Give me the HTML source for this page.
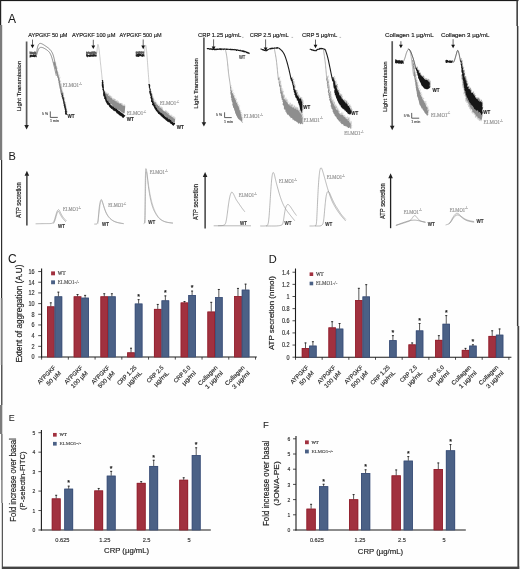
<!DOCTYPE html>
<html><head><meta charset="utf-8"><style>
html,body{margin:0;padding:0;background:#fff;overflow:hidden;}
svg{display:block;will-change:transform;}
text{font-family:"Liberation Sans", sans-serif;}
</style></head><body>
<svg width="520" height="569" viewBox="0 0 520 569">
<rect x="0" y="0" width="520" height="569" fill="#fefefe"/>
<text x="8" y="22.6" font-size="12" fill="#1a1a1a" stroke="#1a1a1a" stroke-width="0.05">A</text>
<text x="28.3" y="37" font-size="6" fill="#1a1a1a" textLength="39.2" lengthAdjust="spacingAndGlyphs" stroke="#1a1a1a" stroke-width="0.16">AYPGKF 50 µM</text>
<text x="72" y="37" font-size="6" fill="#1a1a1a" textLength="43.4" lengthAdjust="spacingAndGlyphs" stroke="#1a1a1a" stroke-width="0.16">AYPGKF 100 µM</text>
<text x="119.5" y="37" font-size="6" fill="#1a1a1a" textLength="42" lengthAdjust="spacingAndGlyphs" stroke="#1a1a1a" stroke-width="0.16">AYPGKF 500 µM</text>
<text x="198" y="37" font-size="6" fill="#1a1a1a" textLength="43.2" lengthAdjust="spacingAndGlyphs" stroke="#1a1a1a" stroke-width="0.16">CRP 1.25 µg/mL</text>
<text x="249.8" y="37" font-size="6" fill="#1a1a1a" textLength="39" lengthAdjust="spacingAndGlyphs" stroke="#1a1a1a" stroke-width="0.16">CRP 2.5 µg/mL</text>
<text x="302" y="37" font-size="6" fill="#1a1a1a" textLength="35.2" lengthAdjust="spacingAndGlyphs" stroke="#1a1a1a" stroke-width="0.16">CRP 5 µg/mL</text>
<text x="385.1" y="37" font-size="6" fill="#1a1a1a" textLength="48.5" lengthAdjust="spacingAndGlyphs" stroke="#1a1a1a" stroke-width="0.16">Collagen 1 µg/mL</text>
<text x="441" y="37" font-size="6" fill="#1a1a1a" textLength="48.5" lengthAdjust="spacingAndGlyphs" stroke="#1a1a1a" stroke-width="0.16">Collagen 3 µg/mL</text>
<line x1="242" y1="37.4" x2="243.6" y2="37.4" stroke="#777" stroke-width="0.5"/>
<line x1="291.5" y1="37.4" x2="293.1" y2="37.4" stroke="#777" stroke-width="0.5"/>
<line x1="339.5" y1="37.4" x2="341.1" y2="37.4" stroke="#777" stroke-width="0.5"/>
<text x="20.6" y="86" font-size="6" fill="#222" text-anchor="middle" textLength="50.6" lengthAdjust="spacingAndGlyphs" transform="rotate(-90 20.6 86)" stroke="#222" stroke-width="0.16">Light Transmission</text>
<line x1="26.6" y1="41.5" x2="26.6" y2="125.9" stroke="#5a5a5a" stroke-width="1.7"/>
<polygon points="24.3,125 28.9,125 26.6,129.4" fill="#222" stroke="none" stroke-width="1" stroke-linejoin="round"/>
<text x="198.2" y="83.4" font-size="6" fill="#222" text-anchor="middle" textLength="50.6" lengthAdjust="spacingAndGlyphs" transform="rotate(-90 198.2 83.4)" stroke="#222" stroke-width="0.16">Light Transmission</text>
<line x1="203.9" y1="37.4" x2="203.9" y2="123.1" stroke="#5a5a5a" stroke-width="1.7"/>
<polygon points="201.6,122.2 206.2,122.2 203.9,126.6" fill="#222" stroke="none" stroke-width="1" stroke-linejoin="round"/>
<text x="386.6" y="86.7" font-size="6" fill="#222" text-anchor="middle" textLength="50.6" lengthAdjust="spacingAndGlyphs" transform="rotate(-90 386.6 86.7)" stroke="#222" stroke-width="0.16">Light Transmission</text>
<line x1="392.2" y1="41.2" x2="392.2" y2="126.7" stroke="#5a5a5a" stroke-width="1.7"/>
<polygon points="389.9,125.8 394.5,125.8 392.2,130.2" fill="#222" stroke="none" stroke-width="1" stroke-linejoin="round"/>
<line x1="32.5" y1="39.6" x2="32.5" y2="45.2" stroke="#555" stroke-width="0.9"/>
<polygon points="30.6,44.7 34.4,44.7 32.5,48.3" fill="#111" stroke="none" stroke-width="1" stroke-linejoin="round"/>
<line x1="93.3" y1="39.8" x2="93.3" y2="45.9" stroke="#555" stroke-width="0.9"/>
<polygon points="91.4,45.4 95.2,45.4 93.3,49" fill="#111" stroke="none" stroke-width="1" stroke-linejoin="round"/>
<line x1="143.2" y1="39.5" x2="143.2" y2="46.1" stroke="#555" stroke-width="0.9"/>
<polygon points="141.3,45.6 145.1,45.6 143.2,49.2" fill="#111" stroke="none" stroke-width="1" stroke-linejoin="round"/>
<line x1="213.6" y1="39.3" x2="213.6" y2="46.9" stroke="#555" stroke-width="0.9"/>
<polygon points="211.7,46.4 215.5,46.4 213.6,50" fill="#111" stroke="none" stroke-width="1" stroke-linejoin="round"/>
<line x1="265.6" y1="39.4" x2="265.6" y2="47.9" stroke="#555" stroke-width="0.9"/>
<polygon points="263.7,47.4 267.5,47.4 265.6,51" fill="#111" stroke="none" stroke-width="1" stroke-linejoin="round"/>
<line x1="315.5" y1="39.6" x2="315.5" y2="45.2" stroke="#555" stroke-width="0.9"/>
<polygon points="313.6,44.7 317.4,44.7 315.5,48.3" fill="#111" stroke="none" stroke-width="1" stroke-linejoin="round"/>
<line x1="400.9" y1="41.2" x2="400.9" y2="45.2" stroke="#555" stroke-width="0.9"/>
<polygon points="399,44.7 402.8,44.7 400.9,48.3" fill="#111" stroke="none" stroke-width="1" stroke-linejoin="round"/>
<line x1="453.1" y1="39.2" x2="453.1" y2="45.2" stroke="#555" stroke-width="0.9"/>
<polygon points="451.2,44.7 455,44.7 453.1,48.3" fill="#111" stroke="none" stroke-width="1" stroke-linejoin="round"/>
<text x="42" y="115.4" font-size="3.4" fill="#555" textLength="6" lengthAdjust="spacingAndGlyphs" stroke="#555" stroke-width="0.16">5 %</text>
<path d="M50.3,111.8 L50.3,117.4 L57.4,117.4" fill="none" stroke="#333" stroke-width="0.8" stroke-linejoin="round" stroke-linecap="round"/>
<text x="50" y="121.9" font-size="3.2" fill="#555" textLength="9" lengthAdjust="spacingAndGlyphs" stroke="#555" stroke-width="0.16">1 min</text>
<text x="216" y="116.3" font-size="3.4" fill="#555" textLength="6" lengthAdjust="spacingAndGlyphs" stroke="#555" stroke-width="0.16">5 %</text>
<path d="M224.6,112.7 L224.6,117.6 L231.3,117.6" fill="none" stroke="#333" stroke-width="0.8" stroke-linejoin="round" stroke-linecap="round"/>
<text x="224" y="123" font-size="3.2" fill="#555" textLength="9" lengthAdjust="spacingAndGlyphs" stroke="#555" stroke-width="0.16">1 min</text>
<text x="403.7" y="116.7" font-size="3.4" fill="#555" textLength="6" lengthAdjust="spacingAndGlyphs" stroke="#555" stroke-width="0.16">5 %</text>
<path d="M411.7,113.3 L411.7,118.2 L418.8,118.2" fill="none" stroke="#333" stroke-width="0.8" stroke-linejoin="round" stroke-linecap="round"/>
<text x="411.3" y="123.1" font-size="3.2" fill="#555" textLength="9" lengthAdjust="spacingAndGlyphs" stroke="#555" stroke-width="0.16">1 min</text>
<polygon points="29.39,51.45 30.1,51.37 30.54,51.67 30.76,51.81 31.25,51.73 31.78,51.39 32.5,52.13 32.82,51.52 33.63,52.25 34.11,51.7 34.86,51.35 35.29,51.59 35.37,51.42 35.98,52.12 36.41,51.88 36.76,54.37 35.82,54.47 35.38,54.29 35.03,54.56 34.86,53.92 34.2,54.09 33.57,54.68 32.9,54.37 32.72,54.5 32.01,54.1 31.42,54.39 31.13,54.23 30.25,54.01 30.04,53.86 29.58,54.17" fill="#5c5c5c" stroke="none" stroke-width="1" stroke-linejoin="round"/>
<polygon points="29.75,54.4 30.14,54.7 30.57,54.55 31.25,55.09 31.51,54.78 31.75,54.82 32.64,55.14 33.26,54.36 33.48,54.79 33.75,54.56 34.35,54.18 34.79,54.9 35.34,54.32 36.02,55.01 36.32,54.54 36.85,57.33 36.36,57.31 35.7,56.51 35.09,57.13 34.87,57.21 33.98,57.07 33.23,56.91 33.11,56.74 32.37,56.98 31.82,56.71 31.83,56.62 30.93,57.42 30.37,56.91 30.22,57.4 29.53,57.42" fill="#1e1e1e" stroke="none" stroke-width="1" stroke-linejoin="round"/>
<polyline points="36.6,52.2 36.62,52.11 36.65,51.93 36.69,51.67 36.76,51.31 36.83,50.86 36.93,50.33 37.04,49.71 37.16,48.99 37.3,48.32 37.44,47.69 37.59,47.09 37.76,46.53 37.93,46.02 38.11,45.54 38.3,45.1 38.5,44.7 38.71,44.35 38.93,44.06 39.17,43.82 39.41,43.63 39.66,43.5 39.93,43.42 40.21,43.39 40.49,43.41 40.8,43.47 41.12,43.55 41.47,43.67 41.83,43.81 42.21,43.98 42.61,44.19 43.03,44.42 43.47,44.68 43.93,44.97 44.43,45.29 44.95,45.63 45.5,46 46.08,46.39 46.68,46.81 47.32,47.26 47.98,47.74 48.6,48.23 49.18,48.72 49.72,49.24 50.22,49.76 50.68,50.3 51.1,50.85 51.48,51.41 51.82,51.99 52.14,52.59 52.44,53.23 52.73,53.89 53,54.58 53.25,55.31 53.48,56.06 53.7,56.84 53.9,57.66 54.1,58.47 54.29,59.28 54.48,60.09 54.67,60.91 54.85,61.72 55.03,62.53 55.21,63.34 55.39,64.16 55.56,64.98 55.74,65.8 55.91,66.64 56.09,67.48 56.26,68.34 56.44,69.2 56.61,70.06 56.79,70.94 56.94,71.7 57.07,72.36 57.18,72.91 57.27,73.34 57.33,73.67 57.38,73.89 57.4,74" fill="none" stroke="#666" stroke-width="0.75" stroke-linejoin="round"/>
<polyline points="36.6,55 36.63,54.91 36.68,54.74 36.76,54.48 36.87,54.14 37,53.71 37.16,53.2 37.34,52.59 37.56,51.91 37.77,51.27 37.97,50.69 38.17,50.15 38.38,49.67 38.57,49.24 38.77,48.86 38.96,48.54 39.14,48.26 39.35,48.02 39.58,47.82 39.82,47.65 40.08,47.52 40.36,47.43 40.66,47.37 40.98,47.34 41.32,47.36 41.67,47.4 42.03,47.47 42.41,47.56 42.79,47.69 43.19,47.84 43.61,48.02 44.03,48.23 44.47,48.47 44.91,48.72 45.34,48.98 45.78,49.26 46.22,49.54 46.66,49.84 47.09,50.16 47.53,50.48 47.97,50.82 48.38,51.18 48.78,51.58 49.15,52 49.5,52.45 49.83,52.93 50.13,53.43 50.42,53.97 50.68,54.53 50.94,55.12 51.18,55.73 51.42,56.36 51.65,57.02 51.88,57.7 52.09,58.4 52.3,59.12 52.5,59.88 52.7,60.63 52.9,61.4 53.1,62.17 53.3,62.95 53.5,63.74 53.7,64.54 53.9,65.34 54.1,66.16 54.3,66.98 54.5,67.8 54.7,68.64 54.9,69.48 55.1,70.34 55.3,71.2 55.5,72.06 55.7,72.94 55.87,73.7 56.03,74.36 56.15,74.91 56.25,75.34 56.32,75.67 56.38,75.89 56.4,76" fill="none" stroke="#666" stroke-width="0.75" stroke-linejoin="round"/>
<polygon points="53.34,61.91 53.32,62.62 53.43,62.61 53.64,63.2 53.85,63.6 53.8,64.19 53.98,64.88 54.08,65.84 54.53,65.68 54.47,66.36 54.66,66.66 55.06,67.94 54.98,67.99 54.91,68.14 55.18,68.79 55.58,69.2 55.28,70.41 55.68,70.18 55.82,70.57 55.95,71.93 56.26,72.18 56.07,72.38 56.15,73.24 56.48,73.75 56.51,73.75 56.9,74.94 57.06,75.28 57.17,75.72 56.99,76.02 57.19,76.08 57.15,76.8 57.4,77.67 57.91,77.95 58.04,78.94 58.16,78.92 57.88,79.34 57.99,79.86 58.33,81.03 58.57,81.19 58.58,82.02 58.36,82.39 58.89,83 58.89,83.23 58.67,84.01 58.84,84.52 59.27,84.66 59.05,85.65 59.32,85.45 59.09,85.94 59.61,87.03 59.29,87.54 59.84,87.89 59.59,88.29 59.59,88.31 60.15,89.38 60.02,90.14 60.08,90.58 60.4,90.49 60.22,91.11 60.34,91.93 60.49,92.33 60.55,93.32 60.8,93.46 61.05,94.36 61.08,94.88 61.25,95.03 61.39,95.07 61.47,95.71 61.36,96.77 61.59,97.02 62.04,97.63 61.97,98.14 62.24,98.92 62.14,99.26 62.36,99.55 62.79,100.26 62.82,100.98 63.15,101.2 63.13,101.75 63.22,102.42 63.33,102.78 63.49,103.65 63.74,104.09 64,104.03 63.92,105.15 64.2,104.92 63.94,105.7 64.04,106.02 64.17,106.9 64.67,107.61 64.44,107.94 64.83,107.93 65.06,109.17 64.82,109.66 65.03,109.74 65.46,110.55 65.15,110.77 65.48,111.27 65.44,111.84 67.06,112.39 66.93,111.23 66.61,110.66 66.55,110.47 66.54,109.81 66.46,109.67 66.04,108.79 66.22,108.06 66.23,107.82 65.82,107.28 66,106.62 65.98,106.61 65.74,106.17 65.65,105.39 65.68,105.43 65.57,104.23 65.12,103.79 65.38,103.28 65.24,102.61 65.05,102.53 65.09,102.22 64.81,101.05 64.77,101.16 64.61,100.61 64.25,100.3 64.15,99.37 64.09,98.58 64.22,98.67 64.05,98.35 64.05,97.79 63.77,97.3 63.46,96.52 63.66,96.28 63.63,95.61 63.05,95.3 63.3,94.63 63.33,93.68 62.89,93.34 62.93,93.29 62.81,92.54 62.58,91.88 62.28,91.06 62,90.32 61.89,90.16 61.7,89.54 61.67,89.25 61.68,88.75 61.28,88.14 61.33,87.62 61.18,87.67 61.46,86.79 60.96,86.67 60.78,85.7 60.74,85.21 60.63,84.52 60.85,84.4 60.33,84.06 60.32,82.95 60.12,82.97 60.01,81.92 60.1,81.61 60.13,81.33 59.8,80.97 59.85,80.56 59.56,79.59 59.48,79.34 59.52,78.44 59.43,77.65 58.88,77.48 59.03,77.05 58.62,76.06 58.52,75.57 58.45,75.21 58.45,74.81 58.07,74.32 57.78,73.73 57.67,73.2 57.76,72.76 57.47,72.17 57.5,72.38 57.31,71.36 56.97,71.33 56.84,70.82 57.01,70.27 56.57,69.89 56.77,68.93 56.31,68.1 56.44,68.18 56.08,67.88 56.31,66.78 55.96,66.87 55.74,65.67 55.48,65.75 55.39,64.79 55.62,64.92 55.1,64.44 55.27,63.51 54.81,62.85 54.96,62.45 54.92,61.57" fill="#8a8a8a" stroke="none" stroke-width="1" stroke-linejoin="round"/>
<path d="M54.92,61.57l0.02,-0.01M54.96,62.45l0.52,-0.17M54.81,62.85l0.93,-0.3M55.27,63.51l1.1,-0.35M55.18,63.97l0.51,-0.16M55.1,64.44l0.31,-0.1M55.62,64.92l0.24,-0.08M55.39,64.79l1.08,-0.34M55.44,65.27l0.24,-0.08M55.48,65.75l0.66,-0.21M55.74,65.67l0.16,-0.05M55.85,66.27l0.6,-0.19M55.96,66.87l1.09,-0.34M56.31,66.78l0.15,-0.05M56.19,67.33l0.94,-0.3M56.08,67.88l0.58,-0.18M56.44,68.18l1.01,-0.32M56.31,68.1l0.8,-0.25M56.54,68.52l0.26,-0.08M56.77,68.93l1.02,-0.32M56.67,69.41l0.55,-0.18M56.57,69.89l0.03,-0.01M57.01,70.27l0,-0M56.84,70.82l0.56,-0.18M56.97,71.33l0.51,-0.16M57.31,71.36l0.34,-0.11M57.4,71.87l0.16,-0.05M57.5,72.38l0.39,-0.12M57.47,72.17l0.36,-0.11M57.76,72.76l0.96,-0.3M57.67,73.2l0,-0M57.78,73.73l0.86,-0.27M58.07,74.32l0.96,-0.3M58.45,74.81l0.14,-0.04M58.45,75.21l1.06,-0.33M58.52,75.57l0.81,-0.26M58.62,76.06l1.03,-0.32M58.82,76.55l0.33,-0.1M59.03,77.05l0.42,-0.13M58.88,77.48l0.45,-0.14M59.43,77.65l1.14,-0.36M59.52,78.44l0.67,-0.21M59.5,78.89l0.41,-0.13M59.48,79.34l0.49,-0.15M59.56,79.59l0.31,-0.1M59.71,80.07l0.06,-0.02M59.85,80.56l0.12,-0.04M59.8,80.97l0.95,-0.3M60.13,81.33l0.33,-0.1M60.1,81.61l1.07,-0.34M60.01,81.92l0.28,-0.09M60.06,82.44l0.3,-0.1M60.12,82.97l0.58,-0.18M60.32,82.95l0.22,-0.07M60.32,83.5l0.43,-0.13M60.33,84.06l1.09,-0.34M60.85,84.4l1.01,-0.32M60.63,84.52l0.93,-0.29M60.74,85.21l0.72,-0.23M60.78,85.7l1.04,-0.33M60.87,86.18l1.07,-0.34M60.96,86.67l0.63,-0.2M61.46,86.79l0.82,-0.26M61.32,87.23l0.06,-0.02M61.18,87.67l0.83,-0.26M61.33,87.62l0.51,-0.16M61.28,88.14l0.86,-0.27M61.68,88.75l0.73,-0.23M61.67,89.25l0.33,-0.1M61.7,89.54l0.06,-0.02M61.89,90.16l1.06,-0.33M62,90.32l0.15,-0.05M62.28,91.06l0.54,-0.17M62.58,91.88l0.39,-0.12M62.81,92.54l0.34,-0.11M62.93,93.29l0.84,-0.27M62.89,93.34l1.11,-0.35M63.33,93.68l0.3,-0.09M63.32,94.16l0.75,-0.24M63.3,94.63l0.34,-0.11M63.05,95.3l0.64,-0.2M63.63,95.61l0.45,-0.14M63.66,96.28l0.19,-0.06M63.46,96.52l0.18,-0.06M63.77,97.3l0.24,-0.07M64.05,97.79l1.03,-0.33M64.05,98.35l0.57,-0.18M64.22,98.67l0.25,-0.08M64.09,98.58l1.03,-0.33M64.15,99.37l1.14,-0.36M64.2,99.84l0.51,-0.16M64.25,100.3l0.16,-0.05M64.61,100.61l0.22,-0.07M64.77,101.16l0.1,-0.03M64.81,101.05l0.39,-0.12M64.95,101.64l0.1,-0.03M65.09,102.22l0.27,-0.09M65.05,102.53l0.29,-0.09M65.24,102.61l0.65,-0.21M65.38,103.28l1.01,-0.32M65.12,103.79l0.85,-0.27M65.57,104.23l0.47,-0.15M65.63,104.83l0.47,-0.15M65.68,105.43l0.6,-0.19M65.65,105.39l0.43,-0.14M65.74,106.17l0.39,-0.12M65.98,106.61l0.07,-0.02M66,106.62l0.32,-0.1M65.82,107.28l1.1,-0.35M66.23,107.82l0.14,-0.05M66.22,108.06l0.57,-0.18M66.04,108.79l0.72,-0.23M66.25,109.23l0.98,-0.31M66.46,109.67l0.25,-0.08M66.54,109.81l0.31,-0.1M66.55,110.47l0.28,-0.09M66.61,110.66l0.46,-0.14M66.93,111.23l0.51,-0.16M66.99,111.81l1.09,-0.34M67.06,112.39l0.97,-0.31" stroke="#8a8a8a" stroke-width="0.45" stroke-opacity="0.55" fill="none"/>
<polygon points="61.2,93.14 61.85,93.38 61.42,94.27 61.75,94.79 62,95.33 61.8,95.9 61.8,96.43 62.49,96.79 62.31,97.36 62.13,97.93 62.43,98.39 62.66,98.86 63.05,99.3 63.02,99.83 62.84,100.4 63.29,100.82 63.05,101.41 63.5,101.83 63.32,102.4 63.52,102.88 63.52,103.63 63.88,104.31 63.57,105.1 63.76,105.78 64.34,106.34 63.97,107.11 64.54,107.63 64.53,108.29 64.69,108.89 64.63,109.54 65.03,110.09 65.05,110.71 64.89,111.35 64.9,111.97 65.17,112.53 64.92,113.18 65.14,114.06 65.62,114.61 65.6,114.92 67.65,114.62 67.46,114.34 66.99,113.79 66.9,112.89 66.72,112.3 66.99,111.64 66.5,111.09 66.53,110.45 66.14,109.89 66.62,109.15 66.02,108.62 66.17,107.94 65.57,107.41 65.88,106.68 65.4,106.1 65.4,105.41 65.34,104.7 65.04,104.04 64.56,103.4 64.52,102.65 64.63,102.09 64.15,101.68 64.45,101.08 64.01,100.66 63.91,100.15 64.2,99.56 63.98,99.08 63.69,98.62 63.7,98.09 63.54,97.6 63.38,97.11 62.89,96.7 62.82,96.19 63.1,95.6 63.02,95.09 62.24,94.68 62.42,94.04 62.39,93.26 61.81,93" fill="#222" stroke="none" stroke-width="1" stroke-linejoin="round"/>
<polygon points="86.1,51.29 86.44,51.52 87.21,52.05 87.4,51.49 87.95,52.07 88.41,51.15 88.86,51.49 89.87,51.98 90.28,52.1 90.9,51.43 90.96,52.04 91.8,51.13 92.26,51.48 92.59,51.43 92.97,51.1 93.54,51.45 94.45,51.22 94.96,51.31 95.1,51.92 95.88,51.53 95.92,51.57 96.62,52.02 96.76,53.93 96.39,54.37 95.87,54.34 95.44,53.78 94.64,54.09 94.11,53.85 93.95,54.55 93.01,54.08 92.93,53.62 92.41,54.23 91.35,54.36 91.04,53.88 90.5,54.32 90.41,54.22 89.54,53.87 89.28,54.5 88.88,53.86 87.84,53.66 87.77,53.64 87.06,54.41 86.84,53.63 85.92,53.96" fill="#5c5c5c" stroke="none" stroke-width="1" stroke-linejoin="round"/>
<polygon points="85.98,54.25 86.79,53.94 86.91,54.68 87.45,53.92 87.81,54.46 88.51,54.93 89.38,54.94 89.48,53.94 89.87,54.4 90.78,54.34 90.97,54.31 91.73,54.59 92.32,54.78 92.77,53.98 93.39,54.17 93.72,54.26 94.33,54.07 94.51,54.12 94.96,54.82 95.74,54.21 96.13,54.94 96.7,54.1 96.63,56.86 95.91,56.36 95.89,56.85 95.06,56.47 94.8,56.45 93.85,56.61 93.77,56.47 93,56.91 92.43,56.47 91.97,56.66 91.72,56.93 91.44,56.37 90.48,57.11 90.38,56.74 89.92,56.66 89.44,56.89 88.37,56.46 87.82,56.57 87.84,57.26 87.09,57.15 86.93,56.36 86.3,56.97" fill="#1e1e1e" stroke="none" stroke-width="1" stroke-linejoin="round"/>
<polyline points="96.8,53 96.81,52.91 96.83,52.72 96.86,52.44 96.89,52.06 96.94,51.59 97,51.03 97.06,50.38 97.14,49.62 97.21,48.91 97.28,48.24 97.35,47.61 97.42,47.02 97.49,46.46 97.55,45.95 97.62,45.47 97.68,45.03 97.75,44.7 97.83,44.48 97.91,44.38 97.99,44.38 98.09,44.48 98.19,44.7 98.29,45.03 98.41,45.47 98.52,45.99 98.64,46.6 98.75,47.3 98.87,48.08 98.99,48.95 99.11,49.9 99.24,50.94 99.36,52.06 99.49,53.2 99.61,54.36 99.74,55.53 99.86,56.72 99.99,57.92 100.11,59.14 100.24,60.38 100.36,61.62 100.49,62.86 100.61,64.08 100.74,65.28 100.86,66.47 100.99,67.64 101.11,68.8 101.24,69.94 101.36,71.06 101.49,72.2 101.61,73.34 101.73,74.48 101.85,75.64 101.96,76.8 102.08,77.98 102.19,79.16 102.31,80.34 102.4,81.38 102.49,82.27 102.56,83.02 102.62,83.61 102.66,84.05 102.69,84.35 102.7,84.5" fill="none" stroke="#a8a8a8" stroke-width="0.6" stroke-linejoin="round"/>
<polygon points="104.52,91.43 104.35,92.44 105.02,92.18 105.63,93.61 106.09,93.39 106.59,93.51 107.53,94.73 107.63,94.03 108.31,94.37 108.09,95.68 108.82,95.9 109.22,96.38 109.68,95.76 109.72,96.7 110.69,97.65 110.68,97.7 111.37,97.98 111.63,98.08 112.39,99.39 112.49,99.19 113.52,100.22 113.46,99.41 114.53,100.97 114.59,100 115.4,100.79 115.83,101.44 116.2,101.08 116.61,101.45 116.73,102.61 117.55,101.95 117.5,102.53 118.21,102.78 118.36,102.85 119.34,104.02 119.25,103.82 120.35,103.34 120.91,103.7 121.21,104.56 121.75,104.46 122.09,105.09 122.61,105.43 123.21,105.4 123.44,105.92 124.6,105.75 125.22,106.69 124.58,113.8 124.73,113.13 123.51,113.02 123.24,113.65 122.73,112.71 121.72,112.04 121.43,111.57 121.13,112.23 120.68,112.39 120.32,111.09 119.75,110.52 119.02,110.4 118.47,110.92 118.51,110.36 117.89,109.6 117.28,109.47 116.38,109.99 116.34,109.5 116.14,108.71 115.5,108.1 114.62,107.99 114.22,108 114.21,107.8 113.33,107.49 112.78,106.07 112.72,105.9 112.03,105.43 111.82,105.97 111.64,104.5 111.26,104.28 110.69,103.72 109.66,103.59 109.85,103.99 109.55,102.5 108.77,103.2 108.14,102.8 108.22,102.14 107.94,101.96 107.68,100.32 106.96,100.21 106.62,99.31 106.5,99.87 106.11,98.44 105.7,97.92 105,97.97 104.68,97.43 104.51,96.29 104.26,96.05" fill="#8e8e8e" stroke="none" stroke-width="1" stroke-linejoin="round"/>
<path d="M104.52,91.43l0,-0.23M104.43,91.93l0,-0.79M104.35,92.44l0,-0.49M105.02,92.18l0,-1.28M105.22,92.66l0,-1.3M105.42,93.13l0,-0.45M105.63,93.61l0,-1.37M106.09,93.39l0,-1.04M106.59,93.51l0,-0.3M106.91,93.92l0,-2.06M107.22,94.32l0,-0.54M107.53,94.73l0,-0.33M107.63,94.03l0,-0.21M108.31,94.37l0,-1.4M108.2,95.02l0,-1.92M108.09,95.68l0,-1.72M108.82,95.9l0,-0.88M109.22,96.38l0,-0.58M109.68,95.76l0,-0.03M109.7,96.23l0,-1.42M109.72,96.7l0,-1.24M110.04,97.01l0,-0.77M110.37,97.33l0,-1.42M110.69,97.65l0,-0.98M110.68,97.7l0,-2.06M111.37,97.98l0,-1.61M111.63,98.08l0,-0.55M111.88,98.52l0,-1.99M112.13,98.95l0,-0.1M112.39,99.39l0,-1.17M112.49,99.19l0,-0.89M112.83,99.53l0,-0.52M113.18,99.88l0,-0.13M113.52,100.22l0,-1.71M113.46,99.41l0,-0.03M113.72,99.8l0,-1.21M113.99,100.19l0,-2.07M114.26,100.58l0,-0.31M114.53,100.97l0,-0.44M114.56,100.48l0,-1.34M114.59,100l0,-1.12M114.99,100.4l0,-1.41M115.4,100.79l0,-1.79M115.83,101.44l0,-0.38M116.2,101.08l0,-0.68M116.61,101.45l0,-0.66M116.67,102.03l0,-0.11M116.73,102.61l0,-1.96M117.14,102.28l0,-1.72M117.55,101.95l0,-1.57M117.5,102.53l0,-0.01M118.21,102.78l0,-1.86M118.36,102.85l0,-1.64M118.68,103.24l0,-1.02M119.01,103.63l0,-1.63M119.34,104.02l0,-1M119.25,103.82l0,-0.5M119.8,103.58l0,-0.23M120.35,103.34l0,-0.51M120.91,103.7l0,-0.09M121.06,104.13l0,-0.74M121.21,104.56l0,-1.65M121.75,104.46l0,-1.53M122.09,105.09l0,-1.86M122.61,105.43l0,-1.57M123.21,105.4l0,-0.59M123.44,105.92l0,-1.22M124.02,105.84l0,-0.96M124.6,105.75l0,-1.73M124.91,106.22l0,-1.15M125.22,106.69l0,-0.58" stroke="#8e8e8e" stroke-width="0.45" stroke-opacity="0.55" fill="none"/>
<polygon points="101.58,80.07 101.98,80.41 102.22,81.14 102.07,81.73 101.47,82.36 102.06,82.8 102.1,83.3 101.62,83.87 101.88,84.59 101.69,85.36 101.9,86.07 101.96,86.8 102.17,87.5 102.63,88.16 102.45,88.9 102.3,89.63 103.2,90.24 102.51,91.12 103.29,91.52 103.46,92.03 103.02,92.65 103.02,93.23 103.24,93.76 103.14,94.36 103.18,94.96 103.3,95.54 103.35,96.19 104.14,96.62 104.43,97.14 103.91,97.94 104.09,98.52 104.73,98.89 105.07,99.39 105.21,99.97 105.25,100.56 105.62,101.03 105.53,101.75 106.1,102.06 106.23,102.66 106.47,103.22 106.92,103.57 106.98,104.26 107.4,104.7 108.08,104.85 108.52,105.24 108.87,105.72 109.23,106.14 109.15,107.08 109.91,107.18 110.14,107.76 110.75,107.94 110.98,108.55 111.34,109 112.18,108.87 112.45,109.43 112.8,109.89 113.15,110.37 113.59,110.73 114.26,110.77 114.67,111.16 115.28,111.29 115.75,111.59 116.05,112.11 116.36,112.63 116.6,113.25 117.27,113.3 117.55,113.86 118.06,114.14 118.68,114.26 118.85,114.99 119.36,115.27 119.97,115.41 120.35,115.87 120.88,116.15 121.46,116.35 121.94,116.8 122.16,117.6 123.22,117.64 123.47,118.04 125.43,115.42 124.93,115.37 124.17,114.92 123.93,114.15 123.12,114.13 123.02,113.29 122.13,113.5 122.01,112.7 121.21,112.8 121.01,112.11 120.27,112.14 119.91,111.67 119.67,111.05 119.09,110.88 118.47,110.77 118.09,110.34 117.92,109.63 117.09,109.81 117.01,109 116.57,108.69 115.87,108.71 115.55,108.22 115.15,107.85 114.37,107.95 113.94,107.59 113.84,106.84 113.18,106.79 112.72,106.46 112.34,106.06 111.82,105.82 111.57,105.26 110.87,105.25 110.99,104.42 110.1,104.51 110.28,103.66 109.99,103.27 109.41,103.05 108.95,102.78 108.73,102.33 108.11,102.1 108.43,101.3 108.28,100.83 107.53,100.63 107.2,100.23 106.76,99.87 106.76,99.26 106.9,98.65 106.16,98.37 106.4,97.68 106.21,97.2 106.24,96.64 105.44,96.26 105.27,95.73 105.86,95.03 104.98,94.6 105.51,93.89 104.99,93.42 104.61,92.93 105.05,92.27 104.93,91.76 104.24,91.35 104.41,90.78 104.06,90.09 103.95,89.36 103.76,88.68 103.76,87.98 103.96,87.24 103.72,86.56 103.85,85.82 103.54,85.13 103.62,84.39 103.49,83.66 103.07,83.21 103.58,82.65 103.4,82.16 103.33,81.6 102.82,81.08 103.29,80.28 103.31,79.9" fill="#161616" stroke="none" stroke-width="1" stroke-linejoin="round"/>
<polygon points="135.4,51.23 135.93,51.88 136.76,51 137.41,51 137.58,51.88 138.34,51.63 138.63,51.1 139.27,51.01 139.52,51.29 139.93,51.3 140.89,51.59 141.23,51.53 141.72,51.04 142.32,51.3 142.91,51.81 143.23,51.47 143.94,51.32 144.14,51.62 144.34,53.94 143.8,53.5 143.45,54.34 142.79,53.56 142.54,53.44 141.67,53.89 141.32,54.18 140.98,53.58 140.15,54.08 139.67,54.02 139.03,53.82 138.8,54.03 138.11,54.18 137.72,53.5 137.11,53.71 136.73,54.04 136.23,54.25 135.83,54.17" fill="#5c5c5c" stroke="none" stroke-width="1" stroke-linejoin="round"/>
<polygon points="135.74,54.21 136.2,54.56 136.64,54.1 137.43,53.88 137.77,54.08 138.33,53.78 138.99,54.04 138.89,53.95 139.63,53.66 140.15,54.11 140.85,54.04 141.07,53.9 141.9,54.68 142.27,53.89 142.96,54.08 143.09,53.79 143.97,54.54 144.39,54.17 144.49,56.2 144,57.05 143.51,56.11 142.67,57.07 142.34,56.78 141.73,56.52 141.06,56.38 140.86,56.36 140,56.05 139.53,56.52 139.03,56.46 138.57,56.99 137.91,56.97 137.51,56.65 137.34,56.56 136.72,56.95 136.42,56.44 135.64,56.3" fill="#1e1e1e" stroke="none" stroke-width="1" stroke-linejoin="round"/>
<polyline points="144.5,53 144.51,52.91 144.52,52.72 144.55,52.44 144.58,52.06 144.62,51.59 144.66,51.03 144.72,50.38 144.78,49.62 144.84,48.93 144.91,48.28 144.97,47.69 145.03,47.16 145.09,46.67 145.16,46.24 145.22,45.86 145.28,45.54 145.35,45.29 145.42,45.13 145.5,45.05 145.58,45.05 145.66,45.13 145.75,45.29 145.85,45.54 145.95,45.86 146.05,46.32 146.15,46.91 146.26,47.63 146.37,48.47 146.47,49.46 146.58,50.57 146.69,51.81 146.81,53.19 146.92,54.61 147.04,56.08 147.15,57.59 147.27,59.16 147.39,60.77 147.51,62.42 147.64,64.12 147.76,65.88 147.89,67.61 148.01,69.33 148.14,71.03 148.26,72.72 148.39,74.39 148.51,76.05 148.64,77.69 148.76,79.31 148.89,80.84 149.01,82.28 149.14,83.62 149.26,84.88 149.39,86.03 149.51,87.09 149.64,88.06 149.76,88.94 149.87,89.7 149.97,90.36 150.04,90.91 150.11,91.34 150.15,91.67 150.18,91.89 150.2,92" fill="none" stroke="#a8a8a8" stroke-width="0.6" stroke-linejoin="round"/>
<polygon points="150.84,92.16 150.4,91.82 151.38,93.41 151.1,93.35 151.24,94.12 151.9,94.79 151.65,96.01 152.31,95.66 152.57,96.68 152.69,97.23 152.96,97.86 153.19,97.79 153.36,98.82 153.66,99.26 154.03,99.95 153.83,100.03 153.99,100.8 154.21,101.23 154.56,101.72 155.12,102.23 155.7,102.05 156.03,103.06 156.17,103.75 156.75,103.85 156.82,105 156.98,105.06 157.79,104.78 158.2,106.01 158.87,106.03 159.38,106.68 159.49,107.59 159.66,107.81 160.59,107.79 161.26,108.25 161.48,108.86 162.19,108.89 162.45,109.55 163.04,110.43 163.35,110.82 163.93,110.8 164.34,111.18 165.34,111.74 165.71,111.72 165.87,112.06 166.56,112.84 167.2,112.5 167.66,113.89 168.03,113.26 168.36,113.58 168.81,115.07 169.64,115.15 170.33,115.85 170.77,115.91 171.37,116.43 171.94,116.83 172.08,117.1 172.68,117.51 172.84,117.11 173.26,118.15 174.36,118.33 174.59,118.97 175.21,118.87 174.81,123.13 174.87,123.36 174.28,122.17 173.29,122.36 173.42,121.88 172.72,121.97 171.71,121.86 171.55,121.2 170.93,121.16 170.4,119.89 169.62,120.47 168.86,119.64 168.34,118.78 168.29,119.37 167.63,118.75 167.28,118.1 166.36,117.79 166.24,117.62 165.58,117.7 165.24,116.55 164.84,116.62 163.85,115.47 163.7,115.71 163.21,115.76 162.44,114.69 162.1,114.57 161.71,113.83 161.13,113.13 160.55,113.04 159.68,112.49 159.76,112.17 159.2,111.32 158.27,111.03 158.26,111.17 157.37,109.74 157.67,110.11 157.26,109.08 156.75,108.85 155.95,108.58 156.18,108.22 155.8,107.72 155.07,106.44 154.81,106.77 154.38,106.26 154.72,105.05 154.54,104.51 154.08,104.05 153.34,103.31 153.22,102.89 152.86,102.8 152.86,101.83 153,101.99 152.41,101.01 152.26,99.79 152.15,100.29 151.63,99.58 151.75,98.07 151.79,97.43 151.2,97.48 150.89,96.22 150.63,95.76" fill="#8e8e8e" stroke="none" stroke-width="1" stroke-linejoin="round"/>
<path d="M150.84,92.16l0,-1.36M150.4,91.82l0,-0.93M150.64,92.22l0,-0.41M150.89,92.61l0,-0.51M151.13,93.01l0,-1.5M151.38,93.41l0,-1.58M151.1,93.35l0,-0.92M151.24,94.12l0,-0.18M151.57,94.46l0,-1.61M151.9,94.79l0,-1.54M151.77,95.4l0,-0.47M151.65,96.01l0,-1.16M152.31,95.66l0,-1.79M152.44,96.17l0,-1.77M152.57,96.68l0,-1.04M152.69,97.23l0,-0.95M152.96,97.86l0,-1.18M153.19,97.79l0,-0.38M153.28,98.31l0,-0.38M153.36,98.82l0,-0.36M153.66,99.26l0,-1.4M154.03,99.95l0,-0.73M153.83,100.03l0,-1.13M153.99,100.8l0,-0.8M154.21,101.23l0,-1.03M154.56,101.72l0,-0.3M155.12,102.23l0,-0.09M155.7,102.05l0,-1.99M155.86,102.56l0,-0.75M156.03,103.06l0,-0.21M156.17,103.75l0,-1.27M156.75,103.85l0,-1.57M156.78,104.43l0,-0.31M156.82,105l0,-1.19M156.98,105.06l0,-0.69M157.79,104.78l0,-1.04M157.99,105.39l0,-0.04M158.2,106.01l0,-0.07M158.87,106.03l0,-1.98M159.38,106.68l0,-1.73M159.43,107.14l0,-0.97M159.49,107.59l0,-1.13M159.66,107.81l0,-0.52M160.13,107.8l0,-1.56M160.59,107.79l0,-0.85M161.26,108.25l0,-1.89M161.48,108.86l0,-1.53M162.19,108.89l0,-1.64M162.45,109.55l0,-1.93M162.75,109.99l0,-0.51M163.04,110.43l0,-0.08M163.35,110.82l0,-0.4M163.93,110.8l0,-0.36M164.34,111.18l0,-0.17M164.84,111.46l0,-0.1M165.34,111.74l0,-1.11M165.71,111.72l0,-1.74M165.87,112.06l0,-0.92M166.22,112.45l0,-1.89M166.56,112.84l0,-1.82M167.2,112.5l0,-0.13M167.36,112.96l0,-1.2M167.51,113.42l0,-0.79M167.66,113.89l0,-0.24M168.03,113.26l0,-1.92M168.36,113.58l0,-0.51M168.51,114.08l0,-1.13M168.66,114.58l0,-1.28M168.81,115.07l0,-1.91M169.64,115.15l0,-1.34M169.99,115.5l0,-0.79M170.33,115.85l0,-0.9M170.77,115.91l0,-0.32M171.37,116.43l0,-1.93M171.94,116.83l0,-1.98M172.08,117.1l0,-0.44M172.68,117.51l0,-0.08M172.84,117.11l0,-0.51M173.05,117.63l0,-0.7M173.26,118.15l0,-1.81M173.81,118.24l0,-1.81M174.36,118.33l0,-1.67M174.59,118.97l0,-0.09M175.21,118.87l0,-1.57" stroke="#8e8e8e" stroke-width="0.45" stroke-opacity="0.55" fill="none"/>
<polygon points="148.42,84.09 148.2,84.44 149.01,84.97 148.4,86 149.04,86.56 148.7,87.24 149.17,87.91 149.44,88.61 149.47,89.16 149.57,89.7 149.76,90.23 149.68,90.86 149.12,91.58 149.21,92.19 149.33,92.69 149.79,93.12 149.44,93.7 149.79,94.17 150.16,94.76 150.15,95.42 150.56,96.01 150.76,96.6 150.45,97.31 150.3,97.99 150.83,98.48 151.08,99.03 151.16,99.62 151.17,100.22 150.95,100.86 151.03,101.44 151.25,101.94 151.98,102.26 152.07,102.79 152.37,103.46 151.94,104.4 152.24,105.02 153.01,105.43 153.45,105.91 153.51,106.56 154.01,106.99 154.03,107.69 154.61,108.07 154.52,108.86 154.94,109.36 155.45,109.78 155.89,110.26 155.82,111.13 156.63,111.33 157.12,111.78 157.29,112.53 157.92,112.85 158.08,113.66 158.64,114.08 159.46,114.23 159.76,114.94 160.47,115.16 160.81,115.8 161,116.6 161.99,116.45 162.24,117.19 162.86,117.45 163.06,118.25 163.91,118.16 164.17,118.85 164.71,119.18 165.2,119.56 165.59,120.09 166,120.58 166.58,120.85 167.05,121.27 167.48,121.74 168.18,121.86 168.66,122.27 169.45,122.31 169.85,122.86 170.44,123.18 170.57,124.1 171.49,124.01 171.97,124.5 172.14,125.11 172.58,125.37 173.34,125.49 173.27,126.14 174.96,123.93 175.14,123.15 174.5,122.86 174.03,122.65 173.31,122.75 173.14,121.86 172.23,121.93 171.81,121.38 171.24,121.04 171.14,120.09 170.38,120.01 169.85,119.65 169.57,118.96 168.58,119.23 168.24,118.63 167.7,118.31 167.47,117.59 166.58,117.72 166.25,117.12 165.51,117.07 165.2,116.44 164.69,116.08 164.1,115.85 163.98,114.99 163.51,114.59 162.78,114.48 162.49,113.84 161.98,113.44 161.43,113.08 160.94,112.63 160.13,112.54 160.05,111.7 159.47,111.38 158.82,111.13 158.61,110.48 157.85,110.32 157.89,109.5 157.14,109.32 157.06,108.63 156.98,107.98 156.09,107.86 156.28,107.07 155.43,106.89 155.68,106.1 155.55,105.54 155.1,105.14 154.99,104.58 154.08,104.27 154.59,103.4 153.82,102.95 153.48,102.32 153.51,101.78 153.51,101.24 152.82,100.92 152.71,100.37 152.73,99.78 152.44,99.29 152.88,98.58 152.13,98.16 152.08,97.57 151.83,97 152.18,96.29 151.61,95.79 151.83,95.09 151.87,94.43 151.41,93.86 151.65,93.31 150.9,92.93 150.84,92.43 151.38,91.82 150.7,91.32 150.42,90.74 150.92,90.04 150.79,89.52 150.31,89.04 150.43,88.47 150.12,87.78 149.87,87.09 150.22,86.41 150.21,85.78 150.16,84.84 149.45,84.29 149.93,83.91" fill="#161616" stroke="none" stroke-width="1" stroke-linejoin="round"/>
<polygon points="206.74,49.07 207.14,49.35 208.02,49.22 208.66,49.3 209.24,49.81 209.83,49.71 210.43,49.53 210.95,50.06 211.55,49.8 212.11,49.9 212.66,50.2 213.25,49.87 213.8,49.89 214.35,50.3 214.91,50.26 215.45,50.23 216.01,50.04 216.56,50.27 217.09,49.94 217.62,49.89 218.19,49.7 218.77,49.95 219.34,49.72 219.96,50.1 220.58,50 221.2,50.14 221.86,49.63 222.53,49.76 223.19,49.76 223.72,50.15 224.25,49.75 224.78,49.86 225.31,49.77 225.83,50 226.36,49.98 226.89,49.94 227.41,49.92 227.94,49.75 228.47,49.77 228.99,49.95 229.52,49.88 230.03,50.09 230.55,50.16 231.07,50.22 231.59,50.29 232.11,50.23 232.64,50.23 233.18,50.14 233.68,50.34 234.17,50.44 234.69,50.35 235.21,50.34 235.68,50.55 236.28,50.93 236.94,50.89 237.64,50.55 238.22,50.88 238.84,50.95 239.41,51.25 240.05,51.07 240.58,51.49 241.21,51.36 241.71,51.69 242.25,51.93 242.84,51.86 243.32,52.14 243.89,52.13 244.36,52.41 244.95,52.24 245.47,52.34 245.84,52.83 246.21,53.22 246.8,53.1 247.16,53.53 247.8,53.47 248.3,53.72 249.04,53.9 249.33,54.18 249.83,52.91 249.48,52.77 248.85,52.31 248.27,52.26 247.78,51.96 247.35,51.68 246.84,51.62 246.34,51.47 245.87,51.14 245.4,50.92 244.89,50.72 244.31,50.64 243.78,50.5 243.23,50.36 242.66,50.17 242.08,50.16 241.47,50.18 240.84,50.17 240.34,49.58 239.65,49.97 239.05,49.67 238.4,49.79 237.84,49.21 237.13,49.54 236.49,49.37 235.84,49.29 235.34,49.07 234.86,48.84 234.3,49.29 233.81,49.01 233.27,49.06 232.75,48.97 232.24,48.74 231.7,48.79 231.16,48.91 230.64,48.66 230.13,48.46 229.57,48.88 229.04,48.74 228.51,48.71 227.98,48.79 227.45,48.52 226.91,48.67 226.39,48.25 225.85,48.74 225.32,48.62 224.78,48.23 224.25,48.49 223.72,48.43 223.18,48.47 222.52,48.4 221.85,48.42 221.18,48.28 220.56,48.34 219.94,48.27 219.31,48.26 218.75,48.84 218.16,48.6 217.58,48.56 217.04,48.51 216.52,48.76 215.99,48.35 215.46,48.89 214.92,48.43 214.4,48.43 213.86,48.63 213.3,48.72 212.78,48.37 212.22,48.56 211.68,48.25 211.11,48.47 210.59,48.14 210.02,48.12 209.41,48.42 208.8,48.08 208.15,48.11 207.29,48.09 206.88,47.91" fill="#1a1a1a" stroke="none" stroke-width="1" stroke-linejoin="round"/>
<polyline points="225.4,49.5 225.42,49.59 225.46,49.76 225.51,50.02 225.59,50.36 225.68,50.79 225.79,51.3 225.92,51.91 226.08,52.59 226.22,53.32 226.37,54.09 226.51,54.89 226.64,55.73 226.78,56.62 226.91,57.54 227.04,58.5 227.16,59.5 227.29,60.53 227.41,61.6 227.53,62.71 227.65,63.84 227.76,65.02 227.88,66.22 227.99,67.46 228.11,68.74 228.22,69.97 228.34,71.15 228.46,72.29 228.59,73.38 228.72,74.43 228.85,75.44 228.98,76.39 229.12,77.31 229.25,78.21 229.39,79.11 229.52,80 229.65,80.88 229.78,81.75 229.91,82.62 230.04,83.48 230.16,84.32 230.27,85.07 230.37,85.71 230.44,86.24 230.51,86.66 230.55,86.98 230.58,87.19 230.6,87.3" fill="none" stroke="#9a9a9a" stroke-width="0.8" stroke-linejoin="round"/>
<polygon points="230.29,86.29 230.74,86.44 230.76,87 230.87,87.61 231.23,88.71 231.12,89.63 231.43,90.14 231.92,90.83 231.73,90.88 232.35,91.05 232.02,92.19 232.5,93.13 232.88,93.33 233.23,93.89 233.17,94.64 233.33,94.9 233.68,95.48 234.14,96.38 234.14,96.39 234.3,97.28 234.65,98 235.08,98.94 235.09,98.97 235.4,100.05 235.46,100.1 235.97,100.26 235.89,101.56 236.41,101.59 236.2,102.46 236.76,102.84 237.15,103.37 237.02,103.09 237.23,104.11 237.65,104.44 237.72,105.51 238.24,105.85 238.72,106.73 238.4,107.1 239.07,107.56 239.24,107.82 239.23,109.26 239.63,109.7 239.62,110.19 240.06,110.61 240.34,111.58 240.77,112.32 240.57,112.37 240.57,113.51 240.69,113.35 240.86,114.28 241.38,114.87 241.5,114.82 241.13,116.04 241.42,116.49 241.55,116.46 241.58,116.9 242.05,117.89 241.81,118.27 241.9,118.4 242.27,119.44 242.38,119.81 242.25,120.21 241.98,121.47 242.56,121.63 242.64,122.52 242.01,122.74 241.95,122.42 241.72,121.58 241.19,121.49 240.55,120.87 240.34,120.18 239.79,120.2 238.98,119.19 238.71,119.32 238.25,119.1 238.1,118.51 237.53,117.68 237.35,117.38 236.74,116.09 236.73,115.54 236.45,115.78 236,115.29 235.96,114.16 235.44,113.42 235.13,113.02 235.18,112.42 235.02,111.96 234.89,111.17 234.81,110.85 234.18,110.23 234.15,109.96 234.19,109.66 234.05,108.84 233.7,108.08 233.27,107.76 233.15,107.56 233,106.7 233.03,105.87 232.67,105.77 232.42,104.96 232.31,104.05 232.58,103.44 232.43,102.46 232.12,101.94 231.64,101.24 231.9,101.02 231.35,100.01 231.31,99.74 231.47,98.36 231.14,97.78 230.87,97.66 230.93,96.61 230.82,95.88 231.08,95.35 230.57,94.62 230.7,94.4 230.48,94.03 230.53,93.52 230.41,93.39 230.34,92.23 230.65,91.54 230.65,91.19 230.2,90.43 230.23,90.19 230.5,89.06 230.42,88.43 229.98,88.1" fill="#8e8e8e" stroke="none" stroke-width="1" stroke-linejoin="round"/>
<path d="M230.29,86.29l0.62,-0.82M230.74,86.44l0.77,-1.03M230.76,87l0.28,-0.37M230.87,87.61l0.47,-0.63M231.05,88.16l0.74,-0.99M231.23,88.71l0.38,-0.5M231.17,89.17l0,-0M231.12,89.63l0.9,-1.2M231.43,90.14l0.84,-1.12M231.92,90.83l0.31,-0.41M231.73,90.88l0.05,-0.06M232.35,91.05l0.92,-1.23M232.18,91.62l0.66,-0.87M232.02,92.19l0.05,-0.07M232.26,92.66l0.26,-0.35M232.5,93.13l0.12,-0.16M232.88,93.33l0.85,-1.14M233.23,93.89l0.23,-0.3M233.17,94.64l0.99,-1.32M233.33,94.9l0.81,-1.08M233.68,95.48l0.09,-0.12M233.91,95.93l0.75,-1M234.14,96.38l0.43,-0.57M234.14,96.39l0.81,-1.08M234.3,97.28l0.9,-1.19M234.65,98l0.3,-0.4M234.87,98.47l0.1,-0.13M235.08,98.94l1.02,-1.36M235.09,98.97l0.46,-0.61M235.24,99.51l1,-1.34M235.4,100.05l0.75,-1M235.46,100.1l0.8,-1.06M235.97,100.26l0.9,-1.2M235.93,100.91l0.68,-0.9M235.89,101.56l0.49,-0.65M236.41,101.59l0.06,-0.08M236.2,102.46l0.75,-1.01M236.76,102.84l0.46,-0.62M237.15,103.37l0.55,-0.74M237.02,103.09l1,-1.34M237.12,103.6l0.14,-0.18M237.23,104.11l0.82,-1.1M237.65,104.44l0.05,-0.06M237.68,104.97l0.76,-1.01M237.72,105.51l0.87,-1.16M238.24,105.85l0.28,-0.38M238.48,106.29l0.59,-0.79M238.72,106.73l1.05,-1.4M238.4,107.1l0.69,-0.92M239.07,107.56l0.59,-0.78M239.24,107.82l0.27,-0.36M239.24,108.3l0.06,-0.09M239.23,108.78l0.39,-0.52M239.23,109.26l0.44,-0.59M239.63,109.7l0.22,-0.29M239.62,110.19l0.34,-0.45M240.06,110.61l0.15,-0.2M240.2,111.09l0.76,-1.02M240.34,111.58l0.72,-0.97M240.77,112.32l0.26,-0.34M240.57,112.37l0.26,-0.35M240.57,112.94l0.56,-0.74M240.57,113.51l0.48,-0.64M240.69,113.35l1.01,-1.35M240.77,113.81l0.38,-0.51M240.86,114.28l0.32,-0.43M241.38,114.87l0.96,-1.27M241.5,114.82l0.15,-0.2M241.31,115.43l0.61,-0.81M241.13,116.04l0.36,-0.48M241.42,116.49l0.88,-1.17M241.55,116.46l0.59,-0.79M241.58,116.9l0.82,-1.1M241.82,117.4l0.18,-0.24M242.05,117.89l0.72,-0.96M241.81,118.27l0.65,-0.86M241.9,118.4l0.5,-0.66M242.08,118.92l0.83,-1.1M242.27,119.44l0.9,-1.2M242.38,119.81l0.12,-0.16M242.25,120.21l0.31,-0.42M242.11,120.84l0.39,-0.52M241.98,121.47l0.22,-0.3M242.56,121.63l0.07,-0.09M242.64,122.52l0.3,-0.4" stroke="#8e8e8e" stroke-width="0.45" stroke-opacity="0.55" fill="none"/>
<polygon points="260.42,49.23 260.51,49.43 260.84,49.49 261.28,49.7 261.95,49.79 262.34,50.55 263.17,50.33 263.59,51.1 264.49,50.94 265.23,51.28 266.03,51.28 266.91,51.2 267.47,50.63 268.12,50.3 268.78,49.76 269.61,49.34 270.23,49.67 270.61,49.16 271.25,49.43 271.73,48.92 272.44,49.21 273.04,48.82 273.8,49.03 274.49,48.68 275.02,48.64 275.56,48.52 276.12,48.68 276.74,48.78 277.35,48.78 278.14,48.48 278.53,48.24 278.46,47.27 278.04,47.18 277.21,46.98 276.61,47.17 276.01,47.26 275.49,47.66 274.91,47.22 274.37,47.43 273.64,47.65 272.91,47.82 272.19,47.59 271.51,47.67 270.9,47.71 270.33,48 269.86,48.34 269.25,48.21 268.45,48.89 267.59,49.18 266.64,49.22 266.16,49.75 265.81,50.28 265.29,50.21 264.83,49.94 264.26,49.62 263.66,49.25 263.03,48.95 262.24,49.1 261.67,48.76 261.29,48.4 260.91,48.48 260.9,48.09" fill="#1a1a1a" stroke="none" stroke-width="1" stroke-linejoin="round"/>
<polyline points="278.5,47.8 278.58,47.87 278.73,48 278.96,48.19 279.27,48.46 279.65,48.78 280.11,49.18 280.64,49.64 281.26,50.16 281.84,50.73 282.38,51.35 282.9,52.01 283.38,52.72 283.83,53.47 284.24,54.26 284.62,55.11 284.97,55.99 285.32,56.91 285.66,57.85 285.99,58.83 286.31,59.83 286.63,60.85 286.94,61.91 287.25,62.99 287.55,64.11 287.84,65.2 288.12,66.29 288.39,67.36 288.66,68.42 288.91,69.46 289.15,70.49 289.39,71.5 289.61,72.5 289.83,73.45 290.03,74.36 290.23,75.22 290.42,76.03 290.6,76.8 290.77,77.52 290.93,78.19 291.07,78.81 291.21,79.36 291.32,79.83 291.41,80.22 291.49,80.53 291.54,80.77 291.58,80.92 291.6,81" fill="none" stroke="#1a1a1a" stroke-width="1.1" stroke-linejoin="round"/>
<polyline points="274.4,49 274.43,49.16 274.49,49.47 274.58,49.95 274.7,50.58 274.85,51.37 275.02,52.31 275.23,53.42 275.47,54.68 275.69,55.96 275.91,57.24 276.11,58.54 276.29,59.86 276.47,61.18 276.63,62.52 276.78,63.87 276.92,65.23 277.05,66.58 277.19,67.91 277.32,69.23 277.45,70.54 277.58,71.83 277.71,73.11 277.84,74.38 277.96,75.62 278.07,76.72 278.17,77.66 278.24,78.44 278.31,79.06 278.35,79.53 278.38,79.84 278.4,80" fill="none" stroke="#9a9a9a" stroke-width="0.8" stroke-linejoin="round"/>
<polygon points="278.08,77.33 278.26,77.96 278.11,79.75 277.86,78.76 278.28,79.51 278.63,79.7 278.83,81.57 278.86,81.38 278.46,82.26 278.76,82.37 278.68,82.9 279.08,84.02 279.39,83.46 278.89,84.41 279.23,84.76 278.96,84.84 279.16,85.94 279.87,87.15 279.85,87.76 280.04,87.72 279.98,87.35 279.94,88.76 279.67,89.22 280.39,89.61 280.19,89.85 279.99,91.31 279.78,90.72 280.5,91.67 280.02,92.51 280.39,92.88 280.52,93.3 280.76,93.58 280.42,93.74 281.26,94.83 280.6,95.83 280.84,95.1 281.21,95.85 281.28,96.84 281.13,97.37 281.12,97.77 281.68,97.58 281.63,98.07 281.78,99.83 282.01,100.09 282.33,99.63 282.67,101.1 281.94,101.84 282.35,101.35 283.02,102.54 282.96,102.42 283.07,102.79 282.65,103.8 282.53,104.65 282.82,104.68 283.45,105.38 283.77,106.19 283.91,106.6 284.1,107.59 283.58,107.89 283.95,108.42 284.47,109.02 284.14,108.8 284.98,110.22 285.21,109.27 285.35,109.86 285.55,111.48 285.43,112.18 286.27,111.61 286.11,112.41 287.02,113.13 286.63,112.63 286.94,114.28 287.31,114.29 287.72,114.9 288.11,114.43 288.96,115.46 289.15,116.29 289.77,115.42 289.55,116.04 290.08,117.6 290.75,116.61 290.54,118.21 291.4,117.88 291.59,117.85 292.33,118.58 292.76,119.23 292.39,119.08 292.93,120.28 293.69,119.22 293.68,120.03 294.42,120.67 294.79,120.62 294.88,121.28 295.64,120.68 296.21,122.53 296.31,121.48 297.41,121.99 297.53,122.65 298.02,123.06 298.78,123.98 299.82,122.72 300.01,124.12 300.91,124.34 301.23,124.02 301.52,123.35 302.48,124.2 302.75,124.19 302.72,122.22 302.22,122.5 302.05,122.12 302.39,121.58 302.38,120.35 301.95,120.18 302.24,119.98 302,118.56 302.4,118.83 302.47,117.42 301.74,117.85 301.75,116.86 301.76,117.04 302.13,115.98 301.56,114.78 301.52,114.64 301.41,113.85 301.8,113.95 300.99,113.92 300.35,112.85 300.38,112.83 299.65,112.18 299.28,112.02 299.08,112 299.12,110.99 298.56,110.5 298.42,110.46 297.75,109.75 296.69,109.12 296.77,110.26 295.73,108.78 296.02,108.78 295.2,108.24 294.28,108.5 293.8,107.66 294.05,107.34 293.82,107.32 293.16,107.28 292.43,107.5 291.65,106.21 291.55,107.37 291.01,105.98 290.85,106.76 290.38,105.36 289.85,105.75 289.41,104.61 288.86,104.33 288.41,104.45 287.98,103.94 287.84,103.28 287.38,102.34 286.45,101.98 286.27,101.45 286.2,102.01 286.21,100.49 285.81,100.85 285.08,99.47 284.93,99.36 284.4,99.24 283.84,98.95 283.58,98.11 283.97,97.49 283.74,97.1 283.23,97.15 283.61,95.79 283.36,95.97 282.5,95.31 282.5,94.17 282.81,94.85 282.47,93.08 282.45,93.99 282.23,92.26 282.04,92.83 281.7,91.27 281.87,90.77 281.23,90.32 281.19,89.4 281.68,89.28 280.76,89.09 280.98,89.17 280.79,88.49 280.88,88.31 280.27,86.49 280.98,86.63 280.89,85.74 280.58,85.58 280.07,84.69 279.84,83.81 280.12,83.68 279.9,83.41 279.37,83.59 279.59,81.92 279.39,81.58 279.51,81.29 279.26,81.78 278.9,80.24 279.27,79.85 279.24,79.26 279.24,79.01 278.72,78.92 279.22,78.29" fill="#8e8e8e" stroke="none" stroke-width="1" stroke-linejoin="round"/>
<path d="M279.22,78.29l0.27,-0.85M278.72,78.92l0.02,-0.07M279.24,79.01l0.1,-0.32M279.24,79.26l0.88,-2.78M279.27,79.85l0.01,-0.03M278.9,80.24l0.82,-2.6M279.02,80.75l0.14,-0.43M279.14,81.27l0.66,-2.1M279.26,81.78l0.09,-0.28M279.51,81.29l0.15,-0.48M279.39,81.58l0.61,-1.95M279.59,81.92l0.08,-0.26M279.52,82.48l0.31,-0.97M279.44,83.03l0.83,-2.62M279.37,83.59l0.64,-2.04M279.9,83.41l0.79,-2.51M280.12,83.68l0.88,-2.79M279.84,83.81l0.03,-0.09M279.95,84.25l0.21,-0.67M280.07,84.69l0.71,-2.26M280.32,85.14l0.62,-1.96M280.58,85.58l0.03,-0.11M280.89,85.74l0.45,-1.44M280.98,86.63l0.21,-0.66M280.27,86.49l0.39,-1.23M280.42,86.94l0.09,-0.3M280.57,87.4l0.02,-0.06M280.73,87.85l0.89,-2.82M280.88,88.31l0.28,-0.9M280.79,88.49l0.79,-2.5M280.98,89.17l0.11,-0.34M280.76,89.09l0.44,-1.39M281.22,89.18l0.12,-0.39M281.68,89.28l0.39,-1.22M281.19,89.4l0.16,-0.51M281.21,89.86l0.62,-1.95M281.23,90.32l0.13,-0.42M281.87,90.77l0.66,-2.1M281.7,91.27l0.45,-1.43M281.82,91.79l0.1,-0.32M281.93,92.31l0.32,-1.01M282.04,92.83l0.45,-1.41M282.23,92.26l0.83,-2.62M282.3,92.84l0.31,-1M282.38,93.42l0.19,-0.61M282.45,93.99l0.87,-2.76M282.46,93.53l0.79,-2.52M282.47,93.08l0.66,-2.08M282.55,93.52l0.25,-0.78M282.64,93.96l0.16,-0.51M282.73,94.41l0.24,-0.75M282.81,94.85l0.06,-0.2M282.5,94.17l0.04,-0.12M282.5,94.74l0.46,-1.45M282.5,95.31l0.37,-1.16M282.93,95.64l0.5,-1.59M283.36,95.97l0.33,-1.03M283.61,95.79l0.01,-0.03M283.48,96.24l0.62,-1.96M283.36,96.7l0.59,-1.86M283.23,97.15l0.49,-1.55M283.74,97.1l0.49,-1.56M283.97,97.49l0.62,-1.97M283.58,98.11l0.88,-2.8M283.84,98.95l0.79,-2.49M284.4,99.24l0.65,-2.05M284.93,99.36l0.36,-1.14M285.08,99.47l0.29,-0.91M285.33,99.93l0.38,-1.19M285.57,100.39l0.88,-2.77M285.81,100.85l0.35,-1.1M286.21,100.49l0.35,-1.1M286.21,101l0.37,-1.17M286.2,101.5l0.13,-0.41M286.2,102.01l0.9,-2.85M286.27,101.45l0,-0.01M286.45,101.98l0.55,-1.73M286.92,102.16l0.83,-2.64M287.38,102.34l0.23,-0.73M287.61,102.81l0.55,-1.74M287.84,103.28l0.34,-1.07M287.98,103.94l0.22,-0.69M288.41,104.45l0.18,-0.57M288.86,104.33l0.1,-0.33M289.41,104.61l0.76,-2.4M289.63,105.18l0.71,-2.23M289.85,105.75l0.82,-2.59M290.38,105.36l0.04,-0.14M290.54,105.83l0.62,-1.98M290.69,106.3l0.29,-0.92M290.85,106.76l0.58,-1.84M291.01,105.98l0.49,-1.56M291.19,106.44l0.28,-0.9M291.37,106.91l0.87,-2.77M291.55,107.37l0,-0M291.6,106.79l0.67,-2.13M291.65,106.21l0.77,-2.43M291.91,106.64l0.46,-1.45M292.17,107.07l0.53,-1.69M292.43,107.5l0.9,-2.84M293.16,107.28l0.21,-0.67M293.82,107.32l0.57,-1.79M294.05,107.34l0.67,-2.12M293.8,107.66l0.34,-1.08M294.04,108.08l0.64,-2.03M294.28,108.5l0.35,-1.12M294.74,108.37l0.47,-1.5M295.2,108.24l0.55,-1.75M295.61,108.51l0.61,-1.93M296.02,108.78l0.29,-0.92M295.73,108.78l0.57,-1.79M295.99,109.15l0.49,-1.55M296.25,109.52l0.2,-0.64M296.51,109.89l0.55,-1.75M296.77,110.26l0.24,-0.76M296.73,109.69l0.82,-2.59M296.69,109.12l0.43,-1.35M297.22,109.44l0.65,-2.06M297.75,109.75l0.47,-1.49M298.08,110.11l0.43,-1.36M298.42,110.46l0.2,-0.63M298.56,110.5l0.13,-0.4M299.12,110.99l0.83,-2.64M299.1,111.49l0.48,-1.51M299.08,112l0.47,-1.49M299.28,112.02l0.47,-1.5M299.65,112.18l0.73,-2.32M300.01,112.51l0.21,-0.68M300.38,112.83l0.16,-0.49M300.35,112.85l0.74,-2.34M300.67,113.39l0.41,-1.31M300.99,113.92l0.58,-1.83M301.8,113.95l0.74,-2.36M301.41,113.85l0.8,-2.55M301.52,114.64l0.78,-2.47M301.56,114.78l0.04,-0.12M301.85,115.38l0.34,-1.09M302.13,115.98l0.75,-2.37M301.95,116.51l0.74,-2.33M301.76,117.04l0.11,-0.35M301.75,116.86l0.14,-0.44M301.75,117.36l0.23,-0.72M301.74,117.85l0.09,-0.29M302.47,117.42l0.32,-1.02M302.45,117.89l0.72,-2.29M302.42,118.36l0.47,-1.49M302.4,118.83l0.41,-1.29M302,118.56l0.08,-0.25M302.08,119.03l0.36,-1.13M302.16,119.5l0.9,-2.84M302.24,119.98l0.63,-1.98M301.95,120.18l0.4,-1.28M302.38,120.35l0.43,-1.36M302.38,120.97l0.72,-2.28M302.39,121.58l0.68,-2.16M302.05,122.12l0.13,-0.43M302.22,122.5l0.61,-1.94M302.72,122.22l0.33,-1.05M302.73,122.71l0.47,-1.48M302.74,123.2l0.21,-0.68M302.74,123.7l0.33,-1.06M302.75,124.19l0.31,-0.97" stroke="#8e8e8e" stroke-width="0.45" stroke-opacity="0.55" fill="none"/>
<polygon points="290.71,77.42 290.73,78.71 290.78,78.86 291.38,79.48 291.21,79.94 291.7,80.26 291.68,81.68 291.49,81.66 292.02,82.39 291.82,82.2 291.98,83.09 292.29,83.5 292.18,84.43 292.57,84.57 292.37,85.34 292.86,85.38 292.99,86.5 292.66,86.95 292.73,86.73 293.13,87.61 293.07,88.25 293.46,89.06 292.95,89.36 293.39,89.7 293.78,90.15 293.64,91.22 293.74,91.24 293.91,92.14 294.17,92.54 294.11,92.2 294.46,93.31 294.67,94.07 294.34,93.91 294.45,95.13 294.61,94.76 295.28,95.83 294.98,96.47 295.65,96.73 295.38,97.48 295.84,97.85 296.59,98.63 296.83,98.32 296.78,99.27 296.81,100.42 297.27,100.13 297.57,100.71 298.11,101.57 298.01,101.9 297.83,102.27 298.56,103.36 298.71,103.21 298.4,103.46 298.8,104.35 298.9,104.99 299.15,105.34 299.47,105.64 299.71,106.57 299.25,106.78 299.76,107.47 299.95,107.94 299.9,109.08 300.07,109.55 300.57,109.93 300.45,110.86 300.58,111.31 300.43,111.3 300.98,111.36 301.3,112.04 301.27,112.82 301.81,112.95 301.55,112.42 301.73,111.62 301.85,111.68 302.17,111.09 302.18,110.69 301.91,110.35 302.33,109.77 302.17,109.17 302.17,107.7 302.2,107.46 302.45,106.84 302.18,106.54 302.12,105.96 302.37,105.54 302.62,104.54 302.06,104.01 302.54,103.98 302.12,103.91 301.96,103.53 302.27,102.1 301.99,101.85 301.79,101.59 301.71,101.18 301.41,100.58 301.56,100.08 301.27,100.03 301.02,98.76 300.37,98.36 299.82,98.85 299.41,98.42 299,97.69 298.95,96.79 298.44,97.45 298.33,97.06 298.28,95.52 297.94,95.34 297.24,95.72 296.88,94.32 297.01,94.3 296.7,94.19 296.8,92.76 296.44,92.75 295.88,92.07 296.12,91.78 295.93,91.85 295.69,90.3 295.41,89.79 295.28,89.67 294.65,89.21 294.57,88.8 294.51,88.42 294.41,87.19 294.59,87.83 294.5,86.33 294.44,86.04 294.07,85.33 293.97,85.03 293.65,84.43 293.34,84.65 293.21,83.98 293.53,82.84 293.09,83.24 293.07,82.44 293.2,82.29 292.55,80.76 292.98,80.4 292.76,79.82 292.21,79.4 292.33,79.46 292.22,78.62 292.1,78.07" fill="#161616" stroke="none" stroke-width="1" stroke-linejoin="round"/>
<path d="M292.1,78.07l0.96,-1.28M292.22,78.62l0.09,-0.12M292.33,79.46l0.62,-0.83M292.21,79.4l0.25,-0.34M292.76,79.82l0.64,-0.86M292.98,80.4l0.85,-1.13M292.55,80.76l0.77,-1.02M292.77,81.27l0.07,-0.09M292.99,81.78l0.27,-0.35M293.2,82.29l0.65,-0.86M293.07,82.44l1.06,-1.42M293.09,83.24l0.04,-0.06M293.53,82.84l0.67,-0.89M293.37,83.41l0.75,-1M293.21,83.98l0.88,-1.17M293.34,84.65l0.37,-0.49M293.65,84.43l0.88,-1.17M293.97,85.03l0.5,-0.66M294.07,85.33l0.99,-1.33M294.44,86.04l0.01,-0.02M294.5,86.33l1.02,-1.35M294.53,86.83l0.44,-0.59M294.56,87.33l0.44,-0.59M294.59,87.83l0.1,-0.13M294.41,87.19l0.26,-0.35M294.46,87.8l0.79,-1.06M294.51,88.42l0.73,-0.98M294.57,88.8l0.16,-0.22M294.65,89.21l0.37,-0.5M295.28,89.67l0.15,-0.2M295.41,89.79l0.21,-0.29M295.69,90.3l0.24,-0.32M295.77,90.81l0.36,-0.48M295.85,91.33l1.05,-1.41M295.93,91.85l1.08,-1.44M296.12,91.78l0.85,-1.14M295.88,92.07l0.52,-0.69M296.44,92.75l0.54,-0.72M296.8,92.76l0.84,-1.12M296.76,93.24l0.98,-1.31M296.73,93.71l0.81,-1.08M296.7,94.19l0.69,-0.92M297.01,94.3l0.21,-0.29M296.88,94.32l0.68,-0.9M297,94.79l0.91,-1.22M297.12,95.25l0.85,-1.13M297.24,95.72l0.1,-0.13M297.94,95.34l0.77,-1.03M298.28,95.52l0.38,-0.5M298.3,96.04l0.18,-0.23M298.32,96.55l1.04,-1.39M298.33,97.06l0.73,-0.97M298.44,97.45l0.81,-1.07M298.95,96.79l0.15,-0.19M299,97.69l0.89,-1.19M299.41,98.42l1.01,-1.35M299.82,98.85l0.98,-1.3M300.37,98.36l0.8,-1.07M301.02,98.76l0.9,-1.2M301.14,99.4l0.87,-1.16M301.27,100.03l0.64,-0.85M301.56,100.08l0.47,-0.63M301.41,100.58l0.89,-1.19M301.71,101.18l0.85,-1.13M301.79,101.59l0.94,-1.25M301.99,101.85l0.32,-0.43M302.27,102.1l1.04,-1.38M302.17,102.57l0.57,-0.77M302.06,103.05l1.02,-1.36M301.96,103.53l0.13,-0.17M302.12,103.91l1.05,-1.39M302.54,103.98l0.85,-1.13M302.06,104.01l0.27,-0.36M302.62,104.54l0.91,-1.21M302.5,105.04l0.25,-0.33M302.37,105.54l0.21,-0.29M302.12,105.96l0.49,-0.66M302.18,106.54l0.26,-0.34M302.45,106.84l0.53,-0.71M302.2,107.46l0.98,-1.31M302.17,107.7l0.74,-0.99M302.17,108.19l0.77,-1.02M302.17,108.68l0.42,-0.56M302.17,109.17l0.85,-1.13M302.33,109.77l0.86,-1.14M301.91,110.35l0.74,-0.98M302.18,110.69l1.02,-1.36M302.17,111.09l0.89,-1.19M301.85,111.68l0.44,-0.58M301.73,111.62l0.09,-0.13M301.55,112.42l0.7,-0.94M301.81,112.95l0.9,-1.2" stroke="#161616" stroke-width="0.4" stroke-opacity="0.55" fill="none"/>
<polygon points="309.64,49.73 309.73,50.07 310.21,49.69 310.71,49.84 311.25,50.5 311.97,50.59 312.73,50.66 313.45,50.91 314.21,51.33 315.09,51.12 315.96,51.39 316.77,51.07 317.27,50.37 317.97,49.95 318.86,49.66 319.5,49.93 319.84,49.33 320.46,49.38 320.94,49.1 321.44,49.38 321.82,49.34 322.58,49.33 323.3,49.41 324.11,49.74 324.57,50.29 325.02,50.47 325.26,50.53 325.9,49.65 325.64,49.61 325.43,49.11 324.92,48.64 323.79,48.52 322.89,48.06 321.86,47.94 321.25,47.81 320.67,47.89 319.99,47.85 319.41,48.04 318.99,48.52 318.5,48.76 317.45,48.85 316.68,49.34 316.07,49.65 315.64,50.04 315.1,50.2 314.49,50.11 313.89,49.56 313.04,49.68 312.37,49.32 311.66,49.12 310.93,49.1 310.49,48.73 310.2,48.46 310,48.52" fill="#1a1a1a" stroke="none" stroke-width="1" stroke-linejoin="round"/>
<polyline points="325.5,50.2 325.53,50.3 325.6,50.51 325.71,50.83 325.84,51.25 326.02,51.77 326.22,52.4 326.46,53.13 326.74,53.97 327.01,54.87 327.29,55.82 327.56,56.84 327.84,57.91 328.11,59.05 328.39,60.24 328.66,61.49 328.94,62.81 329.2,64.09 329.46,65.34 329.72,66.57 329.96,67.76 330.2,68.92 330.42,70.06 330.64,71.16 330.86,72.24 331.06,73.26 331.26,74.22 331.45,75.12 331.63,75.97 331.8,76.77 331.97,77.51 332.12,78.19 332.28,78.81 332.41,79.36 332.52,79.83 332.61,80.22 332.69,80.53 332.74,80.77 332.78,80.92 332.8,81" fill="none" stroke="#1a1a1a" stroke-width="1.1" stroke-linejoin="round"/>
<polyline points="323.4,49.5 323.42,49.66 323.48,49.99 323.55,50.48 323.65,51.14 323.77,51.96 323.92,52.95 324.1,54.09 324.3,55.41 324.49,56.71 324.67,58.01 324.84,59.3 325.01,60.58 325.16,61.85 325.3,63.12 325.44,64.38 325.56,65.62 325.68,66.88 325.8,68.12 325.92,69.38 326.03,70.62 326.14,71.88 326.25,73.12 326.35,74.38 326.45,75.62 326.54,76.72 326.61,77.66 326.68,78.44 326.73,79.06 326.76,79.53 326.79,79.84 326.8,80" fill="none" stroke="#9a9a9a" stroke-width="0.8" stroke-linejoin="round"/>
<polygon points="326.75,78.02 326.34,79.19 326.89,79.27 326.16,79.7 326.56,80.73 326.54,80.76 326.85,80.8 326.8,81.78 327.22,82 326.76,83.26 326.52,83.54 327.17,83.59 327,84.4 327.48,84.87 327.4,84.26 327.04,84.92 327.7,86.63 326.98,86.64 327.45,86.27 327.34,87.9 327.65,87.65 327.84,88.17 327.7,88.87 328.19,89.74 328.09,90.28 327.75,91.24 328.14,91.31 327.8,90.96 328.15,92.52 328.43,92.26 327.89,93.03 328.69,92.96 328.65,93.47 328.33,93.79 328.41,94.81 329.14,96.24 328.48,95.7 329.3,96.02 328.79,96.9 328.67,97.12 329.06,97.85 329.71,98.19 329.09,99.75 329.44,100.16 329.73,100.6 329.53,100.13 330.06,101.17 329.98,102.02 330.29,101.89 330.04,103.42 330.32,102.91 330.54,103.37 330.79,103.52 330.97,104.86 330.63,105.95 330.7,105.34 330.65,106.33 331.46,107.03 331.27,107.74 331.13,107.44 331.79,109 331.96,109.06 332.27,109.08 332.61,110.14 332.22,110.08 332.84,110.51 332.49,111.84 333.06,111.78 333.43,112.89 333.16,112.49 333.33,113.11 334.05,114.31 334.51,114.37 334.56,114.87 334.73,115.8 335.53,116.29 335.25,116.52 336.15,116.75 336.62,117.89 336.8,118.26 337.04,118.86 336.85,118.99 337.7,119.26 337.58,118.81 338.2,120.44 338.18,119.87 338.43,120.1 339.24,121.88 339.73,121.28 340,121.19 340.51,121.97 340.08,122.83 340.58,122.64 340.94,123.25 341.86,124.16 341.81,124.52 342.32,123.89 343.26,124.41 343.41,125.11 343.76,125.74 344.2,126.08 345.23,125.86 344.94,126.51 345.39,126.34 346.23,125.9 346.89,127.16 347.31,126.84 347.71,127.34 347.9,127.99 349.11,128.09 349.54,127.53 350.03,127.31 350.01,127.61 350.46,128.69 351.46,128.25 350.61,127.41 350.85,126.72 350.76,126.18 350.87,126.33 350.54,126.21 350.71,125.61 350.84,125.06 350.76,123.25 350.83,124.04 350.55,123.47 350.12,123.22 349.54,122.28 349.29,121.58 349.11,121.36 348.17,120.13 348.4,119.6 347.81,120.8 347.52,119.12 346.71,119.01 346.73,118.33 346.18,119.17 345.38,117.6 345.56,117.97 344.61,116.91 344.4,116.71 343.8,116.22 343.73,116.96 343.23,115.35 342.48,114.96 342.21,115.06 341.36,114.32 341.44,115.16 340.95,114.51 340.59,114.48 339.65,114.17 340.1,113.92 338.98,113.29 338.67,112.44 338.32,112.49 338.71,111.92 338.14,110.53 337.19,109.98 337.62,109.87 337.32,109.97 336.33,109.53 336.04,109.44 335.53,107.53 336.14,108.23 334.94,106.6 335.22,107.14 335.07,106.77 334.24,105.58 333.95,106.03 334.05,104.11 333.36,105.03 333.63,103.89 332.95,103.74 333.12,103.4 332.67,102.47 332.67,101.47 332.14,101.06 332.16,101.61 331.81,100.94 331.32,99.85 331.13,100.01 331.73,99.2 330.88,98.51 330.98,98.67 330.94,98.59 330.24,97.22 330.91,97.05 330.4,95.77 330.64,96.46 330.09,94.71 329.83,95.14 329.64,93.72 330.18,94.55 329.99,93.31 330.12,92.9 329.75,93.21 329,92.65 329.09,91.1 329.34,91.01 328.84,89.87 329.08,90.52 329.41,89.97 328.9,89.78 328.51,88.94 328.37,87.37 328.96,87.43 328.44,87.64 328.07,85.98 328.91,85.69 328.04,85.71 328.06,84.77 328.43,84.71 327.68,84.58 327.66,83.03 328.22,83.35 328.37,83.17 328.32,82.4 327.85,81.82 327.43,80.62 327.36,80.83 327.6,79.9 327.22,79.88 327.35,78.65 327.22,78 327.5,77.93" fill="#8e8e8e" stroke="none" stroke-width="1" stroke-linejoin="round"/>
<path d="M327.5,77.93l0.84,-2.66M327.22,78l0.69,-2.17M327.35,78.65l0.75,-2.38M327.28,79.26l0.89,-2.83M327.22,79.88l0.68,-2.15M327.6,79.9l0.25,-0.78M327.48,80.36l0.22,-0.71M327.36,80.83l0.37,-1.18M327.43,80.62l0.02,-0.06M327.64,81.22l0.21,-0.66M327.85,81.82l0.8,-2.53M328.32,82.4l0.83,-2.62M328.37,83.17l0.3,-0.94M328.22,83.35l0.69,-2.2M327.66,83.03l0.7,-2.21M327.67,83.55l0.8,-2.54M327.67,84.06l0.72,-2.26M327.68,84.58l0.48,-1.52M328.43,84.71l0.09,-0.3M328.06,84.77l0.74,-2.35M328.05,85.24l0.28,-0.89M328.04,85.71l0.56,-1.79M328.91,85.69l0.33,-1.05M328.07,85.98l0.48,-1.53M328.19,86.53l0.87,-2.75M328.31,87.09l0.15,-0.46M328.44,87.64l0.48,-1.51M328.96,87.43l0.58,-1.85M328.37,87.37l0.48,-1.53M328.42,87.9l0.84,-2.67M328.46,88.42l0.37,-1.16M328.51,88.94l0.82,-2.6M328.71,89.36l0.62,-1.97M328.9,89.78l0.87,-2.76M329.41,89.97l0.08,-0.26M329.08,90.52l0.19,-0.61M328.84,89.87l0.26,-0.82M329.09,90.44l0.82,-2.58M329.34,91.01l0.01,-0.04M329.09,91.1l0.23,-0.74M329.06,91.62l0.64,-2.04M329.03,92.14l0.89,-2.82M329,92.65l0.16,-0.5M329.38,92.93l0.39,-1.25M329.75,93.21l0.62,-1.96M330.12,92.9l0.62,-1.97M329.99,93.31l0.67,-2.13M330.09,93.93l0.68,-2.15M330.18,94.55l0.22,-0.71M329.91,94.13l0.23,-0.73M329.64,93.72l0.02,-0.08M329.7,94.19l0.62,-1.97M329.76,94.66l0.19,-0.6M329.83,95.14l0.23,-0.74M330.09,94.71l0.87,-2.75M330.23,95.15l0.58,-1.83M330.37,95.59l0.53,-1.68M330.5,96.02l0.59,-1.87M330.64,96.46l0.54,-1.7M330.4,95.77l0.63,-1.98M330.57,96.2l0.27,-0.87M330.74,96.63l0.06,-0.18M330.91,97.05l0.06,-0.19M330.24,97.22l0.01,-0.04M330.47,97.67l0.33,-1.03M330.71,98.13l0.13,-0.41M330.94,98.59l0.1,-0.32M330.98,98.67l0.44,-1.41M330.88,98.51l0.87,-2.76M331.31,98.85l0.62,-1.96M331.73,99.2l0.25,-0.78M331.43,99.6l0.69,-2.19M331.13,100.01l0.16,-0.51M331.32,99.85l0.09,-0.29M331.57,100.4l0.27,-0.86M331.81,100.94l0.37,-1.17M332.16,101.61l0.62,-1.97M332.14,101.06l0.4,-1.27M332.67,101.47l0.66,-2.08M332.67,101.97l0.09,-0.27M332.67,102.47l0.84,-2.66M332.89,102.93l0.31,-0.98M333.12,103.4l0.75,-2.37M332.95,103.74l0.03,-0.09M333.63,103.89l0.75,-2.36M333.5,104.46l0.2,-0.64M333.36,105.03l0.77,-2.44M333.7,104.57l0.72,-2.29M334.05,104.11l0.6,-1.91M334.02,104.59l0.25,-0.79M334,105.07l0.01,-0.03M333.97,105.55l0.17,-0.54M333.95,106.03l0.81,-2.58M334.24,105.58l0.14,-0.45M334.51,105.97l0.59,-1.88M334.79,106.37l0.53,-1.67M335.07,106.77l0.6,-1.88M335.22,107.14l0.16,-0.51M334.94,106.6l0.13,-0.41M335.24,107.01l0.09,-0.28M335.54,107.42l0.88,-2.8M335.84,107.83l0.34,-1.09M336.14,108.23l0.59,-1.86M335.83,107.88l0.51,-1.62M335.53,107.53l0.2,-0.64M335.66,108.01l0.06,-0.18M335.78,108.48l0.01,-0.04M335.91,108.96l0.77,-2.43M336.04,109.44l0.12,-0.37M336.33,109.53l0.87,-2.74M336.82,109.75l0.33,-1.04M337.32,109.97l0.65,-2.06M337.62,109.87l0.12,-0.39M337.19,109.98l0.71,-2.25M337.67,110.26l0.23,-0.72M338.14,110.53l0.33,-1.04M338.33,110.99l0.47,-1.49M338.52,111.46l0.1,-0.32M338.71,111.92l0.22,-0.71M338.32,112.49l0.72,-2.27M338.67,112.44l0.26,-0.81M338.82,112.86l0.34,-1.09M338.98,113.29l0.69,-2.18M339.54,113.6l0.2,-0.64M340.1,113.92l0.17,-0.55M339.65,114.17l0.2,-0.62M340.12,114.32l0.35,-1.09M340.59,114.48l0.33,-1.04M340.95,114.51l0.58,-1.83M341.44,115.16l0.42,-1.34M341.36,114.32l0.78,-2.48M341.78,114.69l0.05,-0.14M342.21,115.06l0.6,-1.89M342.48,114.96l0.75,-2.38M343.23,115.35l0.21,-0.67M343.4,115.88l0.03,-0.08M343.57,116.42l0.39,-1.25M343.73,116.96l0.1,-0.33M343.8,116.22l0.41,-1.31M344.4,116.71l0.64,-2.03M344.61,116.91l0.08,-0.27M344.93,117.26l0.11,-0.34M345.25,117.62l0.43,-1.37M345.56,117.97l0.16,-0.5M345.38,117.6l0.21,-0.66M345.65,118.12l0.4,-1.25M345.92,118.64l0.11,-0.34M346.18,119.17l0.06,-0.19M346.46,118.75l0.33,-1.03M346.73,118.33l0.42,-1.34M346.71,119.01l0.84,-2.67M347.52,119.12l0.5,-1.58M347.62,119.68l0.06,-0.2M347.71,120.24l0.2,-0.63M347.81,120.8l0.67,-2.12M348.1,120.2l0.51,-1.6M348.4,119.6l0.78,-2.48M348.17,120.13l0.87,-2.74M348.48,120.54l0.77,-2.45M348.8,120.95l0.1,-0.31M349.11,121.36l0.85,-2.69M349.29,121.58l0.47,-1.5M349.54,122.28l0.22,-0.68M349.83,122.75l0.15,-0.49M350.12,123.22l0.78,-2.46M350.55,123.47l0.19,-0.61M350.83,124.04l0.07,-0.24M350.76,123.25l0.24,-0.76M350.78,123.7l0.83,-2.63M350.8,124.15l0.41,-1.31M350.82,124.61l0.66,-2.08M350.84,125.06l0.07,-0.21M350.71,125.61l0.41,-1.29M350.54,126.21l0.29,-0.91M350.87,126.33l0.18,-0.59M350.76,126.18l0.6,-1.89M350.85,126.72l0.33,-1.03M350.61,127.41l0.11,-0.34M351.04,127.83l0.89,-2.8M351.46,128.25l0.43,-1.37" stroke="#8e8e8e" stroke-width="0.45" stroke-opacity="0.55" fill="none"/>
<polygon points="332.03,77.32 332.51,78.52 332.07,78.96 332.75,79.55 332.41,80 332.8,80.71 332.5,81.43 333.26,81.84 333.27,81.81 333.39,82.05 332.9,83.14 333.55,82.91 333.06,83.35 333.33,84 333.21,85.35 333.62,86.12 333.55,86.25 333.31,87.13 333.58,86.97 333.9,88.16 333.97,88.75 334.17,88.2 334.44,88.71 334.67,89.6 334.11,90.83 334.28,90.59 334.39,91.49 334.21,91.57 334.42,92.71 334.38,92.9 334.68,93.19 335.03,94.05 334.81,93.89 334.93,95.39 335.09,94.74 335.53,95.86 335.97,95.63 335.61,96.28 336.08,97.18 336.11,98.29 336.51,98.75 336.93,98.43 337.14,99.12 336.61,100.33 336.88,99.57 337.25,100.45 338.04,101.77 337.84,101.79 338.46,102.68 338.56,102.77 338.37,102.89 339.08,103.87 339.49,104.72 339.92,104.15 339.47,105.56 340.18,104.97 340.57,105.49 340.48,106.06 341.09,106.92 341.08,107.42 341.9,107.46 342.31,108.34 342.12,108.3 343.05,109.04 343.4,108.67 344.03,109.88 343.79,109.75 344.77,109.8 344.68,111.22 345.46,110.56 345.7,111.1 346.07,112.05 346.04,111.65 346.55,112.09 346.82,112.28 347.56,113.05 347.72,113.64 348.87,114.01 348.88,114.62 349.45,114.31 349.98,114.52 350.64,114.35 351.1,113.22 350.69,112.95 351.4,113.07 350.81,111.35 350.96,111.69 351.1,110.45 351.17,111.04 350.5,109.8 350.6,109.69 350.07,108.72 350.06,107.86 349.59,107.4 348.93,107.09 349.22,106.2 348.86,106.29 348.36,105.64 347.7,105.43 347.66,104.58 347.72,105.11 347.04,103.68 346.35,103.12 345.93,103.49 345.74,103.23 345.75,102.23 345.28,102.73 344.93,102.12 344.01,100.87 344.09,100.5 343.36,100.15 343.36,100.56 343.03,99.85 342.34,98.87 341.83,99.06 341.96,98.65 341.44,97.81 341.46,97.14 341.13,96.53 340.46,96.24 340.61,96.34 339.96,95.18 340.16,95.66 339.36,95.04 338.99,94.37 339.3,94.17 339.01,92.87 338.77,92.59 338.01,91.77 338.53,91.83 337.94,90.81 337.98,90.56 337.42,90.71 337.55,90.11 337,88.79 336.74,88.31 336.93,88.08 336.63,87.83 336.48,87.5 336.84,86.51 335.97,87.11 336.54,85.33 335.78,85.8 335.4,84.62 335.38,84.77 335.14,83.31 335.53,83.18 334.78,83.05 335.1,82.08 335.16,82.53 334.98,81.64 334.38,80.66 334.14,80.87 334.41,80.65 334.19,79.69 334.14,79.47 333.65,79.15 333.75,77.53" fill="#161616" stroke="none" stroke-width="1" stroke-linejoin="round"/>
<path d="M333.75,77.53l0.85,-1.44M333.71,78.07l0.48,-0.82M333.68,78.61l0.09,-0.16M333.65,79.15l0.43,-0.74M334.14,79.47l0.1,-0.18M334.19,79.69l1.06,-1.8M334.3,80.17l0.06,-0.1M334.41,80.65l0.32,-0.54M334.14,80.87l0.84,-1.44M334.38,80.66l0.15,-0.25M334.68,81.15l0.12,-0.2M334.98,81.64l0.08,-0.13M335.07,82.08l0.18,-0.31M335.16,82.53l0.59,-0.99M335.1,82.08l0.92,-1.56M334.94,82.56l0.19,-0.32M334.78,83.05l0.19,-0.32M335.53,83.18l0.84,-1.43M335.14,83.31l0.47,-0.8M335.22,83.8l0.37,-0.63M335.3,84.29l0.14,-0.23M335.38,84.77l0.27,-0.45M335.4,84.62l1.07,-1.82M335.59,85.21l0.13,-0.22M335.78,85.8l0.29,-0.49M336.54,85.33l0.81,-1.39M336.4,85.77l0.98,-1.67M336.26,86.22l0.99,-1.69M336.11,86.66l0.52,-0.88M335.97,87.11l1.05,-1.79M336.41,86.81l0.66,-1.13M336.84,86.51l0.32,-0.54M336.66,87.01l0.51,-0.87M336.48,87.5l0.79,-1.34M336.63,87.83l0.81,-1.37M336.93,88.08l0.14,-0.24M336.74,88.31l0.21,-0.36M337,88.79l1.05,-1.79M337.18,89.23l0.12,-0.2M337.37,89.67l0.89,-1.52M337.55,90.11l0.37,-0.63M337.42,90.71l0.27,-0.46M337.98,90.56l0.28,-0.48M337.94,90.81l0.52,-0.88M338.24,91.32l1.09,-1.85M338.53,91.83l0.16,-0.28M338.01,91.77l0.94,-1.6M338.39,92.18l0.35,-0.6M338.77,92.59l0.19,-0.32M339.01,92.87l0.82,-1.39M339.16,93.52l0.38,-0.64M339.3,94.17l0.21,-0.35M338.99,94.37l0.46,-0.78M339.36,95.04l0.9,-1.54M339.76,95.35l0.95,-1.61M340.16,95.66l0.63,-1.08M339.96,95.18l0.01,-0.02M340.29,95.76l0.84,-1.43M340.61,96.34l0.67,-1.13M340.46,96.24l0.99,-1.68M341.13,96.53l1.05,-1.78M341.46,97.14l0.36,-0.61M341.44,97.81l0.93,-1.59M341.7,98.23l0.9,-1.53M341.96,98.65l0.29,-0.5M341.83,99.06l0.4,-0.68M342.34,98.87l0.41,-0.7M342.69,99.36l0.39,-0.66M343.03,99.85l0.42,-0.71M343.36,100.56l0.12,-0.21M343.36,100.15l0.25,-0.42M344.09,100.5l1,-1.7M344.01,100.87l0.45,-0.77M344.32,101.29l0.7,-1.19M344.62,101.71l0.98,-1.66M344.93,102.12l0.83,-1.41M345.28,102.73l0.27,-0.46M345.75,102.23l1.01,-1.72M345.75,102.73l0.88,-1.5M345.74,103.23l1.09,-1.85M345.93,103.49l0.8,-1.36M346.35,103.12l0.83,-1.41M347.04,103.68l0.89,-1.52M347.27,104.16l0.28,-0.47M347.49,104.63l0.72,-1.23M347.72,105.11l0.42,-0.71M347.66,104.58l0.92,-1.57M347.7,105.43l0.15,-0.25M348.36,105.64l0.59,-1.01M348.86,106.29l0.37,-0.63M349.22,106.2l0.9,-1.53M349.08,106.65l0.38,-0.65M348.93,107.09l0.93,-1.58M349.59,107.4l0.93,-1.59M350.06,107.86l0.97,-1.64M350.07,108.72l0.15,-0.26M350.33,109.2l1.03,-1.75M350.6,109.69l0.82,-1.39M350.5,109.8l0.74,-1.27M350.72,110.22l0.72,-1.22M350.95,110.63l0.05,-0.09M351.17,111.04l0.96,-1.63M351.1,110.45l0.6,-1.02M351.03,111.07l0.5,-0.85M350.96,111.69l0.37,-0.63M350.81,111.35l0.86,-1.46M350.96,111.78l0.86,-1.46M351.11,112.21l0.96,-1.63M351.26,112.64l0.24,-0.4M351.4,113.07l0.37,-0.64M350.69,112.95l0.27,-0.47M351.1,113.22l0.11,-0.19M350.87,113.79l0.36,-0.61M350.64,114.35l0.03,-0.05" stroke="#161616" stroke-width="0.4" stroke-opacity="0.55" fill="none"/>
<polygon points="395.21,59.47 395.2,59.33 396.2,59.53 396.51,59.82 397.26,60.53 397.42,60.19 398.35,60.05 398.87,60.41 398.96,60.63 399.66,59.75 400.18,60.67 400.64,60.3 401.08,60.82 401.77,60.06 402.07,60.29 403.01,60.74 402.92,61.05 403.37,60.71 403.89,64.04 403.48,63.64 402.89,63.17 402.52,63.6 401.4,64.05 401.14,63.68 400.4,63.52 399.99,63.71 399.39,63.17 399.25,63.9 398.53,63.22 398.35,63.93 397.78,62.98 396.85,63.59 396.74,63.1 396.04,63.63 395.46,62.73 394.95,63.46" fill="#1a1a1a" stroke="none" stroke-width="1" stroke-linejoin="round"/>
<polyline points="403.5,61.6 403.52,61.54 403.57,61.43 403.64,61.26 403.73,61.04 403.85,60.76 403.99,60.42 404.16,60.03 404.34,59.57 404.53,59.1 404.71,58.6 404.9,58.07 405.08,57.51 405.26,56.93 405.44,56.32 405.61,55.68 405.79,55.02 405.97,54.38 406.17,53.75 406.37,53.15 406.58,52.57 406.8,52.01 407.03,51.47 407.27,50.95 407.52,50.45 407.76,50.03 407.99,49.69 408.21,49.43 408.42,49.25 408.61,49.15 408.8,49.12 408.97,49.18 409.13,49.32 409.27,49.44 409.4,49.54 409.5,49.63 409.58,49.7 409.64,49.75 409.68,49.78 409.7,49.8" fill="none" stroke="#8a8a8a" stroke-width="1" stroke-linejoin="round"/>
<polyline points="408.4,48.7 408.42,48.72 408.46,48.77 408.52,48.84 408.6,48.93 408.7,49.05 408.83,49.19 408.97,49.36 409.13,49.54 409.29,49.77 409.45,50.03 409.6,50.32 409.75,50.65 409.9,51.02 410.04,51.42 410.18,51.86 410.32,52.34 410.45,52.85 410.58,53.39 410.7,53.97 410.82,54.58 410.94,55.23 411.05,55.91 411.15,56.62 411.25,57.38 411.35,58.16 411.46,58.97 411.57,59.81 411.68,60.69 411.8,61.59 411.92,62.53 412.04,63.5 412.16,64.5 412.29,65.5 412.41,66.5 412.54,67.5 412.66,68.5 412.79,69.5 412.91,70.5 413.04,71.5 413.16,72.5 413.27,73.38 413.37,74.12 413.44,74.75 413.51,75.25 413.55,75.62 413.58,75.88 413.6,76" fill="none" stroke="#9a9a9a" stroke-width="0.8" stroke-linejoin="round"/>
<polyline points="408.6,48.9 408.63,48.93 408.69,49 408.79,49.1 408.91,49.23 409.07,49.39 409.26,49.59 409.48,49.82 409.73,50.08 409.97,50.38 410.21,50.72 410.44,51.09 410.66,51.51 410.88,51.96 411.09,52.44 411.3,52.97 411.5,53.53 411.7,54.09 411.9,54.66 412.09,55.22 412.28,55.78 412.48,56.34 412.67,56.91 412.86,57.47 413.04,58.03 413.23,58.6 413.41,59.18 413.59,59.77 413.76,60.36 413.93,60.96 414.1,61.57 414.27,62.19 414.43,62.81 414.59,63.42 414.74,64.02 414.89,64.59 415.03,65.16 415.17,65.7 415.31,66.23 415.44,66.75 415.56,67.25 415.67,67.69 415.77,68.06 415.84,68.38 415.91,68.62 415.95,68.81 415.98,68.94 416,69" fill="none" stroke="#2a2a2a" stroke-width="0.9" stroke-linejoin="round"/>
<polygon points="412,60.51 411.95,59.93 412.23,61.48 412.58,62.05 412.37,62.52 412.47,62.07 412.58,63.36 412.5,63.62 412.45,63.73 412.63,64.52 412.73,64.51 412.46,65.31 413.04,66.3 412.76,66.21 413.02,66.61 413.15,67.98 412.93,68.1 413.36,68.8 413.42,69.25 413.17,69.91 413.71,69.46 413.78,70.43 413.23,70.48 413.81,71.71 413.4,71.95 413.82,73.1 413.67,73.32 413.67,73.14 413.68,73.89 414.07,74.26 413.81,74.66 413.82,75.13 414.05,76.01 414.02,76.48 414.27,77.57 414.37,78.03 414.42,77.64 414.58,78.07 414.35,78.49 414.8,80.06 414.66,79.82 414.74,80.32 415,80.87 414.68,81.94 415.06,81.41 415.33,82.77 415.05,83.16 415.53,83.38 415.25,83.76 415.41,84.7 415.62,85.54 415.27,85.34 415.85,86.35 415.74,86.71 415.63,87.53 415.86,87.38 415.69,87.54 416.29,88.86 415.75,88.79 416.17,89.49 416.18,90.47 416.26,90.54 416.76,91.17 416.53,91.3 416.55,92.13 416.93,92.21 416.74,92.87 416.84,94 417.07,93.73 417.02,94.89 417.01,95.23 417.01,95.13 417.14,96.37 417.31,96.17 417.35,96.72 417.94,97.76 418.2,98.54 418.07,99.01 417.86,99.51 418.24,99.13 418.59,100.43 418.46,100.01 418.94,101.3 418.87,102.07 418.63,101.47 418.86,101.93 419.45,103.16 419.19,103.09 419.4,104.13 419.92,105.06 419.95,105.57 420.26,105.37 420.38,105.68 421.16,107.09 421.22,106.61 421.09,107.08 421.51,108.21 421.59,108.39 422.33,108.23 422.45,109.56 422.84,109.58 423.36,110.19 423.26,110.38 423.99,111.33 424.27,111.37 424.02,111.31 424.49,112.33 424.52,112.86 425.38,112.92 425.21,113.71 425.89,114 426.39,114.52 426.66,115.25 427.44,115.66 427.58,115.38 427.76,115.2 428.06,114.76 427.75,113.45 427.82,112.9 427.9,113.28 428.09,112.29 427.97,111.24 428.15,111.22 428.05,111.09 427.54,110.19 427.38,109.08 427.17,109.3 427.6,109.08 427.41,107.48 427.51,107.39 426.97,106.79 426.58,106.96 426.25,106.52 426.09,105.9 425.76,104.64 425.96,104.89 425.55,104.55 425.38,103.05 425.38,102.99 424.43,102.7 424.62,101.76 424.54,102.14 424.03,102.01 423.89,101.2 423.4,100.04 423.18,99.65 422.57,98.91 422.45,99.57 422.24,99.06 422.03,98.13 422.14,97.7 421.77,97.05 421.37,97.04 421.58,96.22 421.15,95.58 420.58,94.74 420.31,94.15 420.47,93.78 420.57,93.36 419.77,93.1 420.16,93.08 419.94,91.84 419.55,91.09 419.36,91.31 418.99,90.34 418.97,89.99 418.58,89.06 418.69,88.89 418.24,88.72 418.65,88.51 418.12,87.89 418.2,86.68 418.11,86.72 417.47,86.5 417.89,85.43 417.59,85.04 417.71,84.83 417.53,84.14 417.41,83.17 417.19,82.7 417.16,82.47 416.63,81.6 416.41,81.5 416.76,80.54 416.2,80.06 416.21,80.52 416.38,79.77 416.09,78.96 416.29,77.94 415.61,78.42 415.46,77.47 415.54,77.38 415.74,76.35 415.73,75.56 415.83,75.55 415.53,74.46 415.5,74.07 415.22,73.54 415.09,74.04 415.05,73.44 415.22,72.81 414.87,72.09 415.16,72.1 414.67,71.5 414.79,70.23 414.76,69.66 414.23,69.49 414.61,69.18 414.52,68.21 414.55,67.93 414.04,67.04 414.32,66.52 414.35,66 414.02,65.91 413.93,65.99 413.55,65.31 414.03,64.81 413.94,63.5 413.55,63.23 413.23,63.43 413.23,62.63 413.19,62.31 413.59,61.73 413.37,61.39 413.37,60.85 412.91,59.72" fill="#8e8e8e" stroke="none" stroke-width="1" stroke-linejoin="round"/>
<path d="M412.91,59.72l0.57,-0.98M413.14,60.29l0.56,-0.95M413.37,60.85l0.41,-0.7M413.37,61.39l0.54,-0.92M413.59,61.73l0.02,-0.03M413.19,62.31l0.06,-0.1M413.23,62.63l0.42,-0.72M413.23,63.43l0.24,-0.4M413.55,63.23l0.76,-1.29M413.94,63.5l0.24,-0.41M413.99,64.15l0.82,-1.4M414.03,64.81l0.24,-0.41M413.55,65.31l0.09,-0.16M413.93,65.99l0.48,-0.81M414.02,65.91l0.39,-0.66M414.35,66l0.34,-0.57M414.32,66.52l0.77,-1.3M414.04,67.04l0.22,-0.38M414.29,67.48l0.67,-1.14M414.55,67.93l0.83,-1.42M414.52,68.21l0.45,-0.77M414.56,68.69l0.5,-0.86M414.61,69.18l0.92,-1.57M414.23,69.49l0.6,-1.03M414.76,69.66l0.18,-0.31M414.79,70.23l0.07,-0.12M414.73,70.87l0.08,-0.14M414.67,71.5l0.33,-0.56M415.16,72.1l0.09,-0.15M414.87,72.09l0.65,-1.1M415.22,72.81l0.42,-0.72M415.05,73.44l0.31,-0.52M415.09,74.04l0.51,-0.87M415.22,73.54l0.94,-1.59M415.5,74.07l0.24,-0.42M415.53,74.46l0.15,-0.26M415.68,75.01l0.31,-0.52M415.83,75.55l0.32,-0.55M415.73,75.56l0.91,-1.55M415.74,76.35l0.71,-1.2M415.64,76.86l0.43,-0.73M415.54,77.38l0.17,-0.28M415.46,77.47l0.05,-0.08M415.54,77.95l0.12,-0.21M415.61,78.42l0.85,-1.44M416.29,77.94l0.65,-1.1M416.19,78.45l0.16,-0.27M416.09,78.96l0.63,-1.06M416.38,79.77l0.06,-0.1M416.21,80.52l0.51,-0.86M416.2,80.06l0.34,-0.57M416.76,80.54l0.1,-0.17M416.59,81.02l0.74,-1.26M416.41,81.5l0.72,-1.22M416.63,81.6l0.51,-0.87M416.89,82.03l0.17,-0.29M417.16,82.47l0.67,-1.14M417.19,82.7l0.43,-0.74M417.41,83.17l0.66,-1.12M417.47,83.65l0.09,-0.16M417.53,84.14l0.9,-1.53M417.71,84.83l0,-0.01M417.59,85.04l0.22,-0.38M417.89,85.43l0.4,-0.68M417.68,85.96l0.2,-0.34M417.47,86.5l0.09,-0.15M418.11,86.72l0.69,-1.17M418.2,86.68l0.99,-1.69M418.16,87.28l0.33,-0.57M418.12,87.89l0.27,-0.45M418.65,88.51l0.67,-1.14M418.24,88.72l0.22,-0.38M418.69,88.89l0.4,-0.68M418.58,89.06l0.69,-1.17M418.77,89.53l0.43,-0.73M418.97,89.99l0.16,-0.26M418.99,90.34l0.07,-0.12M419.17,90.83l0.54,-0.92M419.36,91.31l0.99,-1.68M419.55,91.09l0.92,-1.56M419.94,91.84l0.1,-0.17M420.05,92.46l0.5,-0.85M420.16,93.08l0.49,-0.83M419.77,93.1l0.19,-0.33M420.57,93.36l0.67,-1.14M420.47,93.78l0.5,-0.84M420.31,94.15l0.81,-1.37M420.58,94.74l0.29,-0.5M420.86,95.16l0.93,-1.59M421.15,95.58l0.81,-1.38M421.58,96.22l0.47,-0.8M421.37,97.04l0.14,-0.24M421.77,97.05l0.48,-0.82M422.14,97.7l0.13,-0.22M422.03,98.13l0.69,-1.17M422.13,98.59l0.7,-1.19M422.24,99.06l0.58,-0.98M422.45,99.57l0.98,-1.66M422.57,98.91l0.05,-0.08M422.88,99.28l0.72,-1.22M423.18,99.65l0.8,-1.36M423.4,100.04l0.11,-0.19M423.64,100.62l0.32,-0.55M423.89,101.2l0.05,-0.09M424.03,102.01l0.58,-0.99M424.54,102.14l0.72,-1.23M424.62,101.76l0.35,-0.59M424.53,102.23l0.7,-1.18M424.43,102.7l0.37,-0.62M424.91,102.84l0.71,-1.21M425.38,102.99l0.28,-0.47M425.38,103.05l0.98,-1.66M425.44,103.55l0.44,-0.74M425.5,104.05l0,-0.01M425.55,104.55l0.09,-0.16M425.96,104.89l0.73,-1.23M425.76,104.64l0.86,-1.47M425.93,105.27l0.64,-1.08M426.09,105.9l0.16,-0.26M426.25,106.52l0.87,-1.48M426.58,106.96l0.72,-1.22M426.97,106.79l0.12,-0.2M427.51,107.39l0.38,-0.65M427.41,107.48l0.67,-1.14M427.47,108.01l0,-0.01M427.53,108.55l0.04,-0.07M427.6,109.08l0.35,-0.6M427.17,109.3l0.87,-1.49M427.38,109.08l1,-1.69M427.46,109.64l0.32,-0.54M427.54,110.19l0.91,-1.55M427.79,110.64l0.79,-1.34M428.05,111.09l0.87,-1.47M428.15,111.22l0.59,-1M427.97,111.24l0.97,-1.65M428.03,111.76l0.64,-1.09M428.09,112.29l0.95,-1.61M428,112.78l0.57,-0.96M427.9,113.28l0.2,-0.33M427.82,112.9l0.52,-0.88M427.75,113.45l0.48,-0.82M427.86,113.88l0.34,-0.57M427.96,114.32l0.37,-0.64M428.06,114.76l0.51,-0.87M427.76,115.2l0.59,-1" stroke="#8e8e8e" stroke-width="0.45" stroke-opacity="0.55" fill="none"/>
<polygon points="415.5,67.73 415.83,68.5 415.89,69.2 415.85,69.54 416.04,70.32 416.47,70.84 416.46,70.7 416.89,71.51 416.62,71.75 416.77,72.75 417.2,72.98 417.28,73.16 417.22,73.83 417.25,74.33 417.71,75.28 417.48,75.18 418.05,76.19 418.14,76.66 418.31,76.73 418.05,77.33 418.21,78.55 418.76,78.7 419.26,79.37 418.92,79.3 419.02,80.35 419.66,80.49 419.58,80.72 419.85,81.75 420.33,82.42 420.5,82.43 420.37,82.78 421.02,83.12 420.69,83.74 421.5,84.92 421.33,85.42 422.06,85.41 421.88,86.33 422.33,86.04 423.04,86.93 423.11,87.58 423.44,87.36 423.97,88.26 424.13,88.51 425.1,88.73 425.48,89.35 425.83,88.72 426.88,89.53 427.1,88.91 428.01,89.62 428.06,89.1 429.05,88.59 429.67,87.93 429.84,87.72 429.91,87.2 429.73,86.3 429.92,85.98 429.56,85.65 429.7,84.76 429.69,84.86 429.95,83.56 429.53,82.98 429.71,82.66 429.13,81.62 428.55,82.09 428.52,80.74 427.84,80.89 427.72,80.33 427.2,79.9 426.42,79.85 425.67,79.67 425.41,79.89 424.74,79.21 424.33,78.63 423.67,78.12 423.2,77.44 423.12,77.23 423.09,76.73 422.51,76.8 421.63,76.12 421.42,76.3 421.33,75.53 420.76,75.33 420.28,74.17 420.4,73.47 419.94,73.47 419.65,72.72 418.79,72.86 418.89,71.85 418.78,71.19 418.58,70.69 418.23,70.04 417.59,69.84 417.16,69.27 417.08,68.55 416.89,68.62 416.17,67.79" fill="#161616" stroke="none" stroke-width="1" stroke-linejoin="round"/>
<path d="M416.17,67.79l0.15,-0.46M416.53,68.21l0.63,-2.01M416.89,68.62l0.45,-1.43M417.08,68.55l0.45,-1.41M417.16,69.27l0.33,-1.04M417.59,69.84l0.31,-0.99M418.23,70.04l0.13,-0.41M418.58,70.69l0.11,-0.36M418.78,71.19l0.43,-1.35M418.89,71.85l0.46,-1.45M418.84,72.35l0.17,-0.54M418.79,72.86l0.43,-1.35M419.65,72.72l0.09,-0.28M419.94,73.47l0.4,-1.28M420.4,73.47l0.11,-0.36M420.28,74.17l0.34,-1.06M420.52,74.75l0.21,-0.66M420.76,75.33l0.36,-1.15M421.33,75.53l0.09,-0.28M421.42,76.3l0.32,-1.01M421.63,76.12l0.41,-1.29M422.07,76.46l0.09,-0.28M422.51,76.8l0.2,-0.65M423.09,76.73l0.45,-1.42M423.12,77.23l0.36,-1.14M423.2,77.44l0.41,-1.29M423.67,78.12l0.51,-1.63M424.33,78.63l0.38,-1.19M424.74,79.21l0.15,-0.46M425.07,79.55l0.29,-0.92M425.41,79.89l0.55,-1.74M425.67,79.67l0.37,-1.18M426.42,79.85l0.5,-1.57M427.2,79.9l0.24,-0.76M427.72,80.33l0.3,-0.94M427.84,80.89l0.64,-2.03M428.52,80.74l0.54,-1.72M428.54,81.41l0.43,-1.36M428.55,82.09l0.07,-0.22M429.13,81.62l0.4,-1.28M429.42,82.14l0.02,-0.07M429.71,82.66l0.62,-1.95M429.53,82.98l0.64,-2.03M429.95,83.56l0.48,-1.52M429.82,84.21l0.18,-0.56M429.69,84.86l0.56,-1.77M429.7,84.76l0.12,-0.37M429.63,85.21l0.55,-1.73M429.56,85.65l0.34,-1.09M429.92,85.98l0.01,-0.03M429.73,86.3l0.59,-1.86M429.82,86.75l0.29,-0.92M429.91,87.2l0.55,-1.74M429.84,87.72l0.45,-1.44M429.67,87.93l0.35,-1.11" stroke="#161616" stroke-width="0.4" stroke-opacity="0.55" fill="none"/>
<polygon points="445.52,59.9 446.05,60.06 446.04,60.08 446.58,59.84 447.43,59.91 447.67,60.1 448.25,60.75 449.14,60.72 449.71,60.31 450.11,60.17 450.7,60.72 451.1,60.16 451.23,60.88 452.02,60.59 452.72,60.14 452.51,62.45 452.08,62.69 451.38,63 450.87,62.47 450.59,63.12 449.64,62.98 449.42,62.72 449.17,62.57 448.22,62.4 447.99,62.57 447.56,62.4 446.71,62.89 446.15,63.08 445.99,62.57 445.42,62.56" fill="#1a1a1a" stroke="none" stroke-width="1" stroke-linejoin="round"/>
<polyline points="452.5,61.6 452.52,61.62 452.55,61.65 452.6,61.69 452.67,61.76 452.76,61.83 452.86,61.93 452.98,62.04 453.12,62.16 453.26,62.21 453.41,62.18 453.57,62.07 453.73,61.88 453.9,61.62 454.08,61.27 454.26,60.85 454.44,60.35 454.63,59.84 454.8,59.33 454.98,58.8 455.15,58.27 455.31,57.73 455.47,57.19 455.62,56.63 455.78,56.07 455.93,55.5 456.08,54.93 456.24,54.35 456.41,53.77 456.57,53.19 456.74,52.6 456.91,52 457.09,51.4 457.26,50.94 457.43,50.62 457.6,50.44 457.77,50.41 457.94,50.51 458.1,50.75 458.27,51.14 458.43,51.66 458.59,52.2 458.74,52.75 458.89,53.31 459.03,53.89 459.17,54.47 459.31,55.08 459.44,55.69 459.56,56.31 459.68,56.91 459.79,57.49 459.9,58.05 460,58.58 460.09,59.09 460.18,59.57 460.26,60.03 460.34,60.47 460.4,60.85 460.46,61.18 460.51,61.45 460.54,61.67 460.57,61.84 460.59,61.95 460.6,62" fill="none" stroke="#4a4a4a" stroke-width="1" stroke-linejoin="round"/>
<polygon points="461.95,73.96 461.68,74.9 461.5,75.31 461.7,75.94 461.56,75.69 462.09,76.48 461.95,77.11 461.89,77.41 461.78,78.42 462.07,78.96 462.39,79.14 462.53,78.98 462.73,79.71 462.88,80.9 462.8,81.44 462.67,81.74 463.18,81.56 462.54,82.38 462.96,82.51 462.79,84.01 463.01,83.51 462.91,84.61 462.99,84.97 463.36,85.42 463.4,86.47 463.07,87.1 463.3,86.35 463.85,87.6 463.75,87.6 464.06,88.23 464.11,88.62 464.08,89.71 464,89.97 463.84,90.7 464.47,90.51 464.45,91.83 464.16,92.47 464.94,91.87 464.54,92.42 464.67,92.92 464.99,93.65 464.96,94.45 465.14,95.4 465.56,94.96 465.27,95.31 465.54,95.99 466.02,97.46 466.45,97.2 465.83,98.5 466.32,99.28 466.48,98.95 466.39,100.38 466.97,100.17 467.13,101.13 467.67,101.22 467.34,101.62 468.15,102.12 468.17,102.83 468.22,103.35 468.29,103.83 469.06,103.66 468.89,105.28 469.65,104.57 469.61,105.93 470.04,106.21 469.69,106.47 470.43,107.51 470.25,107.82 470.88,108.28 470.6,108.42 471.1,109.07 471.36,108.85 471.89,109.51 472.24,109.98 472.32,111.11 472.25,111.43 472.49,112.15 472.74,112.28 473.32,111.94 473.63,112.82 473.93,112.72 474.35,113.39 475.06,113.92 474.95,114.12 475.73,114.67 475.79,115.8 475.91,116.11 476.19,115.58 476.37,116.43 477.44,116.46 477.45,117.62 477.69,117.14 478.27,117.9 479.04,118.89 478.86,118.75 479.43,118.35 479.87,119.92 480.17,119.79 480.93,119.39 481.52,119.79 481.42,120.97 481.6,120.83 482.57,114.89 481.85,114.35 481.42,114.35 480.44,113.14 480.73,112.87 480.02,112.49 479.91,112.85 479.25,112.23 478.8,112.16 478.07,111.74 477.73,110.98 477.22,110.78 477.13,110.77 476.94,110.21 475.86,109.84 475.53,109.63 475.84,109.29 475.46,108.15 474.5,107.62 474.42,107.51 473.66,107.38 473.43,106 473.66,105.87 472.87,105.13 472.27,105.92 472.32,104.83 471.99,103.9 471.61,103.84 471.33,104.24 470.95,103.74 470.61,103.05 470.47,101.69 470.37,101.35 469.75,100.77 470.05,100.99 469.76,100.73 469.09,99.57 469.23,99.22 469.04,98.42 468.86,98.72 468.47,98.05 468.32,96.89 468.22,96.7 467.97,96.64 467.15,96.38 467.32,95.27 467.23,94.61 467.11,94.59 466.72,93.57 467.01,93.1 466.13,92.32 466.54,92.51 465.97,91.72 465.86,91.47 466.06,91.05 466.08,89.82 465.6,89.41 465.43,89.72 465.94,88.76 466,88.35 465.58,87.19 465.19,87.51 465.71,87.16 465.6,86.55 465.45,85.18 464.94,84.88 464.98,84.81 464.58,84.01 464.82,83.12 464.4,83.42 464.49,82.7 464.67,81.72 464.46,81.19 464.42,80.56 464.52,80.19 464.41,80.12 463.82,78.89 464.15,79.51 464.35,78.37 464.07,77.44 464.04,76.87 463.44,76.64 463.81,76.38 463.45,75.49 462.98,75.07 462.98,74.41 462.7,74.01 462.69,73.96" fill="#8e8e8e" stroke="none" stroke-width="1" stroke-linejoin="round"/>
<path d="M461.95,73.96l-0.27,0.85M461.82,74.43l-0.28,0.88M461.68,74.9l-0.46,1.44M461.5,75.31l-0.19,0.6M461.7,75.94l-0.07,0.21M461.56,75.69l-0.37,1.18M461.82,76.08l-0.49,1.54M462.09,76.48l-0.15,0.47M461.95,77.11l-0.41,1.3M461.89,77.41l-0.54,1.7M461.83,77.92l-0.08,0.24M461.78,78.42l-0.08,0.26M462.07,78.96l-0.3,0.94M462.39,79.14l-0.2,0.64M462.53,78.98l-0.57,1.8M462.73,79.71l-0.6,1.89M462.81,80.3l-0.27,0.85M462.88,80.9l-0.48,1.51M462.8,81.44l-0.38,1.2M462.67,81.74l-0.1,0.33M463.18,81.56l-0.58,1.85M462.86,81.97l-0.1,0.33M462.54,82.38l-0.05,0.14M462.96,82.51l-0.27,0.86M462.9,83.01l-0.01,0.03M462.85,83.51l-0.29,0.91M462.79,84.01l-0.25,0.78M463.01,83.51l-0.57,1.81M462.96,84.06l-0.25,0.79M462.91,84.61l-0.51,1.61M462.99,84.97l-0.47,1.48M463.36,85.42l-0.35,1.11M463.38,85.94l-0.14,0.45M463.4,86.47l-0.18,0.58M463.07,87.1l-0.29,0.93M463.3,86.35l-0.24,0.75M463.48,86.77l-0.39,1.23M463.67,87.18l-0.3,0.96M463.85,87.6l-0.19,0.61M463.75,87.6l-0.36,1.15M464.06,88.23l-0.6,1.89M464.11,88.62l-0.12,0.38M464.09,89.16l-0.2,0.64M464.08,89.71l-0.01,0.02M464,89.97l-0.06,0.18M463.84,90.7l-0.03,0.11M464.47,90.51l-0.25,0.8M464.46,91.17l-0.5,1.59M464.45,91.83l-0.42,1.33M464.16,92.47l-0.58,1.84M464.55,92.17l-0.5,1.59M464.94,91.87l-0.35,1.11M464.54,92.42l-0.35,1.1M464.67,92.92l-0.01,0.02M464.99,93.65l-0.23,0.73M464.96,94.45l-0.16,0.5M465.05,94.92l-0.37,1.18M465.14,95.4l-0.04,0.12M465.56,94.96l-0.33,1.03M465.27,95.31l-0.23,0.71M465.54,95.99l-0.3,0.93M465.7,96.48l-0.24,0.77M465.86,96.97l-0.06,0.19M466.02,97.46l-0.44,1.39M466.45,97.2l-0.48,1.52M466.24,97.63l-0.36,1.14M466.03,98.07l-0.07,0.22M465.83,98.5l-0.36,1.14M466.07,98.89l-0.52,1.65M466.32,99.28l-0.59,1.87M466.48,98.95l-0.46,1.44M466.45,99.43l-0.03,0.09M466.42,99.9l-0.53,1.67M466.39,100.38l-0.4,1.26M466.97,100.17l-0.17,0.53M467.05,100.65l-0.55,1.75M467.13,101.13l-0.5,1.57M467.67,101.22l-0.54,1.7M467.34,101.62l-0.15,0.47M467.74,101.87l-0.35,1.1M468.15,102.12l-0.23,0.72M468.17,102.83l-0.18,0.56M468.22,103.35l-0.46,1.45M468.29,103.83l-0.37,1.17M469.06,103.66l-0.2,0.63M469,104.2l-0.33,1.03M468.95,104.74l-0.56,1.76M468.89,105.28l-0.34,1.08M469.27,104.93l-0.55,1.74M469.65,104.57l-0.34,1.08M469.64,105.02l-0.6,1.89M469.62,105.48l-0.02,0.06M469.61,105.93l-0.28,0.87M470.04,106.21l-0.33,1.05M469.69,106.47l-0.44,1.38M470.06,106.99l-0.58,1.84M470.43,107.51l-0.37,1.18M470.25,107.82l-0.29,0.91M470.88,108.28l-0.38,1.21M470.6,108.42l-0.32,1.01M471.1,109.07l-0.42,1.34M471.36,108.85l-0.57,1.8M471.89,109.51l-0.01,0.03M472.24,109.98l-0.19,0.61M472.28,110.54l-0.53,1.67M472.32,111.11l-0.04,0.11M472.25,111.43l-0.47,1.5M472.49,112.15l-0.02,0.06M472.74,112.28l-0.39,1.23M473.32,111.94l-0.48,1.52M473.47,112.38l-0.14,0.45M473.63,112.82l-0.23,0.72M473.93,112.72l-0.14,0.43M474.35,113.39l-0.42,1.34M475.06,113.92l-0.32,1M474.95,114.12l-0.36,1.15M475.34,114.39l-0.2,0.62M475.73,114.67l-0.35,1.11M475.76,115.23l-0.57,1.81M475.79,115.8l-0.47,1.48M475.91,116.11l-0.57,1.81M476.19,115.58l-0.15,0.47M476.37,116.43l-0.31,0.98M476.9,116.44l-0.23,0.73M477.44,116.46l-0.21,0.66M477.44,117.04l-0.48,1.53M477.45,117.62l-0.1,0.33M477.69,117.14l-0.34,1.06M477.98,117.52l-0.46,1.47M478.27,117.9l-0.56,1.78M478.65,118.39l-0.01,0.04M479.04,118.89l-0.16,0.51M478.86,118.75l-0.3,0.94M479.43,118.35l-0.56,1.78M479.58,118.87l-0.1,0.31M479.72,119.39l-0.5,1.6M479.87,119.92l-0.24,0.75M480.17,119.79l-0.33,1.04M480.93,119.39l-0.56,1.76M481.52,119.79l-0.04,0.12M481.47,120.38l-0.2,0.63M481.42,120.97l-0.09,0.3M481.6,120.83l-0.08,0.25" stroke="#8e8e8e" stroke-width="0.45" stroke-opacity="0.55" fill="none"/>
<polygon points="460.04,60.28 460.33,59.97 460.57,61.01 460.08,61.95 460.71,61.6 460.87,62.93 460.33,62.3 460.93,63.96 460.34,64.37 460.97,64.69 461.08,65.68 460.72,65.97 461.27,65.74 461.13,66.76 461.33,67.09 460.91,67.15 461.21,67.49 461.55,69.04 461.1,69.28 461.54,68.97 461.7,70.37 461.37,69.94 461.42,71.38 461.65,71.94 461.47,71.45 461.7,73.03 461.63,72.4 462.21,72.93 462.22,73.42 461.95,74.73 462.56,74.87 462.29,74.84 462.29,75.64 462.75,76.8 462.83,77.04 462.84,76.98 462.66,77.71 462.65,78.83 462.68,78.76 462.81,80.01 463.19,79.97 463.06,81.09 463.61,80.93 463.38,82.01 463.2,81.66 463.14,82.5 463.78,82.52 463.57,84.19 463.68,83.84 464.06,85.05 463.75,84.47 464.04,85.84 464.36,86.22 463.94,86.56 464.03,87 464.28,88.18 464.76,88.74 464.5,89.33 464.32,89.8 464.84,90.27 464.77,90.94 464.57,91.24 465.36,91.07 465.49,91.35 465.54,92.21 465.38,92.33 465.83,93.57 465.4,94.42 465.67,94.08 466,94.86 466.57,95.87 466.52,95.56 466.25,95.65 466.82,96.87 466.99,97.93 467.19,97.54 467.43,97.79 468.09,98.88 468.02,99.15 468.04,99.49 468.5,100.17 469.17,100.84 468.78,100.63 469.03,101.53 469.84,102.79 469.67,103.14 470.14,103.3 470.5,103.11 470.43,104.4 471.27,104.42 471.78,105.45 471.58,104.81 472.1,106.05 472.14,105.61 472.76,106.01 473.36,107.26 473.36,107.42 473.72,107.48 474.07,108.78 474.69,109.05 474.98,109.52 475.58,109.64 475.79,109.85 476.01,110.77 476.8,110.49 477.16,110.23 477.29,110.75 478.15,110.76 478.25,112.28 478.97,112.4 479,112.04 479.78,112.45 480.23,112.84 480.69,113.48 481.25,114.43 481.39,114.81 481.59,115.03 482.07,114.65 482.46,113.21 482.3,113.28 482.47,112.21 482.52,111.82 482.49,111.9 482.34,111.58 481.96,111.08 482.03,109.82 482.21,109.11 482.11,108.13 482.36,108.93 482.66,107.77 482.45,107.35 482.09,106.69 482.23,105.92 481.97,106.28 482.27,105.67 482.24,104.25 482.2,104.24 482.02,103.11 482,103.73 481.83,102.2 481.13,101.63 481.18,101.25 480.09,101.53 480.14,101.47 479.3,101.61 479.4,100.34 478.46,101.04 478.15,99.31 477.51,100.14 477.74,98.84 477,98.88 476.26,98.93 476.47,98.06 475.55,97.79 475.89,97.72 475.07,97.33 475.05,96.5 474.39,95.23 474.08,94.73 473.95,94.69 473.59,94.5 473.35,93.95 472.84,93.04 472.43,93.12 472.13,92.56 471.28,92.77 470.95,92.58 471.16,91.64 470.91,91.45 470.66,90.09 469.7,90.25 470.02,90.3 469.75,89.06 468.98,88.67 468.83,88.95 468.36,88.25 468.65,86.88 467.75,87.11 467.56,86.88 467.28,86.04 467.2,84.96 467.39,84.36 467.44,84.06 466.96,83.9 466.81,83.07 466.36,83 466.34,82.97 466.29,81.63 466.31,80.85 465.5,81.6 466.02,80.65 465.4,79.49 465.45,79.47 465.61,79.41 465.3,78.28 464.99,78.38 464.78,77.23 464.5,77.11 464.28,76.05 464.16,75.81 464.17,75.1 463.84,75.56 464.42,74.23 464.35,73.33 463.65,73.4 463.65,72.75 464.06,71.82 463.36,72.63 463.62,71.59 463.16,71.35 463.56,71.11 463.14,69.68 462.68,69.15 463.12,68.51 462.99,67.96 462.75,67.54 462.45,67.82 462.34,66.43 462.11,66.24 462.34,66.32 461.91,65.55 462.25,65.24 462.06,64.42 461.98,64.37 461.32,63.16 461.39,62.96 461.14,62.88 461.63,61.99 461.55,61.57 461.05,60.59 461.01,60.88 460.61,60.06" fill="#161616" stroke="none" stroke-width="1" stroke-linejoin="round"/>
<path d="M460.61,60.06l0.58,-1.83M460.81,60.47l0.7,-2.23M461.01,60.88l0.09,-0.27M461.05,60.59l0.15,-0.48M461.3,61.08l0.08,-0.24M461.55,61.57l0.52,-1.65M461.63,61.99l0.54,-1.7M461.39,62.43l0.47,-1.48M461.14,62.88l0.56,-1.78M461.39,62.96l0.37,-1.18M461.32,63.16l0.4,-1.28M461.54,63.57l0.66,-2.1M461.76,63.97l0.47,-1.48M461.98,64.37l0.47,-1.5M462.06,64.42l0.42,-1.34M462.25,65.24l0.36,-1.13M461.91,65.55l0.54,-1.73M462.34,66.32l0.41,-1.31M462.11,66.24l0.09,-0.29M462.34,66.43l0.31,-0.97M462.37,66.9l0.3,-0.96M462.41,67.36l0.31,-0.99M462.45,67.82l0.4,-1.28M462.75,67.54l0.26,-0.82M462.99,67.96l0.28,-0.89M463.12,68.51l0.31,-0.97M462.68,69.15l0.27,-0.85M463.14,69.68l0.7,-2.22M463.28,70.16l0.07,-0.21M463.42,70.64l0.01,-0.04M463.56,71.11l0.52,-1.64M463.16,71.35l0.28,-0.9M463.62,71.59l0.32,-1.02M463.49,72.11l0.43,-1.35M463.36,72.63l0.26,-0.84M463.71,72.22l0.17,-0.55M464.06,71.82l0.01,-0.04M463.85,72.28l0.63,-1.99M463.65,72.75l0.68,-2.14M463.65,73.4l0.21,-0.65M464.35,73.33l0.33,-1.06M464.39,73.78l0.23,-0.74M464.42,74.23l0.04,-0.13M464.23,74.67l0.64,-2.04M464.03,75.12l0.6,-1.91M463.84,75.56l0.17,-0.55M464.17,75.1l0.18,-0.58M464.16,75.81l0.5,-1.59M464.28,76.05l0.57,-1.82M464.39,76.58l0.34,-1.07M464.5,77.11l0.28,-0.88M464.78,77.23l0.17,-0.53M464.89,77.81l0.57,-1.82M464.99,78.38l0.62,-1.97M465.3,78.28l0.62,-1.96M465.46,78.84l0.08,-0.26M465.61,79.41l0.43,-1.35M465.45,79.47l0.71,-2.25M465.4,79.49l0.51,-1.63M465.71,80.07l0.33,-1.05M466.02,80.65l0.1,-0.33M465.76,81.12l0.04,-0.14M465.5,81.6l0.53,-1.67M465.9,81.22l0.05,-0.16M466.31,80.85l0.58,-1.84M466.29,81.63l0.48,-1.52M466.31,82.3l0.34,-1.08M466.34,82.97l0.64,-2.03M466.36,83l0.67,-2.13M466.81,83.07l0.44,-1.41M466.96,83.9l0.07,-0.23M467.44,84.06l0.42,-1.34M467.39,84.36l0.3,-0.96M467.2,84.96l0.18,-0.57M467.24,85.5l0.67,-2.12M467.28,86.04l0.53,-1.67M467.56,86.88l0.09,-0.28M467.75,87.11l0.16,-0.52M468.2,87l0.25,-0.78M468.65,86.88l0.41,-1.31M468.55,87.34l0.23,-0.74M468.46,87.79l0.32,-1M468.36,88.25l0.59,-1.85M468.83,88.95l0.13,-0.41M468.98,88.67l0.52,-1.64M469.75,89.06l0.24,-0.75M469.88,89.68l0.68,-2.15M470.02,90.3l0.69,-2.17M469.7,90.25l0.24,-0.75M470.18,90.17l0.44,-1.38M470.66,90.09l0.08,-0.25M470.74,90.54l0.3,-0.94M470.83,90.99l0.45,-1.42M470.91,91.45l0.46,-1.46M471.16,91.64l0.25,-0.78M471.05,92.11l0.02,-0.08M470.95,92.58l0.09,-0.28M471.28,92.77l0.4,-1.28M472.13,92.56l0.12,-0.39M472.43,93.12l0.22,-0.7M472.84,93.04l0.45,-1.41M473.09,93.49l0.65,-2.05M473.35,93.95l0.37,-1.17M473.59,94.5l0.18,-0.58M473.95,94.69l0.42,-1.34M474.08,94.73l0.2,-0.63M474.39,95.23l0.56,-1.78M474.61,95.65l0.11,-0.36M474.83,96.08l0.19,-0.6M475.05,96.5l0.32,-1M475.07,97.33l0.65,-2.07M475.48,97.53l0.12,-0.38M475.89,97.72l0.14,-0.44M475.55,97.79l0.09,-0.3M476.01,97.93l0.15,-0.49M476.47,98.06l0.24,-0.76M476.26,98.93l0.28,-0.9M477,98.88l0.55,-1.73M477.74,98.84l0.29,-0.92M477.63,99.49l0.34,-1.08M477.51,100.14l0.29,-0.9M477.83,99.73l0.56,-1.77M478.15,99.31l0.65,-2.06M478.25,99.89l0.31,-0.97M478.36,100.46l0.66,-2.1M478.46,101.04l0.18,-0.57M478.93,100.69l0.7,-2.23M479.4,100.34l0.38,-1.2M479.35,100.98l0.49,-1.55M479.3,101.61l0.27,-0.87M480.14,101.47l0.2,-0.62M480.09,101.53l0.1,-0.31M480.63,101.39l0.64,-2.02M481.18,101.25l0.26,-0.82M481.13,101.63l0.5,-1.59M481.83,102.2l0.33,-1.05M481.89,102.71l0.38,-1.2M481.94,103.22l0.15,-0.47M482,103.73l0.13,-0.4M482.02,103.11l0.24,-0.77M482.11,103.67l0.49,-1.55M482.2,104.24l0.39,-1.24M482.24,104.25l0,-0.01M482.25,104.73l0.51,-1.62M482.26,105.2l0.31,-0.99M482.27,105.67l0.05,-0.16M481.97,106.28l0.19,-0.59M482.23,105.92l0.15,-0.48M482.09,106.69l0.59,-1.88M482.45,107.35l0.4,-1.25M482.66,107.77l0.24,-0.75M482.51,108.35l0.18,-0.57M482.36,108.93l0.21,-0.66M482.11,108.13l0.2,-0.64M482.16,108.62l0.25,-0.79M482.21,109.11l0.57,-1.8M482.03,109.82l0.57,-1.8M482,110.45l0.5,-1.59M481.96,111.08l0.64,-2.02M482.34,111.58l0.47,-1.49M482.49,111.9l0.08,-0.26M482.52,111.82l0.03,-0.1M482.47,112.21l0.12,-0.37M482.38,112.75l0.19,-0.59M482.3,113.28l0.38,-1.2M482.46,113.21l0.59,-1.87M482.33,113.69l0.42,-1.34M482.2,114.17l0.31,-0.98M482.07,114.65l0.17,-0.55" stroke="#161616" stroke-width="0.4" stroke-opacity="0.55" fill="none"/>
<text x="62.7" y="86.85" font-size="5.6" fill="#8f8f8f" textLength="16.4" lengthAdjust="spacingAndGlyphs" stroke="#8f8f8f" stroke-width="0.16" style="font-family:'Liberation Serif',serif">ELMO1</text>
<text x="79.3" y="84.5" font-size="2.8" fill="#8f8f8f" textLength="2.52" lengthAdjust="spacingAndGlyphs" stroke="#8f8f8f" stroke-width="0.16">-/-</text>
<text x="67.6" y="118.07" font-size="5.2" fill="#2a2a2a" textLength="7" lengthAdjust="spacingAndGlyphs" font-weight="bold" stroke="#2a2a2a" stroke-width="0.16">WT</text>
<text x="126.9" y="115.15" font-size="5.6" fill="#8f8f8f" textLength="16.4" lengthAdjust="spacingAndGlyphs" stroke="#8f8f8f" stroke-width="0.16" style="font-family:'Liberation Serif',serif">ELMO1</text>
<text x="143.5" y="112.8" font-size="2.8" fill="#8f8f8f" textLength="2.52" lengthAdjust="spacingAndGlyphs" stroke="#8f8f8f" stroke-width="0.16">-/-</text>
<text x="126.7" y="121.47" font-size="5.2" fill="#2a2a2a" textLength="7" lengthAdjust="spacingAndGlyphs" font-weight="bold" stroke="#2a2a2a" stroke-width="0.16">WT</text>
<text x="159.9" y="104.95" font-size="5.6" fill="#8f8f8f" textLength="16.4" lengthAdjust="spacingAndGlyphs" stroke="#8f8f8f" stroke-width="0.16" style="font-family:'Liberation Serif',serif">ELMO1</text>
<text x="176.5" y="102.6" font-size="2.8" fill="#8f8f8f" textLength="2.52" lengthAdjust="spacingAndGlyphs" stroke="#8f8f8f" stroke-width="0.16">-/-</text>
<text x="176.8" y="129.17" font-size="5.2" fill="#2a2a2a" textLength="7" lengthAdjust="spacingAndGlyphs" font-weight="bold" stroke="#2a2a2a" stroke-width="0.16">WT</text>
<text x="238.9" y="58.57" font-size="5.2" fill="#2a2a2a" textLength="6.5" lengthAdjust="spacingAndGlyphs" stroke="#2a2a2a" stroke-width="0.16">WT</text>
<text x="243.7" y="117.85" font-size="5.6" fill="#8f8f8f" textLength="16.4" lengthAdjust="spacingAndGlyphs" stroke="#8f8f8f" stroke-width="0.16" style="font-family:'Liberation Serif',serif">ELMO1</text>
<text x="260.3" y="115.5" font-size="2.8" fill="#8f8f8f" textLength="2.52" lengthAdjust="spacingAndGlyphs" stroke="#8f8f8f" stroke-width="0.16">-/-</text>
<text x="303.2" y="109.07" font-size="5.2" fill="#2a2a2a" textLength="7" lengthAdjust="spacingAndGlyphs" font-weight="bold" stroke="#2a2a2a" stroke-width="0.16">WT</text>
<text x="303.4" y="121.75" font-size="5.6" fill="#8f8f8f" textLength="16.4" lengthAdjust="spacingAndGlyphs" stroke="#8f8f8f" stroke-width="0.16" style="font-family:'Liberation Serif',serif">ELMO1</text>
<text x="320" y="119.4" font-size="2.8" fill="#8f8f8f" textLength="2.52" lengthAdjust="spacingAndGlyphs" stroke="#8f8f8f" stroke-width="0.16">-/-</text>
<text x="351.3" y="115.27" font-size="5.2" fill="#2a2a2a" textLength="7" lengthAdjust="spacingAndGlyphs" font-weight="bold" stroke="#2a2a2a" stroke-width="0.16">WT</text>
<text x="344.2" y="134.85" font-size="5.6" fill="#8f8f8f" textLength="16.4" lengthAdjust="spacingAndGlyphs" stroke="#8f8f8f" stroke-width="0.16" style="font-family:'Liberation Serif',serif">ELMO1</text>
<text x="360.8" y="132.5" font-size="2.8" fill="#8f8f8f" textLength="2.52" lengthAdjust="spacingAndGlyphs" stroke="#8f8f8f" stroke-width="0.16">-/-</text>
<text x="432.4" y="91.67" font-size="5.2" fill="#2a2a2a" textLength="7" lengthAdjust="spacingAndGlyphs" font-weight="bold" stroke="#2a2a2a" stroke-width="0.16">WT</text>
<text x="431" y="116.55" font-size="5.6" fill="#8f8f8f" textLength="16.4" lengthAdjust="spacingAndGlyphs" stroke="#8f8f8f" stroke-width="0.16" style="font-family:'Liberation Serif',serif">ELMO1</text>
<text x="447.6" y="114.2" font-size="2.8" fill="#8f8f8f" textLength="2.52" lengthAdjust="spacingAndGlyphs" stroke="#8f8f8f" stroke-width="0.16">-/-</text>
<text x="483.3" y="113.87" font-size="5.2" fill="#2a2a2a" textLength="7" lengthAdjust="spacingAndGlyphs" font-weight="bold" stroke="#2a2a2a" stroke-width="0.16">WT</text>
<text x="483.5" y="123.85" font-size="5.6" fill="#8f8f8f" textLength="16.4" lengthAdjust="spacingAndGlyphs" stroke="#8f8f8f" stroke-width="0.16" style="font-family:'Liberation Serif',serif">ELMO1</text>
<text x="500.1" y="121.5" font-size="2.8" fill="#8f8f8f" textLength="2.52" lengthAdjust="spacingAndGlyphs" stroke="#8f8f8f" stroke-width="0.16">-/-</text>
<text x="8.5" y="159.8" font-size="11" fill="#1a1a1a" stroke="#1a1a1a" stroke-width="0.05">B</text>
<text x="21" y="200.1" font-size="6.3" fill="#222" text-anchor="middle" textLength="35.8" lengthAdjust="spacingAndGlyphs" transform="rotate(-90 21 200.1)" stroke="#222" stroke-width="0.16">ATP secretion</text>
<line x1="26.9" y1="175.3" x2="26.9" y2="225.6" stroke="#222" stroke-width="1.3"/>
<polygon points="24.6,175.8 29.2,175.8 26.9,170.8" fill="#222" stroke="none" stroke-width="1" stroke-linejoin="round"/>
<text x="198.2" y="202" font-size="6.3" fill="#222" text-anchor="middle" textLength="35.8" lengthAdjust="spacingAndGlyphs" transform="rotate(-90 198.2 202)" stroke="#222" stroke-width="0.16">ATP secretion</text>
<line x1="205.1" y1="176.6" x2="205.1" y2="228.4" stroke="#222" stroke-width="1.3"/>
<polygon points="202.8,177.1 207.4,177.1 205.1,172.1" fill="#222" stroke="none" stroke-width="1" stroke-linejoin="round"/>
<text x="384.8" y="201.2" font-size="6.3" fill="#222" text-anchor="middle" textLength="35.8" lengthAdjust="spacingAndGlyphs" transform="rotate(-90 384.8 201.2)" stroke="#222" stroke-width="0.16">ATP secretion</text>
<line x1="390.6" y1="177.7" x2="390.6" y2="228.2" stroke="#222" stroke-width="1.3"/>
<polygon points="388.3,178.2 392.9,178.2 390.6,173.2" fill="#222" stroke="none" stroke-width="1" stroke-linejoin="round"/>
<polyline points="35.6,223.8 35.75,223.8 36.04,223.79 36.48,223.78 37.07,223.77 37.8,223.75 38.68,223.73 39.71,223.71 40.89,223.69 42.04,223.67 43.16,223.65 44.25,223.63 45.32,223.62 46.36,223.61 47.38,223.6 48.37,223.6 49.33,223.6 50.2,223.56 50.97,223.48 51.64,223.36 52.21,223.19 52.69,222.99 53.07,222.75 53.36,222.46 53.54,222.14 53.73,221.78 53.91,221.38 54.1,220.94 54.28,220.46 54.46,219.95 54.64,219.4 54.81,218.81 54.99,218.19 55.16,217.57 55.34,216.95 55.51,216.34 55.69,215.73 55.86,215.13 56.04,214.54 56.21,213.94 56.39,213.36 56.56,212.82 56.73,212.32 56.89,211.88 57.06,211.48 57.22,211.12 57.37,210.82 57.52,210.56 57.67,210.34 57.82,210.16 57.97,210.01 58.11,209.88 58.24,209.79 58.38,209.73 58.51,209.69 58.64,209.69 58.76,209.71 58.89,209.78 59.03,209.89 59.17,210.05 59.31,210.25 59.46,210.49 59.61,210.78 59.77,211.11 59.93,211.49 60.1,211.87 60.29,212.27 60.48,212.68 60.69,213.1 60.91,213.53 61.14,213.97 61.38,214.42 61.62,214.88 61.88,215.32 62.12,215.75 62.38,216.16 62.62,216.54 62.88,216.91 63.12,217.26 63.38,217.59 63.62,217.91 63.88,218.21 64.12,218.51 64.38,218.8 64.62,219.08 64.88,219.35 65.12,219.62 65.38,219.88 65.62,220.12 65.84,220.34 66.03,220.53 66.19,220.69 66.31,220.81 66.41,220.91 66.47,220.97 66.5,221" fill="none" stroke="#8a8a8a" stroke-width="0.6" stroke-linejoin="round"/>
<polyline points="53.5,223.6 53.52,223.55 53.57,223.45 53.64,223.31 53.73,223.12 53.85,222.87 53.99,222.58 54.16,222.24 54.34,221.86 54.53,221.43 54.72,220.97 54.91,220.47 55.09,219.93 55.28,219.36 55.47,218.74 55.66,218.09 55.84,217.41 56.02,216.76 56.2,216.15 56.36,215.58 56.52,215.05 56.66,214.55 56.8,214.1 56.94,213.69 57.06,213.31 57.18,212.97 57.3,212.66 57.42,212.38 57.53,212.12 57.64,211.91 57.75,211.72 57.85,211.56 57.95,211.44 58.05,211.35 58.16,211.3 58.27,211.3 58.38,211.33 58.5,211.4 58.62,211.51 58.74,211.66 58.86,211.84 59,212.06 59.15,212.31 59.3,212.59 59.47,212.91 59.65,213.25 59.84,213.62 60.04,214.03 60.26,214.47 60.48,214.91 60.72,215.34 60.97,215.78 61.23,216.22 61.51,216.66 61.79,217.09 62.09,217.53 62.41,217.97 62.72,218.39 63.03,218.8 63.34,219.19 63.66,219.56 63.97,219.92 64.28,220.27 64.59,220.59 64.91,220.91 65.18,221.18 65.41,221.41 65.61,221.61 65.77,221.77 65.88,221.88 65.96,221.96 66,222" fill="none" stroke="#8a8a8a" stroke-width="0.6" stroke-linejoin="round"/>
<polyline points="94.3,224.1 94.35,224.1 94.46,224.1 94.63,224.1 94.85,224.1 95.12,224.1 95.45,224.1 95.83,224.1 96.27,224.1 96.66,223.94 97.02,223.63 97.33,223.15 97.6,222.52 97.82,221.73 98.01,220.79 98.15,219.68 98.25,218.42 98.35,217.17 98.45,215.95 98.56,214.73 98.67,213.54 98.77,212.36 98.88,211.2 98.99,210.06 99.11,208.94 99.22,207.88 99.34,206.9 99.45,205.98 99.57,205.14 99.69,204.37 99.81,203.66 99.94,203.03 100.06,202.47 100.18,201.96 100.3,201.5 100.41,201.09 100.52,200.73 100.62,200.43 100.71,200.18 100.81,199.97 100.89,199.82 100.98,199.71 101.07,199.63 101.17,199.58 101.26,199.57 101.35,199.59 101.45,199.65 101.55,199.74 101.65,199.86 101.75,200.03 101.86,200.23 101.97,200.46 102.08,200.74 102.2,201.05 102.32,201.4 102.44,201.79 102.56,202.21 102.7,202.69 102.86,203.22 103.03,203.81 103.22,204.44 103.42,205.13 103.64,205.88 103.88,206.68 104.12,207.53 104.38,208.35 104.64,209.14 104.9,209.91 105.17,210.64 105.45,211.35 105.72,212.03 106.01,212.69 106.29,213.31 106.6,213.92 106.91,214.5 107.24,215.07 107.58,215.61 107.94,216.13 108.31,216.64 108.7,217.12 109.1,217.58 109.51,218.02 109.92,218.45 110.35,218.85 110.78,219.23 111.22,219.59 111.66,219.93 112.12,220.25 112.58,220.55 113.06,220.83 113.56,221.1 114.07,221.36 114.6,221.59 115.15,221.82 115.72,222.02 116.3,222.21 116.9,222.39 117.5,222.55 118.1,222.7 118.69,222.84 119.28,222.96 119.88,223.08 120.47,223.18 121.06,223.26 121.64,223.34 122.16,223.4 122.6,223.46 122.97,223.51 123.26,223.54 123.48,223.57 123.63,223.59 123.7,223.6" fill="none" stroke="#8a8a8a" stroke-width="0.6" stroke-linejoin="round"/>
<polyline points="97.8,224.1 97.82,223.94 97.85,223.63 97.9,223.15 97.97,222.52 98.06,221.73 98.16,220.79 98.28,219.68 98.42,218.42 98.55,217.18 98.69,215.97 98.82,214.78 98.95,213.62 99.08,212.48 99.21,211.37 99.34,210.28 99.46,209.22 99.59,208.22 99.71,207.28 99.84,206.41 99.96,205.59 100.09,204.84 100.21,204.16 100.34,203.53 100.46,202.97 100.58,202.47 100.7,202.03 100.82,201.66 100.93,201.34 101.04,201.09 101.15,200.91 101.25,200.78 101.35,200.72 101.45,200.7 101.55,200.71 101.66,200.77 101.77,200.86 101.87,200.99 101.98,201.16 102.09,201.38 102.21,201.62 102.33,201.91 102.45,202.24 102.59,202.61 102.73,203.02 102.89,203.46 103.05,203.95 103.21,204.47 103.39,205.03 103.58,205.62 103.79,206.25 104.02,206.91 104.26,207.59 104.52,208.31 104.8,209.06 105.09,209.84 105.41,210.66 105.73,211.45 106.08,212.21 106.44,212.95 106.81,213.67 107.2,214.37 107.61,215.04 108.03,215.69 108.47,216.31 108.93,216.91 109.41,217.49 109.92,218.05 110.45,218.58 111.01,219.09 111.59,219.57 112.19,220.03 112.81,220.47 113.5,220.88 114.24,221.26 115.03,221.62 115.89,221.95 116.8,222.26 117.78,222.54 118.81,222.79 119.89,223.01 120.85,223.21 121.66,223.38 122.34,223.52 122.88,223.63 123.29,223.72 123.56,223.77 123.7,223.8" fill="none" stroke="#a0a0a0" stroke-width="0.5" stroke-linejoin="round"/>
<polyline points="143.7,223.6 143.72,223.59 143.75,223.58 143.8,223.56 143.87,223.54 143.96,223.51 144.06,223.47 144.18,223.42 144.32,223.38 144.44,222.97 144.56,222.21 144.66,221.09 144.74,219.61 144.82,217.78 144.88,215.59 144.93,213.05 144.97,210.15 145,207.3 145.04,204.5 145.07,201.75 145.1,199.05 145.13,196.4 145.16,193.8 145.19,191.25 145.21,188.75 145.24,186.41 145.27,184.22 145.3,182.19 145.33,180.31 145.36,178.59 145.4,177.03 145.43,175.62 145.47,174.38 145.51,173.25 145.54,172.26 145.58,171.39 145.62,170.66 145.66,170.05 145.69,169.57 145.73,169.21 145.77,168.99 145.81,168.82 145.86,168.71 145.92,168.65 145.98,168.65 146.05,168.71 146.12,168.82 146.21,168.99 146.29,169.21 146.38,169.54 146.48,169.98 146.57,170.52 146.67,171.16 146.78,171.91 146.88,172.76 146.99,173.72 147.11,174.78 147.22,175.87 147.34,176.98 147.46,178.11 147.59,179.27 147.72,180.45 147.85,181.65 147.98,182.88 148.12,184.12 148.27,185.4 148.44,186.7 148.62,188.03 148.81,189.39 149.02,190.77 149.24,192.18 149.47,193.62 149.72,195.08 149.98,196.49 150.24,197.85 150.51,199.15 150.79,200.4 151.07,201.6 151.36,202.74 151.65,203.83 151.95,204.87 152.26,205.86 152.57,206.81 152.89,207.72 153.21,208.58 153.54,209.4 153.88,210.18 154.23,210.91 154.57,211.59 154.93,212.27 155.29,212.92 155.66,213.56 156.04,214.19 156.42,214.8 156.81,215.39 157.2,215.97 157.6,216.53 158.01,217.06 158.42,217.56 158.85,218.03 159.28,218.47 159.72,218.88 160.16,219.25 160.62,219.59 161.08,219.91 161.55,220.2 162.03,220.48 162.52,220.74 163.02,220.98 163.53,221.21 164.05,221.42 164.58,221.61 165.12,221.79 165.68,221.95 166.27,222.1 166.89,222.24 167.53,222.36 168.2,222.48 168.9,222.58 169.62,222.66 170.38,222.74 171.03,222.8 171.59,222.86 172.06,222.91 172.44,222.94 172.72,222.97 172.91,222.99 173,223" fill="none" stroke="#8a8a8a" stroke-width="0.6" stroke-linejoin="round"/>
<polyline points="145.2,223 145.2,222.64 145.21,221.92 145.22,220.84 145.23,219.41 145.25,217.61 145.27,215.45 145.29,212.94 145.31,210.06 145.34,207.23 145.37,204.45 145.4,201.72 145.43,199.03 145.46,196.39 145.5,193.8 145.53,191.25 145.57,188.75 145.61,186.44 145.64,184.31 145.68,182.38 145.72,180.62 145.76,179.06 145.79,177.69 145.83,176.5 145.87,175.5 145.91,174.62 145.96,173.85 146.01,173.2 146.07,172.67 146.13,172.26 146.19,171.96 146.26,171.78 146.34,171.72 146.42,171.73 146.5,171.83 146.58,172 146.67,172.25 146.76,172.58 146.85,172.98 146.95,173.47 147.05,174.03 147.16,174.68 147.27,175.41 147.39,176.23 147.51,177.14 147.64,178.13 147.78,179.21 147.92,180.38 148.08,181.62 148.24,182.91 148.42,184.24 148.62,185.61 148.83,187.02 149.06,188.46 149.3,189.95 149.56,191.47 149.84,193.03 150.12,194.55 150.41,196.02 150.71,197.44 151.02,198.81 151.33,200.14 151.65,201.42 151.98,202.66 152.32,203.84 152.66,204.98 153.01,206.08 153.36,207.12 153.72,208.12 154.08,209.08 154.44,209.98 154.81,210.84 155.19,211.66 155.57,212.44 155.96,213.19 156.36,213.91 156.77,214.59 157.18,215.25 157.6,215.88 158.03,216.47 158.47,217.03 158.93,217.57 159.41,218.09 159.92,218.58 160.45,219.05 161.01,219.49 161.59,219.91 162.19,220.31 162.81,220.69 163.48,221.04 164.2,221.36 164.97,221.65 165.78,221.92 166.64,222.16 167.55,222.38 168.5,222.57 169.5,222.73 170.38,222.87 171.12,223 171.75,223.1 172.25,223.18 172.62,223.24 172.88,223.28 173,223.3" fill="none" stroke="#a0a0a0" stroke-width="0.5" stroke-linejoin="round"/>
<line x1="213.7" y1="225.8" x2="251" y2="225.8" stroke="#8a8a8a" stroke-width="0.6"/>
<polyline points="218,225.7 218.1,225.7 218.3,225.69 218.61,225.68 219.02,225.67 219.52,225.65 220.13,225.63 220.84,225.61 221.66,225.59 222.39,225.52 223.05,225.41 223.62,225.25 224.12,225.05 224.55,224.81 224.89,224.52 225.16,224.19 225.34,223.81 225.53,223.35 225.71,222.8 225.89,222.17 226.06,221.45 226.23,220.65 226.4,219.76 226.57,218.78 226.73,217.72 226.89,216.63 227.05,215.52 227.21,214.39 227.37,213.23 227.52,212.05 227.67,210.85 227.82,209.62 227.97,208.38 228.13,207.16 228.28,205.99 228.43,204.86 228.59,203.77 228.75,202.71 228.91,201.7 229.07,200.72 229.23,199.78 229.39,198.9 229.55,198.08 229.71,197.33 229.87,196.62 230.02,195.98 230.17,195.4 230.32,194.88 230.47,194.42 230.62,194 230.76,193.63 230.9,193.3 231.03,193.02 231.15,192.79 231.28,192.6 231.39,192.45 231.51,192.35 231.62,192.28 231.74,192.23 231.86,192.22 231.99,192.23 232.12,192.27 232.25,192.34 232.38,192.44 232.52,192.56 232.66,192.72 232.81,192.91 232.97,193.12 233.13,193.38 233.3,193.66 233.47,193.97 233.66,194.31 233.84,194.69 234.03,195.07 234.23,195.48 234.42,195.89 234.62,196.31 234.83,196.75 235.03,197.2 235.24,197.66 235.46,198.14 235.68,198.6 235.91,199.06 236.15,199.51 236.4,199.94 236.66,200.37 236.93,200.79 237.21,201.2 237.49,201.6 237.79,202.02 238.1,202.46 238.42,202.92 238.75,203.4 239.1,203.9 239.45,204.43 239.81,204.97 240.19,205.53 240.57,206.09 240.96,206.65 241.35,207.21 241.75,207.77 242.16,208.32 242.57,208.87 242.99,209.42 243.41,209.98 243.78,210.46 244.1,210.87 244.37,211.21 244.58,211.49 244.74,211.69 244.85,211.83 244.9,211.9" fill="none" stroke="#8a8a8a" stroke-width="0.6" stroke-linejoin="round"/>
<polyline points="260.2,226 260.29,226 260.47,226 260.74,226 261.11,226 261.56,226 262.1,226 262.74,226 263.46,226 264.13,225.99 264.73,225.96 265.28,225.92 265.77,225.88 266.2,225.81 266.57,225.74 266.88,225.65 267.12,225.55 267.36,225.35 267.58,225.05 267.78,224.65 267.97,224.15 268.14,223.55 268.3,222.85 268.44,222.05 268.56,221.15 268.69,220.16 268.81,219.08 268.93,217.91 269.05,216.64 269.16,215.29 269.28,213.85 269.39,212.31 269.51,210.69 269.62,209.03 269.73,207.34 269.84,205.62 269.96,203.88 270.07,202.09 270.18,200.28 270.29,198.44 270.41,196.56 270.52,194.74 270.63,192.98 270.74,191.27 270.86,189.61 270.97,188.01 271.08,186.46 271.19,184.97 271.31,183.53 271.42,182.19 271.53,180.94 271.64,179.78 271.76,178.72 271.87,177.75 271.98,176.88 272.09,176.09 272.21,175.41 272.31,174.79 272.42,174.26 272.52,173.79 272.61,173.41 272.7,173.09 272.78,172.86 272.86,172.69 272.94,172.61 273.02,172.55 273.11,172.52 273.2,172.52 273.3,172.55 273.41,172.61 273.52,172.7 273.64,172.82 273.76,172.97 273.9,173.22 274.04,173.57 274.19,174.02 274.36,174.56 274.53,175.2 274.71,175.94 274.9,176.78 275.1,177.72 275.31,178.66 275.52,179.59 275.74,180.53 275.96,181.47 276.19,182.41 276.43,183.34 276.68,184.28 276.93,185.22 277.18,186.16 277.44,187.12 277.7,188.08 277.97,189.05 278.25,190.02 278.52,191.01 278.81,192 279.09,193 279.38,193.97 279.66,194.91 279.95,195.81 280.23,196.69 280.51,197.53 280.79,198.34 281.06,199.12 281.34,199.88 281.61,200.6 281.88,201.3 282.15,201.98 282.42,202.64 282.69,203.27 282.95,203.88 283.22,204.47 283.48,205.03 283.75,205.59 284.03,206.13 284.32,206.67 284.61,207.2 284.91,207.73 285.22,208.24 285.54,208.75 285.86,209.25 286.2,209.76 286.55,210.27 286.92,210.8 287.3,211.33 287.7,211.87 288.11,212.41 288.53,212.97 288.97,213.53 289.42,214.11 289.88,214.69 290.36,215.29 290.84,215.91 291.34,216.53 291.86,217.17 292.38,217.82 292.92,218.48 293.39,219.06 293.79,219.56 294.13,219.97 294.4,220.3 294.6,220.55 294.73,220.72 294.8,220.8" fill="none" stroke="#8a8a8a" stroke-width="0.6" stroke-linejoin="round"/>
<polyline points="266,226 266.25,226 266.75,226 267.5,226 268.5,226 269.75,226 271.25,226 273,226 275,226 276.77,225.94 278.31,225.81 279.62,225.62 280.7,225.38 281.55,225.06 282.18,224.69 282.57,224.25 282.73,223.75 282.89,223.19 283.05,222.56 283.2,221.88 283.35,221.12 283.5,220.31 283.64,219.44 283.78,218.5 283.92,217.5 284.06,216.53 284.19,215.59 284.33,214.69 284.47,213.81 284.61,212.97 284.74,212.16 284.88,211.38 285.02,210.62 285.16,209.92 285.3,209.27 285.45,208.66 285.6,208.09 285.75,207.58 285.91,207.11 286.07,206.69 286.23,206.31 286.39,205.97 286.55,205.67 286.7,205.4 286.85,205.17 287,204.98 287.14,204.82 287.28,204.69 287.42,204.61 287.56,204.54 287.71,204.51 287.86,204.49 288.02,204.51 288.18,204.54 288.34,204.61 288.51,204.69 288.69,204.81 288.87,204.95 289.07,205.12 289.27,205.32 289.48,205.55 289.7,205.81 289.93,206.1 290.18,206.43 290.43,206.78 290.68,207.14 290.93,207.51 291.19,207.89 291.46,208.28 291.72,208.69 291.99,209.1 292.26,209.53 292.54,209.97 292.82,210.42 293.12,210.87 293.44,211.34 293.76,211.81 294.1,212.3 294.45,212.79 294.81,213.29 295.19,213.81 295.52,214.25 295.8,214.64 296.03,214.96 296.22,215.22 296.36,215.41 296.45,215.54 296.5,215.6" fill="none" stroke="#8a8a8a" stroke-width="0.6" stroke-linejoin="round"/>
<polyline points="309.5,226 309.59,226 309.76,226 310.02,226 310.36,226 310.79,226 311.3,226 311.91,226 312.59,226 313.22,225.98 313.78,225.95 314.28,225.91 314.72,225.84 315.09,225.77 315.41,225.67 315.66,225.56 315.84,225.44 316.02,225.09 316.18,224.53 316.33,223.75 316.47,222.75 316.59,221.53 316.71,220.09 316.81,218.44 316.89,216.56 316.98,214.64 317.07,212.67 317.17,210.66 317.26,208.59 317.35,206.48 317.45,204.33 317.55,202.12 317.65,199.88 317.75,197.69 317.85,195.56 317.96,193.5 318.07,191.5 318.17,189.56 318.28,187.69 318.39,185.88 318.51,184.12 318.62,182.47 318.73,180.91 318.84,179.44 318.96,178.06 319.07,176.78 319.18,175.59 319.29,174.5 319.41,173.5 319.52,172.59 319.64,171.76 319.75,171.02 319.87,170.36 319.99,169.79 320.11,169.3 320.24,168.91 320.36,168.59 320.49,168.33 320.61,168.12 320.74,167.97 320.86,167.86 320.99,167.8 321.11,167.8 321.24,167.85 321.36,167.95 321.5,168.12 321.64,168.36 321.79,168.66 321.96,169.04 322.13,169.48 322.31,169.99 322.5,170.57 322.7,171.22 322.91,171.91 323.12,172.63 323.35,173.39 323.58,174.18 323.82,175.01 324.06,175.88 324.32,176.78 324.58,177.72 324.85,178.66 325.11,179.62 325.38,180.58 325.65,181.55 325.92,182.52 326.19,183.51 326.46,184.5 326.74,185.5 327.03,186.54 327.35,187.62 327.68,188.73 328.04,189.89 328.42,191.09 328.81,192.32 329.23,193.59 329.67,194.91 330.11,196.17 330.56,197.39 331.01,198.56 331.47,199.69 331.93,200.77 332.39,201.8 332.86,202.78 333.34,203.72 333.82,204.63 334.3,205.52 334.78,206.39 335.27,207.23 335.76,208.05 336.25,208.85 336.75,209.62 337.25,210.38 337.74,211.1 338.23,211.8 338.7,212.48 339.17,213.14 339.63,213.77 340.09,214.38 340.53,214.97 340.97,215.53 341.4,216.08 341.83,216.61 342.26,217.12 342.69,217.62 343.11,218.11 343.53,218.58 343.94,219.03 344.36,219.47 344.72,219.85 345.03,220.18 345.28,220.45 345.49,220.67 345.65,220.84 345.75,220.95 345.8,221" fill="none" stroke="#8a8a8a" stroke-width="0.6" stroke-linejoin="round"/>
<polyline points="315,226 315.12,226 315.35,226 315.7,226 316.17,226 316.76,226 317.46,226 318.28,226 319.22,226 320.06,225.91 320.8,225.72 321.45,225.44 322,225.06 322.45,224.59 322.81,224.03 323.07,223.38 323.23,222.62 323.39,221.78 323.54,220.84 323.69,219.81 323.83,218.69 323.97,217.47 324.11,216.16 324.24,214.75 324.36,213.25 324.49,211.78 324.61,210.34 324.74,208.94 324.86,207.56 324.99,206.22 325.11,204.91 325.24,203.62 325.36,202.38 325.49,201.2 325.62,200.09 325.75,199.05 325.88,198.08 326.01,197.18 326.15,196.35 326.28,195.59 326.42,194.91 326.56,194.29 326.69,193.73 326.83,193.25 326.97,192.83 327.11,192.48 327.24,192.19 327.38,191.97 327.52,191.82 327.66,191.71 327.81,191.64 327.97,191.6 328.13,191.6 328.3,191.64 328.48,191.71 328.66,191.82 328.84,191.97 329.04,192.18 329.24,192.45 329.45,192.78 329.67,193.17 329.9,193.62 330.13,194.12 330.38,194.69 330.62,195.31 330.89,195.96 331.17,196.63 331.47,197.33 331.78,198.05 332.11,198.79 332.45,199.55 332.81,200.34 333.19,201.16 333.57,201.95 333.96,202.73 334.36,203.5 334.77,204.25 335.18,204.98 335.6,205.7 336.03,206.41 336.47,207.09 336.91,207.78 337.34,208.47 337.78,209.16 338.22,209.84 338.66,210.53 339.09,211.22 339.53,211.91 339.97,212.59 340.42,213.27 340.88,213.92 341.36,214.56 341.84,215.19 342.34,215.8 342.86,216.39 343.38,216.97 343.92,217.53 344.39,218.02 344.79,218.45 345.13,218.8 345.4,219.08 345.6,219.29 345.73,219.43 345.8,219.5" fill="none" stroke="#8a8a8a" stroke-width="0.6" stroke-linejoin="round"/>
<polyline points="395.9,225.4 396,225.37 396.19,225.32 396.47,225.23 396.85,225.12 397.33,224.98 397.9,224.81 398.57,224.61 399.33,224.39 400.08,224.17 400.8,223.95 401.52,223.73 402.21,223.52 402.89,223.31 403.55,223.1 404.19,222.9 404.81,222.7 405.41,222.5 405.98,222.31 406.52,222.12 407.03,221.93 407.52,221.75 407.97,221.57 408.4,221.39 408.8,221.21 409.18,221.02 409.53,220.82 409.87,220.61 410.18,220.39 410.47,220.15 410.74,219.9 410.99,219.64 411.21,219.36 411.43,219.09 411.65,218.81 411.86,218.54 412.07,218.26 412.27,217.99 412.46,217.71 412.66,217.44 412.84,217.16 413.02,216.91 413.2,216.68 413.37,216.48 413.53,216.3 413.69,216.14 413.84,216 413.98,215.89 414.12,215.81 414.26,215.74 414.4,215.69 414.54,215.66 414.68,215.64 414.83,215.65 414.98,215.68 415.12,215.72 415.28,215.78 415.43,215.87 415.59,215.98 415.75,216.11 415.92,216.27 416.1,216.45 416.27,216.65 416.46,216.88 416.64,217.12 416.84,217.38 417.04,217.63 417.24,217.89 417.46,218.16 417.68,218.42 417.9,218.69 418.13,218.96 418.37,219.24 418.61,219.5 418.86,219.74 419.12,219.97 419.38,220.18 419.65,220.38 419.92,220.56 420.21,220.72 420.49,220.88 420.81,221.02 421.15,221.15 421.52,221.27 421.91,221.38 422.33,221.48 422.78,221.58 423.25,221.66 423.75,221.74 424.19,221.8 424.56,221.86 424.88,221.91 425.12,221.94 425.31,221.97 425.44,221.99 425.5,222" fill="none" stroke="#8a8a8a" stroke-width="0.6" stroke-linejoin="round"/>
<polyline points="395.9,225.4 395.96,225.38 396.09,225.33 396.28,225.25 396.54,225.15 396.86,225.02 397.25,224.88 397.69,224.7 398.21,224.5 398.73,224.3 399.27,224.09 399.83,223.88 400.4,223.67 400.98,223.45 401.58,223.23 402.19,223.01 402.81,222.79 403.42,222.57 404.02,222.37 404.59,222.17 405.16,221.98 405.7,221.8 406.23,221.63 406.75,221.47 407.25,221.32 407.75,221.18 408.25,221.05 408.75,220.92 409.25,220.8 409.75,220.69 410.25,220.59 410.75,220.49 411.25,220.41 411.74,220.33 412.23,220.27 412.7,220.22 413.17,220.18 413.63,220.16 414.09,220.14 414.53,220.14 414.97,220.16 415.41,220.18 415.84,220.21 416.28,220.26 416.72,220.32 417.16,220.38 417.59,220.46 418.03,220.55 418.47,220.65 418.9,220.75 419.32,220.85 419.73,220.95 420.14,221.05 420.54,221.15 420.93,221.25 421.31,221.35 421.69,221.45 422.05,221.55 422.41,221.65 422.77,221.74 423.11,221.83 423.45,221.93 423.77,222.02 424.09,222.11 424.41,222.19 424.68,222.27 424.91,222.34 425.11,222.39 425.27,222.43 425.38,222.47 425.46,222.49 425.5,222.5" fill="none" stroke="#777" stroke-width="0.6" stroke-linejoin="round"/>
<polyline points="445.6,225 445.65,224.98 445.75,224.95 445.9,224.91 446.1,224.84 446.35,224.77 446.65,224.67 447,224.56 447.4,224.44 447.78,224.29 448.14,224.12 448.49,223.92 448.81,223.7 449.12,223.46 449.41,223.2 449.68,222.91 449.93,222.59 450.17,222.27 450.41,221.92 450.65,221.56 450.88,221.19 451.1,220.8 451.33,220.39 451.54,219.97 451.76,219.53 451.97,219.1 452.2,218.68 452.42,218.27 452.65,217.86 452.89,217.46 453.13,217.07 453.38,216.69 453.62,216.31 453.87,215.96 454.1,215.63 454.33,215.33 454.55,215.05 454.76,214.79 454.96,214.55 455.16,214.34 455.34,214.16 455.53,213.99 455.7,213.84 455.88,213.71 456.05,213.59 456.21,213.5 456.37,213.43 456.53,213.37 456.67,213.33 456.83,213.31 456.99,213.3 457.16,213.31 457.34,213.34 457.52,213.38 457.71,213.43 457.9,213.51 458.1,213.59 458.3,213.7 458.5,213.82 458.71,213.95 458.92,214.1 459.12,214.27 459.33,214.45 459.54,214.64 459.76,214.86 459.97,215.07 460.2,215.29 460.42,215.5 460.65,215.72 460.89,215.94 461.13,216.16 461.38,216.39 461.62,216.61 461.89,216.84 462.17,217.07 462.47,217.31 462.78,217.54 463.11,217.78 463.45,218.03 463.81,218.28 464.19,218.53 464.57,218.76 464.96,218.99 465.35,219.2 465.75,219.4 466.16,219.59 466.57,219.76 466.99,219.92 467.41,220.08 467.87,220.22 468.35,220.37 468.86,220.51 469.39,220.64 469.96,220.78 470.55,220.91 471.18,221.04 471.82,221.16 472.39,221.27 472.88,221.37 473.29,221.44 473.61,221.51 473.86,221.55 474.02,221.58 474.1,221.6" fill="none" stroke="#8a8a8a" stroke-width="0.6" stroke-linejoin="round"/>
<polyline points="448.8,224.2 448.83,224.16 448.9,224.09 449.01,223.97 449.14,223.82 449.32,223.64 449.52,223.41 449.76,223.15 450.04,222.85 450.31,222.54 450.58,222.21 450.84,221.87 451.11,221.51 451.37,221.14 451.62,220.75 451.88,220.36 452.12,219.94 452.38,219.54 452.62,219.16 452.88,218.78 453.12,218.42 453.38,218.07 453.62,217.73 453.88,217.41 454.12,217.09 454.38,216.8 454.62,216.53 454.88,216.28 455.12,216.05 455.38,215.84 455.62,215.65 455.88,215.47 456.12,215.32 456.38,215.2 456.62,215.1 456.88,215.03 457.12,214.98 457.38,214.95 457.62,214.95 457.88,214.97 458.12,215.03 458.38,215.09 458.62,215.18 458.88,215.29 459.12,215.41 459.38,215.56 459.62,215.72 459.88,215.9 460.12,216.1 460.38,216.31 460.65,216.52 460.92,216.74 461.2,216.96 461.49,217.19 461.79,217.43 462.09,217.68 462.41,217.93 462.73,218.17 463.05,218.41 463.39,218.65 463.73,218.88 464.09,219.1 464.45,219.33 464.81,219.54 465.19,219.76 465.57,219.96 465.96,220.15 466.36,220.33 466.77,220.5 467.18,220.65 467.6,220.8 468.03,220.94 468.47,221.06 468.92,221.18 469.37,221.3 469.84,221.41 470.31,221.52 470.8,221.62 471.29,221.71 471.79,221.81 472.31,221.89 472.75,221.97 473.14,222.04 473.46,222.09 473.72,222.13 473.91,222.17 474.04,222.19 474.1,222.2" fill="none" stroke="#777" stroke-width="0.6" stroke-linejoin="round"/>
<text x="63" y="211.25" font-size="5.6" fill="#8f8f8f" textLength="15.2" lengthAdjust="spacingAndGlyphs" stroke="#8f8f8f" stroke-width="0.16" style="font-family:'Liberation Serif',serif">ELMO1</text>
<text x="78.4" y="208.9" font-size="2.8" fill="#8f8f8f" textLength="2.52" lengthAdjust="spacingAndGlyphs" stroke="#8f8f8f" stroke-width="0.16">-/-</text>
<text x="57.9" y="227.87" font-size="5.2" fill="#3a3a3a" textLength="7" lengthAdjust="spacingAndGlyphs" font-weight="bold" stroke="#3a3a3a" stroke-width="0.16">WT</text>
<text x="108.2" y="206.85" font-size="5.6" fill="#8f8f8f" textLength="15.2" lengthAdjust="spacingAndGlyphs" stroke="#8f8f8f" stroke-width="0.16" style="font-family:'Liberation Serif',serif">ELMO1</text>
<text x="123.6" y="204.5" font-size="2.8" fill="#8f8f8f" textLength="2.52" lengthAdjust="spacingAndGlyphs" stroke="#8f8f8f" stroke-width="0.16">-/-</text>
<text x="102.1" y="226.27" font-size="5.2" fill="#3a3a3a" textLength="7" lengthAdjust="spacingAndGlyphs" font-weight="bold" stroke="#3a3a3a" stroke-width="0.16">WT</text>
<text x="149.7" y="174.35" font-size="5.6" fill="#8f8f8f" textLength="15.2" lengthAdjust="spacingAndGlyphs" stroke="#8f8f8f" stroke-width="0.16" style="font-family:'Liberation Serif',serif">ELMO1</text>
<text x="165.1" y="172" font-size="2.8" fill="#8f8f8f" textLength="2.52" lengthAdjust="spacingAndGlyphs" stroke="#8f8f8f" stroke-width="0.16">-/-</text>
<text x="148.3" y="223.67" font-size="5.2" fill="#3a3a3a" textLength="7" lengthAdjust="spacingAndGlyphs" font-weight="bold" stroke="#3a3a3a" stroke-width="0.16">WT</text>
<text x="238.8" y="197.35" font-size="5.6" fill="#8f8f8f" textLength="15.2" lengthAdjust="spacingAndGlyphs" stroke="#8f8f8f" stroke-width="0.16" style="font-family:'Liberation Serif',serif">ELMO1</text>
<text x="254.2" y="195" font-size="2.8" fill="#8f8f8f" textLength="2.52" lengthAdjust="spacingAndGlyphs" stroke="#8f8f8f" stroke-width="0.16">-/-</text>
<text x="239.9" y="225.07" font-size="5.2" fill="#3a3a3a" textLength="7" lengthAdjust="spacingAndGlyphs" font-weight="bold" stroke="#3a3a3a" stroke-width="0.16">WT</text>
<text x="278.9" y="182.85" font-size="5.6" fill="#8f8f8f" textLength="15.2" lengthAdjust="spacingAndGlyphs" stroke="#8f8f8f" stroke-width="0.16" style="font-family:'Liberation Serif',serif">ELMO1</text>
<text x="294.3" y="180.5" font-size="2.8" fill="#8f8f8f" textLength="2.52" lengthAdjust="spacingAndGlyphs" stroke="#8f8f8f" stroke-width="0.16">-/-</text>
<text x="284.6" y="225.27" font-size="5.2" fill="#3a3a3a" textLength="7" lengthAdjust="spacingAndGlyphs" font-weight="bold" stroke="#3a3a3a" stroke-width="0.16">WT</text>
<text x="326.8" y="179.35" font-size="5.6" fill="#8f8f8f" textLength="15.2" lengthAdjust="spacingAndGlyphs" stroke="#8f8f8f" stroke-width="0.16" style="font-family:'Liberation Serif',serif">ELMO1</text>
<text x="342.2" y="177" font-size="2.8" fill="#8f8f8f" textLength="2.52" lengthAdjust="spacingAndGlyphs" stroke="#8f8f8f" stroke-width="0.16">-/-</text>
<text x="325.3" y="225.77" font-size="5.2" fill="#3a3a3a" textLength="7" lengthAdjust="spacingAndGlyphs" font-weight="bold" stroke="#3a3a3a" stroke-width="0.16">WT</text>
<text x="403.7" y="213.75" font-size="5.6" fill="#8f8f8f" textLength="15.2" lengthAdjust="spacingAndGlyphs" stroke="#8f8f8f" stroke-width="0.16" style="font-family:'Liberation Serif',serif">ELMO1</text>
<text x="419.1" y="211.4" font-size="2.8" fill="#8f8f8f" textLength="2.52" lengthAdjust="spacingAndGlyphs" stroke="#8f8f8f" stroke-width="0.16">-/-</text>
<text x="427.8" y="225.87" font-size="5.2" fill="#3a3a3a" textLength="7" lengthAdjust="spacingAndGlyphs" font-weight="bold" stroke="#3a3a3a" stroke-width="0.16">WT</text>
<text x="449.8" y="211.65" font-size="5.6" fill="#8f8f8f" textLength="15.2" lengthAdjust="spacingAndGlyphs" stroke="#8f8f8f" stroke-width="0.16" style="font-family:'Liberation Serif',serif">ELMO1</text>
<text x="465.2" y="209.3" font-size="2.8" fill="#8f8f8f" textLength="2.52" lengthAdjust="spacingAndGlyphs" stroke="#8f8f8f" stroke-width="0.16">-/-</text>
<text x="476.5" y="222.67" font-size="5.2" fill="#3a3a3a" textLength="7" lengthAdjust="spacingAndGlyphs" font-weight="bold" stroke="#3a3a3a" stroke-width="0.16">WT</text>
<text x="8" y="262.6" font-size="12" fill="#1a1a1a" stroke="#1a1a1a" stroke-width="0.05">C</text>
<line x1="41.6" y1="268.5" x2="41.6" y2="357.4" stroke="#1a1a1a" stroke-width="1.1"/>
<line x1="41.1" y1="357" x2="256.8" y2="357" stroke="#1a1a1a" stroke-width="1.1"/>
<line x1="38.2" y1="357" x2="41.6" y2="357" stroke="#222" stroke-width="0.8"/>
<text x="34.6" y="359.3" font-size="6.3" fill="#333" text-anchor="end" textLength="3.06" lengthAdjust="spacingAndGlyphs" stroke="#333" stroke-width="0.16">0</text>
<line x1="38.2" y1="346.32" x2="41.6" y2="346.32" stroke="#222" stroke-width="0.8"/>
<text x="34.6" y="348.62" font-size="6.3" fill="#333" text-anchor="end" textLength="3.06" lengthAdjust="spacingAndGlyphs" stroke="#333" stroke-width="0.16">2</text>
<line x1="38.2" y1="335.64" x2="41.6" y2="335.64" stroke="#222" stroke-width="0.8"/>
<text x="34.6" y="337.94" font-size="6.3" fill="#333" text-anchor="end" textLength="3.06" lengthAdjust="spacingAndGlyphs" stroke="#333" stroke-width="0.16">4</text>
<line x1="38.2" y1="324.96" x2="41.6" y2="324.96" stroke="#222" stroke-width="0.8"/>
<text x="34.6" y="327.26" font-size="6.3" fill="#333" text-anchor="end" textLength="3.06" lengthAdjust="spacingAndGlyphs" stroke="#333" stroke-width="0.16">6</text>
<line x1="38.2" y1="314.28" x2="41.6" y2="314.28" stroke="#222" stroke-width="0.8"/>
<text x="34.6" y="316.58" font-size="6.3" fill="#333" text-anchor="end" textLength="3.06" lengthAdjust="spacingAndGlyphs" stroke="#333" stroke-width="0.16">8</text>
<line x1="38.2" y1="303.6" x2="41.6" y2="303.6" stroke="#222" stroke-width="0.8"/>
<text x="34.6" y="305.9" font-size="6.3" fill="#333" text-anchor="end" textLength="6.12" lengthAdjust="spacingAndGlyphs" stroke="#333" stroke-width="0.16">10</text>
<line x1="38.2" y1="292.92" x2="41.6" y2="292.92" stroke="#222" stroke-width="0.8"/>
<text x="34.6" y="295.22" font-size="6.3" fill="#333" text-anchor="end" textLength="6.12" lengthAdjust="spacingAndGlyphs" stroke="#333" stroke-width="0.16">12</text>
<line x1="38.2" y1="282.24" x2="41.6" y2="282.24" stroke="#222" stroke-width="0.8"/>
<text x="34.6" y="284.54" font-size="6.3" fill="#333" text-anchor="end" textLength="6.12" lengthAdjust="spacingAndGlyphs" stroke="#333" stroke-width="0.16">14</text>
<line x1="38.2" y1="271.56" x2="41.6" y2="271.56" stroke="#222" stroke-width="0.8"/>
<text x="34.6" y="273.86" font-size="6.3" fill="#333" text-anchor="end" textLength="6.12" lengthAdjust="spacingAndGlyphs" stroke="#333" stroke-width="0.16">16</text>
<text x="22.2" y="313.6" font-size="8.2" fill="#222" text-anchor="middle" textLength="98" lengthAdjust="spacingAndGlyphs" transform="rotate(-90 22.2 313.6)" stroke="#222" stroke-width="0.18">Extent of aggregation (A.U)</text>
<rect x="47" y="306.43" width="7.6" height="50.57" fill="#a1313f"/>
<rect x="47.4" y="306.83" width="6.8" height="50.17" fill="none" stroke="#92222f" stroke-width="0.8"/>
<rect x="54.6" y="296.39" width="7.6" height="60.61" fill="#4b6186"/>
<rect x="55" y="296.79" width="6.8" height="60.21" fill="none" stroke="#3c5079" stroke-width="0.8"/>
<line x1="50.8" y1="306.43" x2="50.8" y2="302.53" stroke="#222" stroke-width="0.75"/>
<line x1="49.8" y1="302.83" x2="51.8" y2="302.83" stroke="#222" stroke-width="0.9"/>
<line x1="58.4" y1="296.39" x2="58.4" y2="291.85" stroke="#222" stroke-width="0.75"/>
<line x1="57.4" y1="292.15" x2="59.4" y2="292.15" stroke="#222" stroke-width="0.9"/>
<rect x="73.74" y="296.39" width="7.6" height="60.61" fill="#a1313f"/>
<rect x="74.14" y="296.79" width="6.8" height="60.21" fill="none" stroke="#92222f" stroke-width="0.8"/>
<rect x="81.34" y="297.73" width="7.6" height="59.27" fill="#4b6186"/>
<rect x="81.74" y="298.13" width="6.8" height="58.87" fill="none" stroke="#3c5079" stroke-width="0.8"/>
<line x1="77.54" y1="296.39" x2="77.54" y2="294.25" stroke="#222" stroke-width="0.75"/>
<line x1="76.54" y1="294.56" x2="78.54" y2="294.56" stroke="#222" stroke-width="0.9"/>
<line x1="85.14" y1="297.73" x2="85.14" y2="295.06" stroke="#222" stroke-width="0.75"/>
<line x1="84.14" y1="295.36" x2="86.14" y2="295.36" stroke="#222" stroke-width="0.9"/>
<rect x="100.48" y="296.39" width="7.6" height="60.61" fill="#a1313f"/>
<rect x="100.88" y="296.79" width="6.8" height="60.21" fill="none" stroke="#92222f" stroke-width="0.8"/>
<rect x="108.08" y="296.39" width="7.6" height="60.61" fill="#4b6186"/>
<rect x="108.48" y="296.79" width="6.8" height="60.21" fill="none" stroke="#3c5079" stroke-width="0.8"/>
<line x1="104.28" y1="296.39" x2="104.28" y2="293.45" stroke="#222" stroke-width="0.75"/>
<line x1="103.28" y1="293.75" x2="105.28" y2="293.75" stroke="#222" stroke-width="0.9"/>
<line x1="111.88" y1="296.39" x2="111.88" y2="293.45" stroke="#222" stroke-width="0.75"/>
<line x1="110.88" y1="293.75" x2="112.88" y2="293.75" stroke="#222" stroke-width="0.9"/>
<rect x="127.22" y="352.41" width="7.6" height="4.59" fill="#a1313f"/>
<rect x="127.62" y="352.81" width="6.8" height="4.19" fill="none" stroke="#92222f" stroke-width="0.8"/>
<rect x="134.82" y="303.6" width="7.6" height="53.4" fill="#4b6186"/>
<rect x="135.22" y="304" width="6.8" height="53" fill="none" stroke="#3c5079" stroke-width="0.8"/>
<line x1="131.02" y1="352.41" x2="131.02" y2="347.92" stroke="#222" stroke-width="0.75"/>
<line x1="130.02" y1="348.22" x2="132.02" y2="348.22" stroke="#222" stroke-width="0.9"/>
<line x1="138.62" y1="303.6" x2="138.62" y2="299.33" stroke="#222" stroke-width="0.75"/>
<line x1="137.62" y1="299.63" x2="139.62" y2="299.63" stroke="#222" stroke-width="0.9"/>
<text x="138.62" y="298.67" font-size="7" fill="#1a1a1a" text-anchor="middle" stroke="#1a1a1a" stroke-width="0.25">*</text>
<rect x="153.96" y="308.94" width="7.6" height="48.06" fill="#a1313f"/>
<rect x="154.36" y="309.34" width="6.8" height="47.66" fill="none" stroke="#92222f" stroke-width="0.8"/>
<rect x="161.56" y="300.4" width="7.6" height="56.6" fill="#4b6186"/>
<rect x="161.96" y="300.8" width="6.8" height="56.2" fill="none" stroke="#3c5079" stroke-width="0.8"/>
<line x1="157.76" y1="308.94" x2="157.76" y2="304.13" stroke="#222" stroke-width="0.75"/>
<line x1="156.76" y1="304.43" x2="158.76" y2="304.43" stroke="#222" stroke-width="0.9"/>
<line x1="165.36" y1="300.4" x2="165.36" y2="295.59" stroke="#222" stroke-width="0.75"/>
<line x1="164.36" y1="295.89" x2="166.36" y2="295.89" stroke="#222" stroke-width="0.9"/>
<text x="165.36" y="294.93" font-size="7" fill="#1a1a1a" text-anchor="middle" stroke="#1a1a1a" stroke-width="0.25">*</text>
<rect x="180.7" y="302.53" width="7.6" height="54.47" fill="#a1313f"/>
<rect x="181.1" y="302.93" width="6.8" height="54.07" fill="none" stroke="#92222f" stroke-width="0.8"/>
<rect x="188.3" y="295.06" width="7.6" height="61.94" fill="#4b6186"/>
<rect x="188.7" y="295.46" width="6.8" height="61.54" fill="none" stroke="#3c5079" stroke-width="0.8"/>
<line x1="184.5" y1="302.53" x2="184.5" y2="301.2" stroke="#222" stroke-width="0.75"/>
<line x1="183.5" y1="301.5" x2="185.5" y2="301.5" stroke="#222" stroke-width="0.9"/>
<line x1="192.1" y1="295.06" x2="192.1" y2="290.78" stroke="#222" stroke-width="0.75"/>
<line x1="191.1" y1="291.08" x2="193.1" y2="291.08" stroke="#222" stroke-width="0.9"/>
<text x="192.1" y="290.12" font-size="7" fill="#1a1a1a" text-anchor="middle" stroke="#1a1a1a" stroke-width="0.25">*</text>
<rect x="207.44" y="311.61" width="7.6" height="45.39" fill="#a1313f"/>
<rect x="207.84" y="312.01" width="6.8" height="44.99" fill="none" stroke="#92222f" stroke-width="0.8"/>
<rect x="215.04" y="297.19" width="7.6" height="59.81" fill="#4b6186"/>
<rect x="215.44" y="297.59" width="6.8" height="59.41" fill="none" stroke="#3c5079" stroke-width="0.8"/>
<line x1="211.24" y1="311.61" x2="211.24" y2="302" stroke="#222" stroke-width="0.75"/>
<line x1="210.24" y1="302.3" x2="212.24" y2="302.3" stroke="#222" stroke-width="0.9"/>
<line x1="218.84" y1="297.19" x2="218.84" y2="289.18" stroke="#222" stroke-width="0.75"/>
<line x1="217.84" y1="289.48" x2="219.84" y2="289.48" stroke="#222" stroke-width="0.9"/>
<rect x="234.18" y="296.12" width="7.6" height="60.88" fill="#a1313f"/>
<rect x="234.58" y="296.52" width="6.8" height="60.48" fill="none" stroke="#92222f" stroke-width="0.8"/>
<rect x="241.78" y="289.72" width="7.6" height="67.28" fill="#4b6186"/>
<rect x="242.18" y="290.12" width="6.8" height="66.88" fill="none" stroke="#3c5079" stroke-width="0.8"/>
<line x1="237.98" y1="296.12" x2="237.98" y2="288.11" stroke="#222" stroke-width="0.75"/>
<line x1="236.98" y1="288.41" x2="238.98" y2="288.41" stroke="#222" stroke-width="0.9"/>
<line x1="245.58" y1="289.72" x2="245.58" y2="283.84" stroke="#222" stroke-width="0.75"/>
<line x1="244.58" y1="284.14" x2="246.58" y2="284.14" stroke="#222" stroke-width="0.9"/>
<line x1="41.6" y1="357" x2="41.6" y2="359.6" stroke="#222" stroke-width="0.8"/>
<line x1="68.34" y1="357" x2="68.34" y2="359.6" stroke="#222" stroke-width="0.8"/>
<line x1="95.08" y1="357" x2="95.08" y2="359.6" stroke="#222" stroke-width="0.8"/>
<line x1="121.82" y1="357" x2="121.82" y2="359.6" stroke="#222" stroke-width="0.8"/>
<line x1="148.56" y1="357" x2="148.56" y2="359.6" stroke="#222" stroke-width="0.8"/>
<line x1="175.3" y1="357" x2="175.3" y2="359.6" stroke="#222" stroke-width="0.8"/>
<line x1="202.04" y1="357" x2="202.04" y2="359.6" stroke="#222" stroke-width="0.8"/>
<line x1="228.78" y1="357" x2="228.78" y2="359.6" stroke="#222" stroke-width="0.8"/>
<line x1="255.52" y1="357" x2="255.52" y2="359.6" stroke="#222" stroke-width="0.8"/>
<rect x="51.1" y="271.4" width="3.9" height="3.9" fill="#a1313f"/>
<rect x="51.1" y="280.35" width="3.9" height="3.9" fill="#4b6186"/>
<text x="57.8" y="275" font-size="5.6" fill="#333" textLength="7.6" lengthAdjust="spacingAndGlyphs" stroke="#333" stroke-width="0.18" style="font-family:'Liberation Serif',serif">WT</text>
<text x="57.8" y="283.95" font-size="5.6" fill="#444" textLength="21.4" lengthAdjust="spacingAndGlyphs" stroke="#444" stroke-width="0.1" style="font-family:'Liberation Serif',serif">ELMO1-/-</text>
<text x="56" y="368.1" font-size="6" fill="#2a2a2a" text-anchor="end" textLength="23.11" lengthAdjust="spacingAndGlyphs" transform="rotate(-45 56 368.1)" stroke="#2a2a2a" stroke-width="0.16">AYPGKF</text>
<text x="61.37" y="373.47" font-size="6" fill="#2a2a2a" text-anchor="end" textLength="17.72" lengthAdjust="spacingAndGlyphs" transform="rotate(-45 61.37 373.47)" stroke="#2a2a2a" stroke-width="0.16">50 µM</text>
<text x="82.99" y="368.1" font-size="6" fill="#2a2a2a" text-anchor="end" textLength="23.11" lengthAdjust="spacingAndGlyphs" transform="rotate(-45 82.99 368.1)" stroke="#2a2a2a" stroke-width="0.16">AYPGKF</text>
<text x="88.36" y="373.47" font-size="6" fill="#2a2a2a" text-anchor="end" textLength="21.21" lengthAdjust="spacingAndGlyphs" transform="rotate(-45 88.36 373.47)" stroke="#2a2a2a" stroke-width="0.16">100 µM</text>
<text x="109.98" y="368.1" font-size="6" fill="#2a2a2a" text-anchor="end" textLength="23.11" lengthAdjust="spacingAndGlyphs" transform="rotate(-45 109.98 368.1)" stroke="#2a2a2a" stroke-width="0.16">AYPGKF</text>
<text x="115.35" y="373.47" font-size="6" fill="#2a2a2a" text-anchor="end" textLength="21.21" lengthAdjust="spacingAndGlyphs" transform="rotate(-45 115.35 373.47)" stroke="#2a2a2a" stroke-width="0.16">500 µM</text>
<text x="136.97" y="368.1" font-size="6" fill="#2a2a2a" text-anchor="end" textLength="24.78" lengthAdjust="spacingAndGlyphs" transform="rotate(-45 136.97 368.1)" stroke="#2a2a2a" stroke-width="0.16">CRP 1.25</text>
<text x="142.34" y="373.47" font-size="6" fill="#2a2a2a" text-anchor="end" textLength="18.85" lengthAdjust="spacingAndGlyphs" transform="rotate(-45 142.34 373.47)" stroke="#2a2a2a" stroke-width="0.16">µg/mL</text>
<text x="163.96" y="368.1" font-size="6" fill="#2a2a2a" text-anchor="end" textLength="21.29" lengthAdjust="spacingAndGlyphs" transform="rotate(-45 163.96 368.1)" stroke="#2a2a2a" stroke-width="0.16">CRP 2.5</text>
<text x="169.33" y="373.47" font-size="6" fill="#2a2a2a" text-anchor="end" textLength="18.85" lengthAdjust="spacingAndGlyphs" transform="rotate(-45 169.33 373.47)" stroke="#2a2a2a" stroke-width="0.16">µg/mL</text>
<text x="190.95" y="368.1" font-size="6" fill="#2a2a2a" text-anchor="end" textLength="21.29" lengthAdjust="spacingAndGlyphs" transform="rotate(-45 190.95 368.1)" stroke="#2a2a2a" stroke-width="0.16">CRP 5.0</text>
<text x="196.32" y="373.47" font-size="6" fill="#2a2a2a" text-anchor="end" textLength="17.24" lengthAdjust="spacingAndGlyphs" transform="rotate(-45 196.32 373.47)" stroke="#2a2a2a" stroke-width="0.16">µg/ml</text>
<text x="217.94" y="368.1" font-size="6" fill="#2a2a2a" text-anchor="end" textLength="25.15" lengthAdjust="spacingAndGlyphs" transform="rotate(-45 217.94 368.1)" stroke="#2a2a2a" stroke-width="0.16">Collagen</text>
<text x="223.31" y="373.47" font-size="6" fill="#2a2a2a" text-anchor="end" textLength="22.17" lengthAdjust="spacingAndGlyphs" transform="rotate(-45 223.31 373.47)" stroke="#2a2a2a" stroke-width="0.16">1 µg/ml</text>
<text x="244.93" y="368.1" font-size="6" fill="#2a2a2a" text-anchor="end" textLength="25.15" lengthAdjust="spacingAndGlyphs" transform="rotate(-45 244.93 368.1)" stroke="#2a2a2a" stroke-width="0.16">Collagen</text>
<text x="250.3" y="373.47" font-size="6" fill="#2a2a2a" text-anchor="end" textLength="22.17" lengthAdjust="spacingAndGlyphs" transform="rotate(-45 250.3 373.47)" stroke="#2a2a2a" stroke-width="0.16">3 µg/ml</text>
<text x="268.7" y="263.2" font-size="11" fill="#1a1a1a" stroke="#1a1a1a" stroke-width="0.05">D</text>
<line x1="295.5" y1="268.5" x2="295.5" y2="357.6" stroke="#1a1a1a" stroke-width="1.1"/>
<line x1="295" y1="357.2" x2="511.4" y2="357.2" stroke="#1a1a1a" stroke-width="1.1"/>
<line x1="292.5" y1="357.2" x2="295.5" y2="357.2" stroke="#222" stroke-width="0.8"/>
<text x="289.6" y="359.5" font-size="6.3" fill="#333" text-anchor="end" textLength="3.06" lengthAdjust="spacingAndGlyphs" stroke="#333" stroke-width="0.16">0</text>
<line x1="292.5" y1="345.06" x2="295.5" y2="345.06" stroke="#222" stroke-width="0.8"/>
<text x="289.6" y="347.36" font-size="6.3" fill="#333" text-anchor="end" textLength="7.65" lengthAdjust="spacingAndGlyphs" stroke="#333" stroke-width="0.16">0.2</text>
<line x1="292.5" y1="332.92" x2="295.5" y2="332.92" stroke="#222" stroke-width="0.8"/>
<text x="289.6" y="335.22" font-size="6.3" fill="#333" text-anchor="end" textLength="7.65" lengthAdjust="spacingAndGlyphs" stroke="#333" stroke-width="0.16">0.4</text>
<line x1="292.5" y1="320.78" x2="295.5" y2="320.78" stroke="#222" stroke-width="0.8"/>
<text x="289.6" y="323.08" font-size="6.3" fill="#333" text-anchor="end" textLength="7.65" lengthAdjust="spacingAndGlyphs" stroke="#333" stroke-width="0.16">0.6</text>
<line x1="292.5" y1="308.64" x2="295.5" y2="308.64" stroke="#222" stroke-width="0.8"/>
<text x="289.6" y="310.94" font-size="6.3" fill="#333" text-anchor="end" textLength="7.65" lengthAdjust="spacingAndGlyphs" stroke="#333" stroke-width="0.16">0.8</text>
<line x1="292.5" y1="296.5" x2="295.5" y2="296.5" stroke="#222" stroke-width="0.8"/>
<text x="289.6" y="298.8" font-size="6.3" fill="#333" text-anchor="end" textLength="3.06" lengthAdjust="spacingAndGlyphs" stroke="#333" stroke-width="0.16">1</text>
<line x1="292.5" y1="284.36" x2="295.5" y2="284.36" stroke="#222" stroke-width="0.8"/>
<text x="289.6" y="286.66" font-size="6.3" fill="#333" text-anchor="end" textLength="7.65" lengthAdjust="spacingAndGlyphs" stroke="#333" stroke-width="0.16">1.2</text>
<line x1="292.5" y1="272.22" x2="295.5" y2="272.22" stroke="#222" stroke-width="0.8"/>
<text x="289.6" y="274.52" font-size="6.3" fill="#333" text-anchor="end" textLength="7.65" lengthAdjust="spacingAndGlyphs" stroke="#333" stroke-width="0.16">1.4</text>
<text x="274.5" y="313.1" font-size="7.8" fill="#222" text-anchor="middle" textLength="74" lengthAdjust="spacingAndGlyphs" transform="rotate(-90 274.5 313.1)" stroke="#222" stroke-width="0.18">ATP secretion (nmol)</text>
<rect x="301.8" y="348.09" width="7.4" height="9.11" fill="#a1313f"/>
<rect x="302.2" y="348.49" width="6.6" height="8.71" fill="none" stroke="#92222f" stroke-width="0.8"/>
<line x1="305.5" y1="348.09" x2="305.5" y2="342.63" stroke="#222" stroke-width="0.75"/>
<line x1="304.5" y1="342.93" x2="306.5" y2="342.93" stroke="#222" stroke-width="0.9"/>
<rect x="309.2" y="345.67" width="7.4" height="11.53" fill="#4b6186"/>
<rect x="309.6" y="346.07" width="6.6" height="11.13" fill="none" stroke="#3c5079" stroke-width="0.8"/>
<line x1="312.9" y1="345.67" x2="312.9" y2="341.42" stroke="#222" stroke-width="0.75"/>
<line x1="311.9" y1="341.72" x2="313.9" y2="341.72" stroke="#222" stroke-width="0.9"/>
<rect x="328.47" y="327.46" width="7.4" height="29.74" fill="#a1313f"/>
<rect x="328.87" y="327.86" width="6.6" height="29.34" fill="none" stroke="#92222f" stroke-width="0.8"/>
<line x1="332.17" y1="327.46" x2="332.17" y2="321.39" stroke="#222" stroke-width="0.75"/>
<line x1="331.17" y1="321.69" x2="333.17" y2="321.69" stroke="#222" stroke-width="0.9"/>
<rect x="335.87" y="328.67" width="7.4" height="28.53" fill="#4b6186"/>
<rect x="336.27" y="329.07" width="6.6" height="28.13" fill="none" stroke="#3c5079" stroke-width="0.8"/>
<line x1="339.57" y1="328.67" x2="339.57" y2="323.21" stroke="#222" stroke-width="0.75"/>
<line x1="338.57" y1="323.51" x2="340.57" y2="323.51" stroke="#222" stroke-width="0.9"/>
<rect x="355.14" y="300.14" width="7.4" height="57.06" fill="#a1313f"/>
<rect x="355.54" y="300.54" width="6.6" height="56.66" fill="none" stroke="#92222f" stroke-width="0.8"/>
<line x1="358.84" y1="300.14" x2="358.84" y2="288" stroke="#222" stroke-width="0.75"/>
<line x1="357.84" y1="288.3" x2="359.84" y2="288.3" stroke="#222" stroke-width="0.9"/>
<rect x="362.54" y="296.5" width="7.4" height="60.7" fill="#4b6186"/>
<rect x="362.94" y="296.9" width="6.6" height="60.3" fill="none" stroke="#3c5079" stroke-width="0.8"/>
<line x1="366.24" y1="296.5" x2="366.24" y2="284.36" stroke="#222" stroke-width="0.75"/>
<line x1="365.24" y1="284.66" x2="367.24" y2="284.66" stroke="#222" stroke-width="0.9"/>
<rect x="389.21" y="340.2" width="7.4" height="17" fill="#4b6186"/>
<rect x="389.61" y="340.6" width="6.6" height="16.6" fill="none" stroke="#3c5079" stroke-width="0.8"/>
<line x1="392.91" y1="340.2" x2="392.91" y2="335.35" stroke="#222" stroke-width="0.75"/>
<line x1="391.91" y1="335.65" x2="393.91" y2="335.65" stroke="#222" stroke-width="0.9"/>
<text x="392.91" y="334.69" font-size="7" fill="#1a1a1a" text-anchor="middle" stroke="#1a1a1a" stroke-width="0.25">*</text>
<rect x="408.48" y="344.45" width="7.4" height="12.75" fill="#a1313f"/>
<rect x="408.88" y="344.85" width="6.6" height="12.35" fill="none" stroke="#92222f" stroke-width="0.8"/>
<line x1="412.18" y1="344.45" x2="412.18" y2="342.63" stroke="#222" stroke-width="0.75"/>
<line x1="411.18" y1="342.93" x2="413.18" y2="342.93" stroke="#222" stroke-width="0.9"/>
<rect x="415.88" y="330.49" width="7.4" height="26.71" fill="#4b6186"/>
<rect x="416.28" y="330.89" width="6.6" height="26.31" fill="none" stroke="#3c5079" stroke-width="0.8"/>
<line x1="419.58" y1="330.49" x2="419.58" y2="323.21" stroke="#222" stroke-width="0.75"/>
<line x1="418.58" y1="323.51" x2="420.58" y2="323.51" stroke="#222" stroke-width="0.9"/>
<text x="419.58" y="322.55" font-size="7" fill="#1a1a1a" text-anchor="middle" stroke="#1a1a1a" stroke-width="0.25">*</text>
<rect x="435.15" y="339.9" width="7.4" height="17.3" fill="#a1313f"/>
<rect x="435.55" y="340.3" width="6.6" height="16.9" fill="none" stroke="#92222f" stroke-width="0.8"/>
<line x1="438.85" y1="339.9" x2="438.85" y2="335.35" stroke="#222" stroke-width="0.75"/>
<line x1="437.85" y1="335.65" x2="439.85" y2="335.65" stroke="#222" stroke-width="0.9"/>
<rect x="442.55" y="323.81" width="7.4" height="33.38" fill="#4b6186"/>
<rect x="442.95" y="324.21" width="6.6" height="32.98" fill="none" stroke="#3c5079" stroke-width="0.8"/>
<line x1="446.25" y1="323.81" x2="446.25" y2="315.32" stroke="#222" stroke-width="0.75"/>
<line x1="445.25" y1="315.62" x2="447.25" y2="315.62" stroke="#222" stroke-width="0.9"/>
<text x="446.25" y="314.66" font-size="7" fill="#1a1a1a" text-anchor="middle" stroke="#1a1a1a" stroke-width="0.25">*</text>
<rect x="461.82" y="349.92" width="7.4" height="7.28" fill="#a1313f"/>
<rect x="462.22" y="350.32" width="6.6" height="6.88" fill="none" stroke="#92222f" stroke-width="0.8"/>
<line x1="465.52" y1="349.92" x2="465.52" y2="348.09" stroke="#222" stroke-width="0.75"/>
<line x1="464.52" y1="348.39" x2="466.52" y2="348.39" stroke="#222" stroke-width="0.9"/>
<rect x="469.22" y="345.67" width="7.4" height="11.53" fill="#4b6186"/>
<rect x="469.62" y="346.07" width="6.6" height="11.13" fill="none" stroke="#3c5079" stroke-width="0.8"/>
<line x1="472.92" y1="345.67" x2="472.92" y2="344.45" stroke="#222" stroke-width="0.75"/>
<line x1="471.92" y1="344.75" x2="473.92" y2="344.75" stroke="#222" stroke-width="0.9"/>
<text x="472.92" y="343.79" font-size="7" fill="#1a1a1a" text-anchor="middle" stroke="#1a1a1a" stroke-width="0.25">*</text>
<rect x="488.49" y="335.95" width="7.4" height="21.25" fill="#a1313f"/>
<rect x="488.89" y="336.35" width="6.6" height="20.85" fill="none" stroke="#92222f" stroke-width="0.8"/>
<line x1="492.19" y1="335.95" x2="492.19" y2="330.49" stroke="#222" stroke-width="0.75"/>
<line x1="491.19" y1="330.79" x2="493.19" y2="330.79" stroke="#222" stroke-width="0.9"/>
<rect x="495.89" y="334.74" width="7.4" height="22.46" fill="#4b6186"/>
<rect x="496.29" y="335.14" width="6.6" height="22.06" fill="none" stroke="#3c5079" stroke-width="0.8"/>
<line x1="499.59" y1="334.74" x2="499.59" y2="328.67" stroke="#222" stroke-width="0.75"/>
<line x1="498.59" y1="328.97" x2="500.59" y2="328.97" stroke="#222" stroke-width="0.9"/>
<line x1="295.5" y1="357.2" x2="295.5" y2="359.8" stroke="#222" stroke-width="0.8"/>
<line x1="322.17" y1="357.2" x2="322.17" y2="359.8" stroke="#222" stroke-width="0.8"/>
<line x1="348.84" y1="357.2" x2="348.84" y2="359.8" stroke="#222" stroke-width="0.8"/>
<line x1="375.51" y1="357.2" x2="375.51" y2="359.8" stroke="#222" stroke-width="0.8"/>
<line x1="402.18" y1="357.2" x2="402.18" y2="359.8" stroke="#222" stroke-width="0.8"/>
<line x1="428.85" y1="357.2" x2="428.85" y2="359.8" stroke="#222" stroke-width="0.8"/>
<line x1="455.52" y1="357.2" x2="455.52" y2="359.8" stroke="#222" stroke-width="0.8"/>
<line x1="482.19" y1="357.2" x2="482.19" y2="359.8" stroke="#222" stroke-width="0.8"/>
<line x1="508.86" y1="357.2" x2="508.86" y2="359.8" stroke="#222" stroke-width="0.8"/>
<rect x="309.6" y="272.4" width="3.6" height="3.6" fill="#a1313f"/>
<rect x="309.6" y="281.7" width="3.6" height="3.6" fill="#4b6186"/>
<text x="316" y="275.7" font-size="5.6" fill="#333" textLength="7.6" lengthAdjust="spacingAndGlyphs" stroke="#333" stroke-width="0.18" style="font-family:'Liberation Serif',serif">WT</text>
<text x="316" y="285" font-size="5.6" fill="#444" textLength="21.4" lengthAdjust="spacingAndGlyphs" stroke="#444" stroke-width="0.1" style="font-family:'Liberation Serif',serif">ELMO1-/-</text>
<text x="309" y="367.8" font-size="6" fill="#2a2a2a" text-anchor="end" textLength="23.11" lengthAdjust="spacingAndGlyphs" transform="rotate(-45 309 367.8)" stroke="#2a2a2a" stroke-width="0.16">AYPGKF</text>
<text x="314.37" y="373.17" font-size="6" fill="#2a2a2a" text-anchor="end" textLength="17.72" lengthAdjust="spacingAndGlyphs" transform="rotate(-45 314.37 373.17)" stroke="#2a2a2a" stroke-width="0.16">50 µM</text>
<text x="336.1" y="367.8" font-size="6" fill="#2a2a2a" text-anchor="end" textLength="23.11" lengthAdjust="spacingAndGlyphs" transform="rotate(-45 336.1 367.8)" stroke="#2a2a2a" stroke-width="0.16">AYPGKF</text>
<text x="341.47" y="373.17" font-size="6" fill="#2a2a2a" text-anchor="end" textLength="21.21" lengthAdjust="spacingAndGlyphs" transform="rotate(-45 341.47 373.17)" stroke="#2a2a2a" stroke-width="0.16">100 µM</text>
<text x="363.2" y="367.8" font-size="6" fill="#2a2a2a" text-anchor="end" textLength="23.11" lengthAdjust="spacingAndGlyphs" transform="rotate(-45 363.2 367.8)" stroke="#2a2a2a" stroke-width="0.16">AYPGKF</text>
<text x="368.57" y="373.17" font-size="6" fill="#2a2a2a" text-anchor="end" textLength="21.21" lengthAdjust="spacingAndGlyphs" transform="rotate(-45 368.57 373.17)" stroke="#2a2a2a" stroke-width="0.16">500 µM</text>
<text x="390.3" y="367.8" font-size="6" fill="#2a2a2a" text-anchor="end" textLength="24.78" lengthAdjust="spacingAndGlyphs" transform="rotate(-45 390.3 367.8)" stroke="#2a2a2a" stroke-width="0.16">CRP 1.25</text>
<text x="395.67" y="373.17" font-size="6" fill="#2a2a2a" text-anchor="end" textLength="18.85" lengthAdjust="spacingAndGlyphs" transform="rotate(-45 395.67 373.17)" stroke="#2a2a2a" stroke-width="0.16">µg/mL</text>
<text x="417.4" y="367.8" font-size="6" fill="#2a2a2a" text-anchor="end" textLength="21.29" lengthAdjust="spacingAndGlyphs" transform="rotate(-45 417.4 367.8)" stroke="#2a2a2a" stroke-width="0.16">CRP 2.5</text>
<text x="422.77" y="373.17" font-size="6" fill="#2a2a2a" text-anchor="end" textLength="18.85" lengthAdjust="spacingAndGlyphs" transform="rotate(-45 422.77 373.17)" stroke="#2a2a2a" stroke-width="0.16">µg/mL</text>
<text x="444.5" y="367.8" font-size="6" fill="#2a2a2a" text-anchor="end" textLength="21.29" lengthAdjust="spacingAndGlyphs" transform="rotate(-45 444.5 367.8)" stroke="#2a2a2a" stroke-width="0.16">CRP 5.0</text>
<text x="449.87" y="373.17" font-size="6" fill="#2a2a2a" text-anchor="end" textLength="17.24" lengthAdjust="spacingAndGlyphs" transform="rotate(-45 449.87 373.17)" stroke="#2a2a2a" stroke-width="0.16">µg/ml</text>
<text x="471.6" y="367.8" font-size="6" fill="#2a2a2a" text-anchor="end" textLength="25.15" lengthAdjust="spacingAndGlyphs" transform="rotate(-45 471.6 367.8)" stroke="#2a2a2a" stroke-width="0.16">Collagen</text>
<text x="476.97" y="373.17" font-size="6" fill="#2a2a2a" text-anchor="end" textLength="22.17" lengthAdjust="spacingAndGlyphs" transform="rotate(-45 476.97 373.17)" stroke="#2a2a2a" stroke-width="0.16">1 µg/ml</text>
<text x="498.7" y="367.8" font-size="6" fill="#2a2a2a" text-anchor="end" textLength="25.15" lengthAdjust="spacingAndGlyphs" transform="rotate(-45 498.7 367.8)" stroke="#2a2a2a" stroke-width="0.16">Collagen</text>
<text x="504.07" y="373.17" font-size="6" fill="#2a2a2a" text-anchor="end" textLength="22.17" lengthAdjust="spacingAndGlyphs" transform="rotate(-45 504.07 373.17)" stroke="#2a2a2a" stroke-width="0.16">3 µg/ml</text>
<text x="8.7" y="421.3" font-size="9" fill="#1a1a1a" stroke="#1a1a1a" stroke-width="0.05">E</text>
<line x1="41.4" y1="430" x2="41.4" y2="530.4" stroke="#1a1a1a" stroke-width="1.1"/>
<line x1="40.9" y1="530" x2="210.8" y2="530" stroke="#1a1a1a" stroke-width="1.1"/>
<line x1="38.4" y1="530" x2="41.4" y2="530" stroke="#222" stroke-width="0.8"/>
<text x="35.2" y="532.1" font-size="5.8" fill="#333" text-anchor="end" textLength="2.78" lengthAdjust="spacingAndGlyphs" stroke="#333" stroke-width="0.16">0</text>
<line x1="38.4" y1="510.54" x2="41.4" y2="510.54" stroke="#222" stroke-width="0.8"/>
<text x="35.2" y="512.64" font-size="5.8" fill="#333" text-anchor="end" textLength="2.78" lengthAdjust="spacingAndGlyphs" stroke="#333" stroke-width="0.16">1</text>
<line x1="38.4" y1="491.08" x2="41.4" y2="491.08" stroke="#222" stroke-width="0.8"/>
<text x="35.2" y="493.18" font-size="5.8" fill="#333" text-anchor="end" textLength="2.78" lengthAdjust="spacingAndGlyphs" stroke="#333" stroke-width="0.16">2</text>
<line x1="38.4" y1="471.62" x2="41.4" y2="471.62" stroke="#222" stroke-width="0.8"/>
<text x="35.2" y="473.72" font-size="5.8" fill="#333" text-anchor="end" textLength="2.78" lengthAdjust="spacingAndGlyphs" stroke="#333" stroke-width="0.16">3</text>
<line x1="38.4" y1="452.16" x2="41.4" y2="452.16" stroke="#222" stroke-width="0.8"/>
<text x="35.2" y="454.26" font-size="5.8" fill="#333" text-anchor="end" textLength="2.78" lengthAdjust="spacingAndGlyphs" stroke="#333" stroke-width="0.16">4</text>
<line x1="38.4" y1="432.7" x2="41.4" y2="432.7" stroke="#222" stroke-width="0.8"/>
<text x="35.2" y="434.8" font-size="5.8" fill="#333" text-anchor="end" textLength="2.78" lengthAdjust="spacingAndGlyphs" stroke="#333" stroke-width="0.16">5</text>
<text x="16" y="480" font-size="8.4" fill="#222" text-anchor="middle" textLength="83.5" lengthAdjust="spacingAndGlyphs" transform="rotate(-90 16 480)" stroke="#222" stroke-width="0.18">Fold increase over basal</text>
<text x="25" y="480.7" font-size="8" fill="#222" text-anchor="middle" textLength="58.5" lengthAdjust="spacingAndGlyphs" transform="rotate(-90 25 480.7)" stroke="#222" stroke-width="0.18">(P-selectin-FITC)</text>
<rect x="51.8" y="498.47" width="8.8" height="31.53" fill="#a1313f"/>
<rect x="52.2" y="498.87" width="8" height="31.13" fill="none" stroke="#92222f" stroke-width="0.8"/>
<rect x="64.3" y="488.74" width="8.8" height="41.26" fill="#4b6186"/>
<rect x="64.7" y="489.14" width="8" height="40.86" fill="none" stroke="#3c5079" stroke-width="0.8"/>
<line x1="56.2" y1="498.47" x2="56.2" y2="494.97" stroke="#222" stroke-width="0.75"/>
<line x1="55.2" y1="495.27" x2="57.2" y2="495.27" stroke="#222" stroke-width="0.9"/>
<line x1="68.7" y1="488.74" x2="68.7" y2="485.83" stroke="#222" stroke-width="0.75"/>
<line x1="67.7" y1="486.13" x2="69.7" y2="486.13" stroke="#222" stroke-width="0.9"/>
<text x="68.7" y="485.47" font-size="7" fill="#1a1a1a" text-anchor="middle" stroke="#1a1a1a" stroke-width="0.25">*</text>
<rect x="94.3" y="490.5" width="8.8" height="39.5" fill="#a1313f"/>
<rect x="94.7" y="490.9" width="8" height="39.1" fill="none" stroke="#92222f" stroke-width="0.8"/>
<rect x="106.8" y="475.71" width="8.8" height="54.29" fill="#4b6186"/>
<rect x="107.2" y="476.11" width="8" height="53.89" fill="none" stroke="#3c5079" stroke-width="0.8"/>
<line x1="98.7" y1="490.5" x2="98.7" y2="488.16" stroke="#222" stroke-width="0.75"/>
<line x1="97.7" y1="488.46" x2="99.7" y2="488.46" stroke="#222" stroke-width="0.9"/>
<line x1="111.2" y1="475.71" x2="111.2" y2="471.04" stroke="#222" stroke-width="0.75"/>
<line x1="110.2" y1="471.34" x2="112.2" y2="471.34" stroke="#222" stroke-width="0.9"/>
<text x="111.2" y="470.68" font-size="7" fill="#1a1a1a" text-anchor="middle" stroke="#1a1a1a" stroke-width="0.25">*</text>
<rect x="136.8" y="482.91" width="8.8" height="47.09" fill="#a1313f"/>
<rect x="137.2" y="483.31" width="8" height="46.69" fill="none" stroke="#92222f" stroke-width="0.8"/>
<rect x="149.3" y="465.98" width="8.8" height="64.02" fill="#4b6186"/>
<rect x="149.7" y="466.38" width="8" height="63.62" fill="none" stroke="#3c5079" stroke-width="0.8"/>
<line x1="141.2" y1="482.91" x2="141.2" y2="481.35" stroke="#222" stroke-width="0.75"/>
<line x1="140.2" y1="481.65" x2="142.2" y2="481.65" stroke="#222" stroke-width="0.9"/>
<line x1="153.7" y1="465.98" x2="153.7" y2="459.94" stroke="#222" stroke-width="0.75"/>
<line x1="152.7" y1="460.24" x2="154.7" y2="460.24" stroke="#222" stroke-width="0.9"/>
<text x="153.7" y="459.58" font-size="7" fill="#1a1a1a" text-anchor="middle" stroke="#1a1a1a" stroke-width="0.25">*</text>
<rect x="179.3" y="479.79" width="8.8" height="50.21" fill="#a1313f"/>
<rect x="179.7" y="480.19" width="8" height="49.81" fill="none" stroke="#92222f" stroke-width="0.8"/>
<rect x="191.8" y="455.08" width="8.8" height="74.92" fill="#4b6186"/>
<rect x="192.2" y="455.48" width="8" height="74.52" fill="none" stroke="#3c5079" stroke-width="0.8"/>
<line x1="183.7" y1="479.79" x2="183.7" y2="477.46" stroke="#222" stroke-width="0.75"/>
<line x1="182.7" y1="477.76" x2="184.7" y2="477.76" stroke="#222" stroke-width="0.9"/>
<line x1="196.2" y1="455.08" x2="196.2" y2="447.49" stroke="#222" stroke-width="0.75"/>
<line x1="195.2" y1="447.79" x2="197.2" y2="447.79" stroke="#222" stroke-width="0.9"/>
<text x="196.2" y="447.13" font-size="7" fill="#1a1a1a" text-anchor="middle" stroke="#1a1a1a" stroke-width="0.25">*</text>
<rect x="53" y="432.95" width="3.7" height="3.7" fill="#a1313f"/>
<rect x="53" y="441.9" width="3.7" height="3.7" fill="#4b6186"/>
<text x="59.5" y="436.35" font-size="4.9" fill="#333" textLength="7.3" lengthAdjust="spacingAndGlyphs" stroke="#333" stroke-width="0.18" style="font-family:'Liberation Serif',serif">WT</text>
<text x="59.5" y="445.3" font-size="4.9" fill="#444" textLength="21.6" lengthAdjust="spacingAndGlyphs" stroke="#444" stroke-width="0.1" style="font-family:'Liberation Serif',serif">ELMO1-/-</text>
<text x="62.4" y="542" font-size="5.9" fill="#333" text-anchor="middle" textLength="14.26" lengthAdjust="spacingAndGlyphs" stroke="#333" stroke-width="0.16">0.625</text>
<text x="104.8" y="542" font-size="5.9" fill="#333" text-anchor="middle" textLength="11.09" lengthAdjust="spacingAndGlyphs" stroke="#333" stroke-width="0.16">1.25</text>
<text x="146.6" y="542" font-size="5.9" fill="#333" text-anchor="middle" textLength="7.92" lengthAdjust="spacingAndGlyphs" stroke="#333" stroke-width="0.16">2.5</text>
<text x="189.2" y="542" font-size="5.9" fill="#333" text-anchor="middle" textLength="3.17" lengthAdjust="spacingAndGlyphs" stroke="#333" stroke-width="0.16">5</text>
<text x="126.6" y="553.4" font-size="7.8" fill="#222" text-anchor="middle" textLength="45" lengthAdjust="spacingAndGlyphs" stroke="#222" stroke-width="0.16">CRP (µg/mL)</text>
<text x="263" y="427.8" font-size="9.5" fill="#1a1a1a" stroke="#1a1a1a" stroke-width="0.05">F</text>
<line x1="296" y1="436" x2="296" y2="530.4" stroke="#1a1a1a" stroke-width="1.1"/>
<line x1="295.5" y1="530" x2="465.8" y2="530" stroke="#1a1a1a" stroke-width="1.1"/>
<line x1="293" y1="530" x2="296" y2="530" stroke="#222" stroke-width="0.8"/>
<text x="290.2" y="532.1" font-size="5.8" fill="#333" text-anchor="end" textLength="2.78" lengthAdjust="spacingAndGlyphs" stroke="#333" stroke-width="0.16">0</text>
<line x1="293" y1="514.8" x2="296" y2="514.8" stroke="#222" stroke-width="0.8"/>
<text x="290.2" y="516.9" font-size="5.8" fill="#333" text-anchor="end" textLength="2.78" lengthAdjust="spacingAndGlyphs" stroke="#333" stroke-width="0.16">1</text>
<line x1="293" y1="499.6" x2="296" y2="499.6" stroke="#222" stroke-width="0.8"/>
<text x="290.2" y="501.7" font-size="5.8" fill="#333" text-anchor="end" textLength="2.78" lengthAdjust="spacingAndGlyphs" stroke="#333" stroke-width="0.16">2</text>
<line x1="293" y1="484.4" x2="296" y2="484.4" stroke="#222" stroke-width="0.8"/>
<text x="290.2" y="486.5" font-size="5.8" fill="#333" text-anchor="end" textLength="2.78" lengthAdjust="spacingAndGlyphs" stroke="#333" stroke-width="0.16">3</text>
<line x1="293" y1="469.2" x2="296" y2="469.2" stroke="#222" stroke-width="0.8"/>
<text x="290.2" y="471.3" font-size="5.8" fill="#333" text-anchor="end" textLength="2.78" lengthAdjust="spacingAndGlyphs" stroke="#333" stroke-width="0.16">4</text>
<line x1="293" y1="454" x2="296" y2="454" stroke="#222" stroke-width="0.8"/>
<text x="290.2" y="456.1" font-size="5.8" fill="#333" text-anchor="end" textLength="2.78" lengthAdjust="spacingAndGlyphs" stroke="#333" stroke-width="0.16">5</text>
<line x1="293" y1="438.8" x2="296" y2="438.8" stroke="#222" stroke-width="0.8"/>
<text x="290.2" y="440.9" font-size="5.8" fill="#333" text-anchor="end" textLength="2.78" lengthAdjust="spacingAndGlyphs" stroke="#333" stroke-width="0.16">6</text>
<text x="269.5" y="483.2" font-size="8.2" fill="#222" text-anchor="middle" textLength="85.6" lengthAdjust="spacingAndGlyphs" transform="rotate(-90 269.5 483.2)" stroke="#222" stroke-width="0.18">Fold increase over basal</text>
<text x="279.4" y="483.5" font-size="7.7" fill="#222" text-anchor="middle" textLength="44.5" lengthAdjust="spacingAndGlyphs" transform="rotate(-90 279.4 483.5)" stroke="#222" stroke-width="0.18">(JON/A-PE)</text>
<rect x="306.5" y="508.72" width="9.2" height="21.28" fill="#a1313f"/>
<rect x="306.9" y="509.12" width="8.4" height="20.88" fill="none" stroke="#92222f" stroke-width="0.8"/>
<rect x="319" y="486.22" width="9.2" height="43.78" fill="#4b6186"/>
<rect x="319.4" y="486.62" width="8.4" height="43.38" fill="none" stroke="#3c5079" stroke-width="0.8"/>
<line x1="311.1" y1="508.72" x2="311.1" y2="504.01" stroke="#222" stroke-width="0.75"/>
<line x1="310.1" y1="504.31" x2="312.1" y2="504.31" stroke="#222" stroke-width="0.9"/>
<line x1="323.6" y1="486.22" x2="323.6" y2="483.94" stroke="#222" stroke-width="0.75"/>
<line x1="322.6" y1="484.24" x2="324.6" y2="484.24" stroke="#222" stroke-width="0.9"/>
<text x="323.6" y="483.58" font-size="7" fill="#1a1a1a" text-anchor="middle" stroke="#1a1a1a" stroke-width="0.25">*</text>
<rect x="349" y="499.3" width="9.2" height="30.7" fill="#a1313f"/>
<rect x="349.4" y="499.7" width="8.4" height="30.3" fill="none" stroke="#92222f" stroke-width="0.8"/>
<rect x="361" y="473" width="9.2" height="57" fill="#4b6186"/>
<rect x="361.4" y="473.4" width="8.4" height="56.6" fill="none" stroke="#3c5079" stroke-width="0.8"/>
<line x1="353.6" y1="499.3" x2="353.6" y2="494.28" stroke="#222" stroke-width="0.75"/>
<line x1="352.6" y1="494.58" x2="354.6" y2="494.58" stroke="#222" stroke-width="0.9"/>
<line x1="365.6" y1="473" x2="365.6" y2="469.5" stroke="#222" stroke-width="0.75"/>
<line x1="364.6" y1="469.8" x2="366.6" y2="469.8" stroke="#222" stroke-width="0.9"/>
<text x="365.6" y="469.14" font-size="7" fill="#1a1a1a" text-anchor="middle" stroke="#1a1a1a" stroke-width="0.25">*</text>
<rect x="391.6" y="475.43" width="9.2" height="54.57" fill="#a1313f"/>
<rect x="392" y="475.83" width="8.4" height="54.17" fill="none" stroke="#92222f" stroke-width="0.8"/>
<rect x="403.7" y="460.69" width="9.2" height="69.31" fill="#4b6186"/>
<rect x="404.1" y="461.09" width="8.4" height="68.91" fill="none" stroke="#3c5079" stroke-width="0.8"/>
<line x1="396.2" y1="475.43" x2="396.2" y2="469.66" stroke="#222" stroke-width="0.75"/>
<line x1="395.2" y1="469.96" x2="397.2" y2="469.96" stroke="#222" stroke-width="0.9"/>
<line x1="408.3" y1="460.69" x2="408.3" y2="456.28" stroke="#222" stroke-width="0.75"/>
<line x1="407.3" y1="456.58" x2="409.3" y2="456.58" stroke="#222" stroke-width="0.9"/>
<text x="408.3" y="455.92" font-size="7" fill="#1a1a1a" text-anchor="middle" stroke="#1a1a1a" stroke-width="0.25">*</text>
<rect x="433.7" y="469.05" width="9.2" height="60.95" fill="#a1313f"/>
<rect x="434.1" y="469.45" width="8.4" height="60.55" fill="none" stroke="#92222f" stroke-width="0.8"/>
<rect x="445.9" y="450.35" width="9.2" height="79.65" fill="#4b6186"/>
<rect x="446.3" y="450.75" width="8.4" height="79.25" fill="none" stroke="#3c5079" stroke-width="0.8"/>
<line x1="438.3" y1="469.05" x2="438.3" y2="462.66" stroke="#222" stroke-width="0.75"/>
<line x1="437.3" y1="462.96" x2="439.3" y2="462.96" stroke="#222" stroke-width="0.9"/>
<line x1="450.5" y1="450.35" x2="450.5" y2="444.27" stroke="#222" stroke-width="0.75"/>
<line x1="449.5" y1="444.57" x2="451.5" y2="444.57" stroke="#222" stroke-width="0.9"/>
<text x="450.5" y="443.91" font-size="7" fill="#1a1a1a" text-anchor="middle" stroke="#1a1a1a" stroke-width="0.25">*</text>
<rect x="305" y="440.4" width="3.8" height="3.8" fill="#a1313f"/>
<rect x="305" y="449.6" width="3.8" height="3.8" fill="#4b6186"/>
<text x="311.4" y="443.9" font-size="4.9" fill="#333" textLength="7.3" lengthAdjust="spacingAndGlyphs" stroke="#333" stroke-width="0.18" style="font-family:'Liberation Serif',serif">WT</text>
<text x="311.4" y="453.1" font-size="4.9" fill="#444" textLength="21.6" lengthAdjust="spacingAndGlyphs" stroke="#444" stroke-width="0.1" style="font-family:'Liberation Serif',serif">ELMO1-/-</text>
<text x="316.9" y="541.8" font-size="5.9" fill="#333" text-anchor="middle" textLength="14.01" lengthAdjust="spacingAndGlyphs" stroke="#333" stroke-width="0.16">0.625</text>
<text x="360" y="541.8" font-size="5.9" fill="#333" text-anchor="middle" textLength="10.9" lengthAdjust="spacingAndGlyphs" stroke="#333" stroke-width="0.16">1.25</text>
<text x="402" y="541.8" font-size="5.9" fill="#333" text-anchor="middle" textLength="7.78" lengthAdjust="spacingAndGlyphs" stroke="#333" stroke-width="0.16">2.5</text>
<text x="444.1" y="541.8" font-size="5.9" fill="#333" text-anchor="middle" textLength="3.11" lengthAdjust="spacingAndGlyphs" stroke="#333" stroke-width="0.16">5</text>
<text x="380.5" y="553.6" font-size="7.8" fill="#222" text-anchor="middle" textLength="45.3" lengthAdjust="spacingAndGlyphs" stroke="#222" stroke-width="0.16">CRP (µg/mL)</text>
<rect x="0" y="0" width="518.5" height="1.1" fill="#1a1a1a"/>
<rect x="0" y="0" width="1.2" height="25" fill="#222"/>
<rect x="0" y="25" width="2.2" height="135" fill="#7c7c7c"/>
<rect x="1" y="160" width="1.2" height="138" fill="#2e2e2e"/>
<rect x="0.8" y="298" width="1.8" height="67" fill="#7c7c7c"/>
<rect x="1.2" y="365" width="1.2" height="40" fill="#2e2e2e"/>
<rect x="0" y="405" width="2.3" height="29" fill="#7c7c7c"/>
<rect x="1.4" y="434" width="1" height="46" fill="#2e2e2e"/>
<rect x="1.2" y="480" width="1.4" height="23" fill="#7c7c7c"/>
<rect x="1.8" y="503" width="1" height="66" fill="#2e2e2e"/>
<rect x="516.4" y="0" width="1.5" height="26" fill="#333"/>
<rect x="516.9" y="26" width="1.5" height="300" fill="#3a3a3a"/>
<rect x="517.4" y="326" width="1.8" height="241" fill="#444"/>
<rect x="2" y="566.6" width="517.4" height="2.4" fill="#444"/>
</svg>
</body></html>
